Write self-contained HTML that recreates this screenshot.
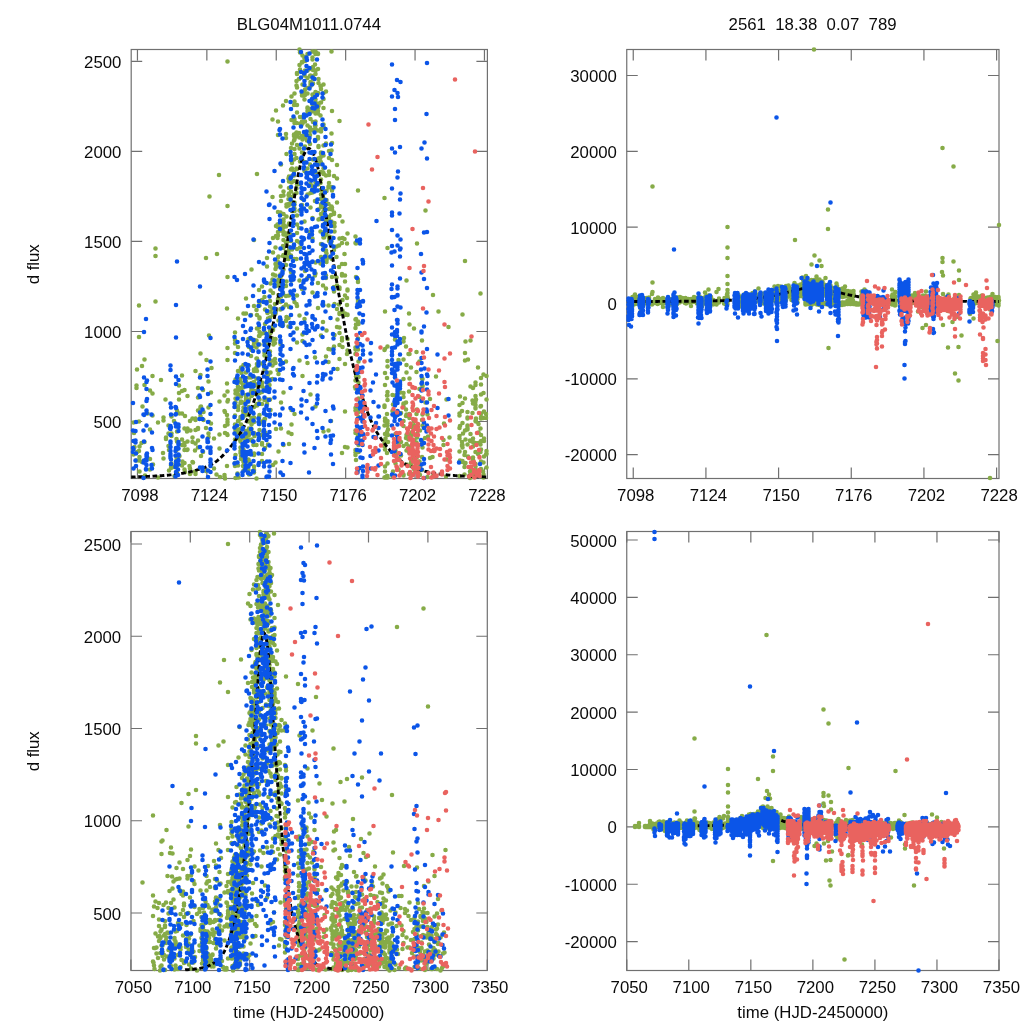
<!DOCTYPE html><html><head><meta charset="utf-8"><title>BLG04M1011.0744</title><style>html,body{margin:0;padding:0;background:#fff;overflow:hidden}svg{display:block;will-change:transform}</style></head><body><svg width="1024" height="1024" viewBox="0 0 1024 1024">
<rect width="1024" height="1024" fill="#fff"/>
<defs><clipPath id="cTL"><rect x="128.6" y="46.9" width="361.4" height="434.2"/></clipPath><clipPath id="kTL"><rect x="131.2" y="49.5" width="356.2" height="430.2"/></clipPath><clipPath id="cTR"><rect x="624.15" y="46.9" width="377.45" height="434.2"/></clipPath><clipPath id="kTR"><rect x="626.75" y="49.5" width="372.25" height="430.2"/></clipPath><clipPath id="cBL"><rect x="128.4" y="528.9" width="361.5" height="444.2"/></clipPath><clipPath id="kBL"><rect x="131.0" y="531.5" width="356.3" height="440.2"/></clipPath><clipPath id="cBR"><rect x="624.15" y="528.9" width="377.45" height="444.2"/></clipPath><clipPath id="kBR"><rect x="626.75" y="531.5" width="372.25" height="440.2"/></clipPath></defs>
<g stroke="#707070" stroke-width="1.2" fill="none"><rect x="131.2" y="49.5" width="356.2" height="429.0"/><path d="M137.45 49.50v11.0M137.45 478.50v-11.0M206.85 49.50v11.0M206.85 478.50v-11.0M276.25 49.50v11.0M276.25 478.50v-11.0M345.65 49.50v11.0M345.65 478.50v-11.0M415.05 49.50v11.0M415.05 478.50v-11.0M484.45 49.50v11.0M484.45 478.50v-11.0M131.20 421.50h11.0M487.40 421.50h-11.0M131.20 331.48h11.0M487.40 331.48h-11.0M131.20 241.45h11.0M487.40 241.45h-11.0M131.20 151.43h11.0M487.40 151.43h-11.0M131.20 61.40h11.0M487.40 61.40h-11.0"/></g>
<g fill="none" stroke-width="4.6" stroke-linecap="round">
<path d="M134.5 447h0M133.5 454.5h0M133.5 422.5h0M134 433h0M136.5 388h0M136.5 460.5h0M137 452h0M137 369.5h0M136.5 385.5h0M139 451h0M139 460.5h0M139.5 446.5h0M139.5 471.5h0M139.5 457h0M139 305.5h0M139 421.5h0M139.5 460.5h0M142 366h0M142 462h0M141.5 443h0M142.5 406.5h0M145 475.5h0M144.5 385h0M144.5 359.5h0M144.5 442h0M147.5 413.5h0M150 459h0M150 429.5h0M150 390.5h0M150 469.5h0M152.5 415.5h0M153 464.5h0M152.5 393.5h0M152.5 376h0M155.5 301.5h0M158 422.5h0M158 477.5h0M161 380h0M163 453h0M163.5 458.5h0M163.5 420.5h0M163.5 417.5h0M166 437.5h0M166 439h0M165.5 399.5h0M169 470.5h0M168.5 425.5h0M169 450h0M168.5 433.5h0M168.5 446h0M171.5 463.5h0M171.5 416.5h0M171.5 436h0M171 465.5h0M171 468h0M171.5 433.5h0M174 421h0M174 467h0M174.5 476h0M177 431.5h0M177 466h0M176.5 450h0M176.5 467.5h0M176.5 439h0M177 410.5h0M177 441.5h0M176.5 457.5h0M177 473h0M176.5 460.5h0M177 474h0M179.5 456h0M179 393h0M179 455.5h0M179 385.5h0M179 399.5h0M179.5 413.5h0M182 465.5h0M182 391h0M182 375.5h0M182 445h0M182 439.5h0M182.5 461.5h0M182 413.5h0M184.5 443h0M185 472h0M184.5 445.5h0M185 416h0M184.5 390h0M184.5 428.5h0M184.5 450h0M184.5 469.5h0M184.5 463h0M187 450h0M187.5 428.5h0M187.5 449.5h0M187.5 396h0M187.5 441.5h0M187 431.5h0M190.5 430.5h0M190 474h0M190.5 473h0M190 473.5h0M189.5 466h0M190 421h0M190 468.5h0M193 462.5h0M192.5 437.5h0M192.5 462h0M192.5 418.5h0M192.5 442h0M195.5 474h0M195 450.5h0M195 471.5h0M195.5 371h0M195.5 472h0M195.5 420h0M195.5 418.5h0M195.5 443.5h0M195.5 430h0M198 440.5h0M198 410.5h0M198 429h0M198 428h0M198 447.5h0M198 388h0M198 397.5h0M200.5 416h0M200.5 407h0M201 456h0M200.5 407.5h0M201 406.5h0M200.5 353.5h0M200.5 375h0M203.5 412h0M203.5 420h0M203 390h0M203 452h0M206 471h0M206 428h0M206.5 360h0M206 258h0M209 335.5h0M208.5 433.5h0M208.5 407.5h0M208.5 381.5h0M208.5 437h0M209 422h0M211.5 368h0M211 392.5h0M211 423.5h0M214 468.5h0M214 438.5h0M216.5 474.5h0M217 254h0M219.5 434.5h0M219.5 448.5h0M219.5 401.5h0M220 477h0M225 426h0M225 433h0M225 412h0M224.5 475h0M224.5 411h0M224.5 476.5h0M225 478.5h0M224.5 395.5h0M227 415h0M227.5 206h0M227.5 277h0M227.5 435h0M227.5 401.5h0M227 308.5h0M227.5 424.5h0M227 383.5h0M227.5 360h0M228 400h0M227 466h0M227.5 422h0M227.5 391.5h0M227 434h0M227.5 348h0M227.5 419.5h0M235.5 430.5h0M235 463.5h0M235.5 455h0M235 340h0M235 463h0M235 415.5h0M235.5 478h0M235.5 398.5h0M235 428h0M235.5 379.5h0M235.5 390.5h0M235 424.5h0M235 466h0M235 353h0M235 343.5h0M235.5 402.5h0M235.5 393.5h0M235.5 405.5h0M235 439.5h0M235 332.5h0M238.5 477.5h0M238 394.5h0M238 432.5h0M237.5 407.5h0M238 421h0M237.5 473.5h0M238 347h0M238.5 438.5h0M238 387h0M238 410h0M238 390.5h0M238 465.5h0M238 386.5h0M238 371h0M237.5 393.5h0M237.5 429.5h0M238 406.5h0M238 408.5h0M238.5 421h0M238 318.5h0M240.5 403h0M241 436h0M241 429.5h0M240.5 419h0M241 459h0M240.5 429h0M240.5 417h0M241.5 373h0M241 388h0M241 396.5h0M240.5 379h0M240.5 453h0M240.5 370h0M241 424.5h0M241 389.5h0M240.5 447.5h0M241 382.5h0M240.5 434.5h0M240.5 441.5h0M241 401.5h0M241 456h0M241 367.5h0M240.5 451h0M240.5 441h0M243.5 412.5h0M243 402.5h0M243.5 462h0M243.5 416.5h0M243.5 434.5h0M243.5 415h0M243.5 385.5h0M243 387.5h0M243.5 414h0M243.5 407.5h0M243 385h0M243.5 450h0M243 411h0M243 466h0M243.5 365h0M243.5 413h0M243.5 470.5h0M243 438h0M243.5 313.5h0M246 298.5h0M246 395.5h0M246 455h0M246 412h0M246 410.5h0M246 401h0M246 313.5h0M246 396.5h0M246 399h0M246 413.5h0M246 440h0M246 436.5h0M246.5 453.5h0M246 372.5h0M246.5 415h0M246 381.5h0M246 395h0M246 413h0M246 431h0M246 433.5h0M249 461.5h0M249 431.5h0M248.5 408h0M249 439.5h0M248.5 401.5h0M248.5 415h0M249 377.5h0M249 399.5h0M249 407h0M249 435h0M248.5 452h0M249 474.5h0M249 384h0M248.5 421.5h0M248.5 339h0M249 365.5h0M248.5 459.5h0M248.5 470h0M249 347h0M249 428.5h0M251.5 390h0M251.5 390.5h0M251.5 439.5h0M251.5 418h0M251 356h0M251.5 424.5h0M251.5 388.5h0M251.5 396h0M251 315h0M251.5 339h0M251.5 429h0M251 420.5h0M251 392h0M252 395.5h0M251.5 350h0M251 377.5h0M251.5 394.5h0M251.5 269.5h0M251.5 383h0M251.5 440.5h0M252 384.5h0M254 306h0M254 422h0M254.5 371h0M253.5 445h0M254 391h0M253.5 346h0M254.5 436h0M254 433h0M254 343h0M254 382h0M254 407h0M254 369.5h0M254 453.5h0M254 466.5h0M254 340h0M254 371h0M254 455h0M254 470h0M254 417.5h0M254 240h0M254 382.5h0M254 472.5h0M256.5 445h0M256.5 367.5h0M257 404h0M257 364h0M257 405.5h0M256.5 478.5h0M257 315h0M256.5 378.5h0M257 174h0M256.5 310h0M256.5 347.5h0M257 328.5h0M257 385.5h0M257 371h0M256.5 358.5h0M256.5 405h0M256.5 342.5h0M257 358.5h0M257 390.5h0M257 395h0M256.5 340.5h0M257 384.5h0M259 290h0M259 336h0M259.5 302h0M259.5 399.5h0M259.5 430h0M259.5 317.5h0M259.5 336h0M259.5 393h0M259.5 332h0M259.5 305.5h0M259 378.5h0M259 302h0M259 417h0M259 418h0M259.5 415h0M259.5 424h0M259 380h0M259.5 318.5h0M259 327.5h0M259.5 344.5h0M259 403.5h0M262 286.5h0M262 392h0M262 363.5h0M262 300h0M262 434.5h0M262 333.5h0M262 386.5h0M262 385.5h0M262 382.5h0M262 454h0M262 435h0M261.5 383.5h0M262.5 301h0M262 461.5h0M262 461h0M262 421.5h0M262 444.5h0M262 404h0M262 383h0M262 443h0M265 432.5h0M264.5 355.5h0M265 368.5h0M265 370h0M265 309.5h0M265 333h0M265 448h0M264.5 369h0M264.5 297h0M264.5 388.5h0M265 419h0M265 344h0M264.5 400h0M264.5 419h0M265 324h0M264.5 420h0M265 332.5h0M264.5 353h0M264.5 343h0M267 372.5h0M267 343h0M267.5 399.5h0M267.5 340h0M267.5 312.5h0M268 444.5h0M267.5 351.5h0M268 351.5h0M268 335.5h0M267 266.5h0M267 404h0M267 258h0M267.5 313h0M267.5 357.5h0M267.5 348h0M268 318.5h0M267.5 382h0M268 375h0M267.5 349.5h0M267 400.5h0M270 306.5h0M270.5 333h0M269.5 385h0M270 331.5h0M270.5 372.5h0M270.5 361.5h0M270 317.5h0M270.5 290.5h0M270.5 410h0M270.5 328h0M270 301h0M270.5 380h0M270.5 338.5h0M270.5 311.5h0M270.5 283.5h0M270 379.5h0M270 399.5h0M270 355.5h0M270 351.5h0M270 331h0M273.5 344.5h0M273 341h0M273 328.5h0M273 329h0M272.5 280h0M273 315h0M272.5 379h0M272.5 338.5h0M273 330h0M272.5 279.5h0M273 293h0M273.5 326.5h0M273 360.5h0M273 274.5h0M272.5 197h0M273 238h0M272.5 365.5h0M273 465h0M272.5 119.5h0M272.5 308.5h0M273 314h0M273 252.5h0M275.5 363h0M275.5 269h0M275.5 310h0M275.5 247.5h0M276 236h0M275.5 462.5h0M275.5 275.5h0M276 286h0M275 304h0M276 429h0M276 311h0M275 359h0M276 226h0M275.5 264h0M275.5 339h0M276 110.5h0M275 343h0M276 267.5h0M275.5 313.5h0M278 262h0M278 257.5h0M277.5 238h0M278.5 320.5h0M278 299h0M278.5 285h0M278.5 279.5h0M278.5 295h0M278 212h0M277.5 370h0M278 235.5h0M278 263.5h0M278 135h0M277.5 224.5h0M278 232h0M278.5 256.5h0M278.5 451.5h0M278 227h0M278 300h0M278.5 374h0M278 121.5h0M278.5 298.5h0M278 282h0M278 265h0M281 402.5h0M280.5 266h0M281 428.5h0M280.5 230.5h0M281 287h0M281 296.5h0M281 324.5h0M281 361.5h0M280.5 301h0M281 201h0M281 196h0M280.5 309h0M280.5 274.5h0M280.5 212.5h0M281 325.5h0M280.5 302h0M280.5 344h0M280.5 277.5h0M280.5 309.5h0M281 296h0M280.5 284h0M280.5 214.5h0M281 164.5h0M281 227.5h0M280.5 186.5h0M283.5 445h0M283 256h0M283.5 221.5h0M283 293h0M283 105.5h0M283.5 255h0M283.5 191.5h0M283.5 269.5h0M283.5 214h0M283.5 307h0M283.5 224.5h0M283.5 195.5h0M283 246h0M283.5 240h0M283.5 392.5h0M283.5 232.5h0M283 286h0M283.5 234.5h0M283 228h0M283.5 219.5h0M283.5 232h0M283 325h0M283 294.5h0M283.5 248h0M286.5 204.5h0M286.5 317h0M286 286h0M286.5 206.5h0M286.5 154h0M286 242.5h0M286.5 281.5h0M286 320.5h0M286.5 216.5h0M286.5 236h0M286 259h0M286 226.5h0M286 296h0M286 361.5h0M286 252h0M286 256h0M286 321h0M286 304.5h0M286 256.5h0M286 134h0M286 138h0M286 101h0M286 265h0M286.5 233.5h0M286.5 242.5h0M288.5 318h0M288.5 178.5h0M288.5 241h0M288.5 234.5h0M288.5 199h0M288.5 253h0M289 307h0M289 247h0M288.5 195h0M288.5 432.5h0M289 223.5h0M289 306.5h0M289 193.5h0M288.5 259h0M289 181.5h0M289 295.5h0M288.5 205.5h0M289 257.5h0M289 250h0M288.5 326.5h0M289 233h0M288.5 204h0M289 188h0M289 176.5h0M289 444h0M291 241h0M292 211h0M291.5 217.5h0M291.5 201.5h0M292 249.5h0M292 163h0M291 148h0M291 204h0M291 223.5h0M291 255.5h0M291.5 278.5h0M291.5 235h0M291.5 160h0M291 191.5h0M291.5 280.5h0M291 272h0M291 197h0M291.5 120h0M292 176h0M291.5 410h0M291.5 434h0M291.5 96.5h0M291 169.5h0M292 143.5h0M291.5 182.5h0M291.5 424.5h0M292 168.5h0M294.5 119h0M294.5 202.5h0M294.5 149h0M294.5 123h0M294.5 259h0M294 194.5h0M294.5 93.5h0M294.5 211h0M294.5 204.5h0M294.5 101.5h0M294 134.5h0M294 206h0M294.5 139h0M294.5 154h0M294 181h0M294.5 414h0M294.5 121h0M294 171.5h0M294 136h0M294 175.5h0M294 105h0M294.5 302h0M294.5 139.5h0M294.5 208.5h0M294 159.5h0M294 140.5h0M296.5 188.5h0M296.5 158h0M296.5 193h0M296.5 123h0M297 105h0M297 224.5h0M297 215.5h0M296.5 304h0M296.5 168.5h0M297 74h0M297 184.5h0M297 145h0M296.5 85.5h0M296.5 259h0M297 295.5h0M297 87.5h0M297 233h0M297 342.5h0M297 73h0M297 328.5h0M297 169h0M296.5 81h0M297 112.5h0M297 136h0M296.5 132.5h0M297 241h0M297 134h0M297 249h0M296.5 136.5h0M297 306h0M299.5 210.5h0M299 79h0M300 247.5h0M299 228h0M299.5 49.5h0M299.5 184h0M300 117h0M299.5 148.5h0M299.5 280.5h0M300 161.5h0M300 52.5h0M299.5 65h0M299.5 315.5h0M299.5 360.5h0M299 133h0M300 123.5h0M299.5 137.5h0M299.5 242.5h0M300 69.5h0M302 93.5h0M302.5 55.5h0M302.5 341h0M302 208.5h0M302 158h0M302 160h0M302 95.5h0M302.5 376h0M302 152.5h0M302 136h0M302.5 123.5h0M302 124h0M302 62h0M302 138h0M302 289h0M302.5 136h0M302 205h0M302.5 95.5h0M302.5 334.5h0M302 121.5h0M302.5 84.5h0M302.5 139.5h0M302.5 199h0M302.5 117h0M302 62.5h0M305 95h0M304.5 319h0M305 147h0M305 89.5h0M305 137.5h0M304.5 162h0M304.5 72.5h0M304.5 57h0M304.5 221.5h0M304.5 93h0M304.5 99.5h0M305 271h0M305 121.5h0M305 70.5h0M304.5 135.5h0M305 146.5h0M304.5 171h0M304.5 75.5h0M305 61h0M304.5 58.5h0M307 140.5h0M307.5 125.5h0M307.5 107.5h0M307.5 70.5h0M307.5 278h0M307.5 88h0M307.5 113.5h0M307.5 93.5h0M307.5 78h0M307.5 194.5h0M307.5 168.5h0M307.5 108.5h0M307.5 363h0M307.5 111h0M307.5 54h0M310.5 82h0M310.5 84h0M310.5 75.5h0M310.5 193h0M310.5 394.5h0M310 76h0M310.5 119h0M310.5 112.5h0M310 164.5h0M310 131h0M310 144h0M310.5 184h0M310 232h0M310 127.5h0M310.5 207.5h0M310.5 86h0M310 109h0M310 135h0M310 69h0M312.5 94.5h0M313 186.5h0M313 159.5h0M313 172h0M312.5 51.5h0M313 76h0M312.5 192.5h0M312.5 104.5h0M312.5 218h0M312.5 59.5h0M313 130h0M312.5 57.5h0M312.5 111h0M313 67h0M313 122h0M313 78.5h0M313 83.5h0M313 96h0M313 68.5h0M312.5 238.5h0M312.5 292.5h0M313 70h0M315.5 54h0M315.5 105.5h0M315 357.5h0M315.5 129h0M315.5 177h0M315.5 121.5h0M315.5 70.5h0M315.5 172h0M315.5 182.5h0M315 123.5h0M315 98h0M315.5 140.5h0M315.5 262.5h0M315.5 273.5h0M315.5 177.5h0M315 64.5h0M315.5 74h0M315.5 92h0M315 275.5h0M315 103h0M315.5 51.5h0M315 111h0M315.5 99.5h0M315 201h0M315.5 106h0M315.5 406.5h0M315 126h0M315.5 125.5h0M315.5 113.5h0M318.5 158.5h0M318 130.5h0M318 54h0M318 107.5h0M318 93h0M318 163.5h0M318.5 219.5h0M318.5 147h0M318 137h0M318.5 106h0M318 113.5h0M318.5 209.5h0M318 138.5h0M318.5 146h0M318 308h0M318 111h0M318.5 79h0M318.5 83h0M318 184.5h0M318 53.5h0M318 103.5h0M318 175h0M318 69h0M318 283h0M321 179.5h0M321 162.5h0M321 153.5h0M321 89h0M320.5 162.5h0M320.5 183h0M321 214h0M320.5 172h0M321 102.5h0M320.5 199h0M321 219h0M320.5 86h0M320.5 218.5h0M321 257h0M321 86h0M321 129h0M320.5 161.5h0M321 207h0M321 204.5h0M320.5 164h0M321 194.5h0M321 244h0M320.5 231.5h0M321 335.5h0M320.5 115.5h0M320.5 190h0M321 152.5h0M321 131.5h0M320.5 263.5h0M320.5 157.5h0M324 237.5h0M323.5 155.5h0M324 250h0M323.5 145.5h0M323.5 168.5h0M323.5 305h0M323 285.5h0M323.5 198.5h0M323.5 246h0M323.5 224.5h0M323 322h0M323 207.5h0M323.5 174h0M323.5 211.5h0M323.5 431.5h0M323.5 99h0M323.5 245.5h0M323.5 84.5h0M323.5 124.5h0M323 226h0M323.5 93h0M323.5 191.5h0M323 195h0M323.5 108h0M323.5 173h0M324 236.5h0M323.5 126.5h0M324 232.5h0M323.5 213.5h0M323.5 237.5h0M326 356.5h0M326 234.5h0M326.5 203.5h0M326 217h0M326 261.5h0M326 288.5h0M326.5 260.5h0M326 250.5h0M326 221h0M326.5 200h0M326 259h0M326.5 330.5h0M326 175.5h0M326 252h0M326.5 253.5h0M326.5 262h0M326.5 258h0M326 143.5h0M326 278h0M326.5 191h0M326 251h0M326 91.5h0M326 275.5h0M329 171.5h0M329 241h0M328.5 186.5h0M328.5 349h0M329 218h0M329 238h0M328.5 221.5h0M329 151h0M328.5 305.5h0M328.5 430.5h0M329 236.5h0M329 158h0M329 183h0M329 209h0M328.5 204h0M329 222h0M329 175h0M328.5 362h0M328.5 257.5h0M328.5 187.5h0M328.5 217h0M331.5 225.5h0M332 207.5h0M331.5 245.5h0M332 259h0M332 190.5h0M331 215h0M332 225.5h0M332 143h0M331 421h0M332 209.5h0M332 111h0M331 349.5h0M331.5 206.5h0M331.5 207.5h0M331.5 133.5h0M331.5 241.5h0M331.5 187h0M332 160h0M331 240.5h0M331.5 221.5h0M331.5 150.5h0M332 277h0M331.5 237.5h0M331.5 208.5h0M331.5 51.5h0M334.5 335h0M334 212.5h0M334 214h0M334 287h0M334 346.5h0M334 291.5h0M334 250h0M334 176h0M334.5 304h0M334.5 231.5h0M334.5 223h0M334.5 226.5h0M337.5 319.5h0M337 202.5h0M337 285.5h0M336.5 277.5h0M336.5 246.5h0M337 327h0M337 178.5h0M337 165h0M337 309h0M337.5 369h0M336.5 257h0M339.5 121h0M339.5 289h0M339 267h0M339.5 345h0M339 304.5h0M339.5 313h0M339.5 287.5h0M339.5 333h0M339.5 314h0M339.5 359h0M339.5 216h0M339 245.5h0M339.5 238.5h0M339.5 327.5h0M342.5 347h0M342 275.5h0M342 338h0M342 340.5h0M342 274h0M342 243h0M342 264h0M342.5 238h0M342 453h0M342.5 221.5h0M342.5 310.5h0M342.5 313h0M342.5 300h0M344.5 254h0M345 313.5h0M345 295.5h0M345 411.5h0M345 275.5h0M344.5 239h0M345 364h0M345 447h0M345 264h0M344.5 315h0M345 281.5h0M347 298h0M347.5 350.5h0M347 354h0M347 243.5h0M347.5 233.5h0M347.5 339h0M347.5 315h0M347 305h0M347.5 289.5h0M347.5 447.5h0M347.5 290.5h0M347.5 314.5h0M355.5 410.5h0M356 243.5h0M355.5 433h0M355.5 354h0M356 354h0M355.5 388.5h0M355 387h0M355.5 243h0M355.5 236.5h0M356 324.5h0M355.5 430.5h0M356 410h0M355.5 328h0M356 376.5h0M355.5 452.5h0M356 460h0M355.5 319.5h0M355.5 455h0M355.5 450h0M355.5 370h0M355.5 349.5h0M355.5 408h0M355.5 380.5h0M355.5 347.5h0M356 277h0M356 319h0M358 338.5h0M358 302h0M358.5 444.5h0M358.5 417h0M358 300h0M358 279.5h0M358.5 324h0M358.5 382.5h0M358 390.5h0M358 441h0M358.5 385.5h0M358 437.5h0M358.5 398.5h0M358 282h0M358 470h0M358 349.5h0M358 190.5h0M358.5 377h0M358 433h0M358.5 452h0M358 410h0M358.5 445h0M358 412.5h0M358 436.5h0M358 432h0M358 321.5h0M358.5 361.5h0M358 344h0M358 399.5h0M358.5 438h0M358 431.5h0M358 306.5h0M385 466.5h0M384.5 350h0M385.5 419h0M385 421h0M384.5 477.5h0M385 471.5h0M385 434h0M384.5 407h0M385.5 477h0M384.5 405.5h0M384.5 443h0M385 449.5h0M385 373h0M384.5 406h0M385 349h0M385 418.5h0M384.5 425.5h0M384.5 441h0M385 385h0M384.5 446.5h0M385 311.5h0M384.5 198h0M385.5 438.5h0M387 432h0M387.5 248h0M388 442h0M387.5 395.5h0M388 435h0M387.5 346.5h0M387.5 392h0M387 378h0M387.5 366.5h0M387 395.5h0M387 414h0M387 476h0M387.5 425.5h0M387.5 400h0M387 453h0M387.5 361h0M387.5 463.5h0M387.5 477.5h0M387.5 421h0M387.5 423.5h0M387.5 434.5h0M388 429.5h0M387.5 476h0M393 471.5h0M393 414.5h0M392.5 395h0M392.5 411h0M392.5 476.5h0M393 404.5h0M396 454h0M395.5 463.5h0M395.5 416h0M395.5 450.5h0M395 377h0M395.5 395.5h0M395.5 434h0M395 339.5h0M398.5 469.5h0M398.5 360h0M398.5 444h0M398 458.5h0M398 413.5h0M401 442h0M401 413h0M400.5 413.5h0M400.5 392.5h0M401 473h0M401 455.5h0M403.5 446h0M403.5 475.5h0M403.5 379h0M403.5 404.5h0M403.5 426h0M403.5 403.5h0M403.5 406.5h0M403.5 359.5h0M403.5 474.5h0M403.5 421h0M403.5 341.5h0M404 338h0M403.5 393h0M403.5 404h0M403.5 397h0M406.5 438h0M406.5 444h0M406.5 450.5h0M406.5 437.5h0M406.5 435h0M406.5 414.5h0M406.5 372.5h0M406.5 365h0M406 409.5h0M406 402.5h0M406 438h0M406.5 280.5h0M406.5 464.5h0M406 416h0M406 346.5h0M409.5 354h0M409 452h0M409 391.5h0M409.5 418h0M409 313.5h0M408.5 354h0M409 474h0M409 446.5h0M409.5 378.5h0M409 435h0M409.5 324.5h0M409.5 465.5h0M409.5 414h0M408.5 439.5h0M411 436.5h0M411 367.5h0M411.5 425.5h0M412 450.5h0M411.5 434.5h0M411.5 460.5h0M411 462.5h0M411 465h0M411.5 427h0M411 473.5h0M411.5 432.5h0M414 469h0M414 457.5h0M414 461h0M414 421.5h0M414.5 441h0M414 425.5h0M414 455.5h0M414 328.5h0M414 451.5h0M416.5 442.5h0M417 409.5h0M416.5 372h0M417 444.5h0M417 472h0M417 457h0M416.5 434.5h0M417 243.5h0M417 434h0M417 437.5h0M417 469.5h0M416.5 443h0M417 463.5h0M417 470h0M416.5 352h0M416.5 414h0M419.5 397h0M420 430.5h0M420 467h0M419.5 361.5h0M419.5 389h0M419 362.5h0M419.5 461.5h0M419.5 470.5h0M419.5 475h0M419.5 464.5h0M419 461.5h0M420 475h0M422 470h0M422 457h0M422.5 386.5h0M422 389.5h0M422 420h0M422.5 414.5h0M422 340.5h0M422 443.5h0M422.5 447.5h0M422.5 379h0M422.5 425.5h0M422 378.5h0M422 441h0M422.5 385.5h0M425.5 210.5h0M425 438h0M425.5 402.5h0M427.5 477h0M427.5 414.5h0M428 436.5h0M430 399h0M430 458h0M433 476h0M432.5 457h0M433 295h0M436 376.5h0M438.5 311.5h0M443.5 440h0M443.5 445h0M444 423.5h0M446.5 459.5h0M446.5 399.5h0M446 476.5h0M449.5 437.5h0M448.5 327h0M459.5 413.5h0M459.5 436h0M460 460.5h0M459.5 451.5h0M459.5 428h0M459.5 415.5h0M460 426h0M459.5 438.5h0M459.5 476h0M460 462h0M459.5 405h0M460 396.5h0M462.5 423h0M462 445h0M462.5 447.5h0M462 446h0M462.5 462h0M462.5 445h0M462 411h0M462.5 461h0M462.5 403h0M462 442h0M462.5 314.5h0M463 433.5h0M465 463.5h0M465 452h0M465 430.5h0M465 360.5h0M465.5 341.5h0M465 353h0M464.5 455h0M464.5 467h0M465.5 463h0M465.5 439.5h0M465 261h0M465 398.5h0M464.5 474.5h0M467.5 428h0M467.5 418.5h0M467.5 426.5h0M467.5 444.5h0M467.5 425.5h0M467.5 417.5h0M467.5 429.5h0M468 359.5h0M467.5 428.5h0M468 456.5h0M468 457h0M467.5 412h0M470 475h0M470 471.5h0M470.5 340.5h0M470 440.5h0M470.5 476.5h0M470.5 434h0M470.5 441h0M470.5 471h0M470 478h0M470.5 386.5h0M473 438.5h0M473 442h0M473 403.5h0M473 461h0M472.5 413h0M473 388h0M473 446.5h0M473 459.5h0M473 457.5h0M473 476h0M472.5 477h0M472.5 400.5h0M475.5 466.5h0M476 399.5h0M475.5 408.5h0M475.5 452h0M475.5 421h0M475.5 382.5h0M476 418.5h0M475.5 470h0M475.5 407.5h0M475.5 385h0M475.5 396h0M476 419h0M475.5 401.5h0M475.5 464h0M475.5 405h0M475.5 443h0M475.5 475.5h0M476 421.5h0M478.5 432.5h0M478 367.5h0M478.5 424h0M478 454h0M478.5 443h0M481 441h0M481 418.5h0M481 413.5h0M481 378h0M480.5 428.5h0M481 384.5h0M481 417h0M480.5 444.5h0M481 449.5h0M481 435h0M481 461.5h0M481 406h0M480.5 452h0M480.5 406.5h0M481 469h0M481 394.5h0M480.5 442.5h0M480.5 293.5h0M483.5 477.5h0M483 471.5h0M483.5 393h0M484 456.5h0M483.5 462.5h0M483.5 374.5h0M483.5 477h0M483.5 418h0M484 438.5h0M484 441h0M483.5 474.5h0M484 411.5h0M486.5 451h0M486 418h0M486.5 467.5h0M486.5 453.5h0M486.5 454h0M486.5 376h0M486 454.5h0M486 414h0M486.5 399.5h0M227.5 61.5h0M155.5 248.5h0M155.5 256h0M209.5 196.5h0M139 337h0M219 175h0" stroke="#86ab47"/>
</g>
<polyline clip-path="url(#kTL)" points="131.0,477.0 131.9,477.0 132.8,476.9 133.7,476.9 134.6,476.9 135.5,476.9 136.4,476.8 137.3,476.8 138.2,476.8 139.1,476.7 140.0,476.7 140.9,476.7 141.8,476.6 142.6,476.6 143.5,476.6 144.4,476.5 145.3,476.5 146.2,476.5 147.1,476.4 148.0,476.4 148.9,476.4 149.8,476.3 150.7,476.3 151.6,476.2 152.5,476.2 153.4,476.1 154.2,476.1 155.1,476.0 156.0,476.0 156.9,475.9 157.8,475.9 158.7,475.8 159.6,475.8 160.5,475.7 161.4,475.7 162.3,475.6 163.2,475.5 164.1,475.5 165.0,475.4 165.8,475.3 166.7,475.3 167.6,475.2 168.5,475.1 169.4,475.0 170.3,474.9 171.2,474.9 172.1,474.8 173.0,474.7 173.9,474.6 174.8,474.5 175.7,474.4 176.6,474.2 177.4,474.1 178.3,474.0 179.2,473.9 180.1,473.7 181.0,473.6 181.9,473.4 182.8,473.3 183.7,473.1 184.6,472.9 185.5,472.8 186.4,472.6 187.3,472.4 188.2,472.2 189.1,472.0 189.9,471.8 190.8,471.6 191.7,471.4 192.6,471.1 193.5,470.9 194.4,470.7 195.3,470.4 196.2,470.2 197.1,469.9 198.0,469.7 198.9,469.4 199.8,469.1 200.7,468.8 201.5,468.6 202.4,468.3 203.3,468.0 204.2,467.7 205.1,467.3 206.0,467.0 206.9,466.7 207.8,466.4 208.7,466.0 209.6,465.6 210.5,465.1 211.4,464.7 212.3,464.1 213.1,463.6 214.0,463.0 214.9,462.4 215.8,461.7 216.7,461.1 217.6,460.4 218.5,459.6 219.4,458.8 220.3,458.0 221.2,457.2 222.1,456.3 223.0,455.4 223.9,454.5 224.7,453.6 225.6,452.6 226.5,451.6 227.4,450.6 228.3,449.5 229.2,448.4 230.1,447.3 231.0,446.2 231.9,445.1 232.8,443.9 233.7,442.7 234.6,441.5 235.5,440.3 236.3,439.0 237.2,437.7 238.1,436.4 239.0,435.1 239.9,433.8 240.8,432.4 241.7,430.9 242.6,429.3 243.5,427.6 244.4,425.8 245.3,423.9 246.2,421.9 247.1,419.8 248.0,417.7 248.8,415.4 249.7,413.1 250.6,410.7 251.5,408.3 252.4,405.7 253.3,403.1 254.2,400.5 255.1,397.8 256.0,395.0 256.9,392.2 257.8,389.3 258.7,386.3 259.6,383.4 260.4,380.4 261.3,377.3 262.2,374.2 263.1,370.9 264.0,367.5 264.9,363.9 265.8,360.1 266.7,356.2 267.6,352.1 268.5,347.9 269.4,343.6 270.3,339.2 271.2,334.8 272.0,330.2 272.9,325.6 273.8,320.9 274.7,316.2 275.6,311.4 276.5,306.6 277.4,301.8 278.3,297.0 279.2,292.1 280.1,286.9 281.0,281.7 281.9,276.3 282.8,270.9 283.6,265.4 284.5,259.8 285.4,254.2 286.3,248.5 287.2,242.9 288.1,237.3 289.0,231.7 289.9,226.1 290.8,220.6 291.7,215.1 292.6,209.5 293.5,203.7 294.4,197.8 295.2,192.2 296.1,187.0 297.0,181.8 297.9,176.8 298.8,172.1 299.7,167.9 300.6,164.2 301.5,161.2 302.4,158.5 303.3,156.1 304.2,154.0 305.1,152.3 306.0,150.9 306.9,149.8 307.7,148.9 308.6,148.3 309.5,148.6 310.4,149.4 311.3,150.5 312.2,151.7 313.1,153.3 314.0,155.2 314.9,157.5 315.8,160.1 316.7,163.0 317.6,166.3 318.5,170.4 319.3,174.9 320.2,179.8 321.1,184.9 322.0,190.1 322.9,195.4 323.8,201.3 324.7,207.2 325.6,212.8 326.5,218.4 327.4,223.9 328.3,229.4 329.2,235.0 330.1,240.6 330.9,246.3 331.8,251.9 332.7,257.5 333.6,263.1 334.5,268.7 335.4,274.2 336.3,279.5 337.2,284.8 338.1,290.0 339.0,295.0 339.9,299.9 340.8,304.7 341.7,309.5 342.5,314.3 343.4,319.0 344.3,323.7 345.2,328.4 346.1,332.9 347.0,337.5 347.9,341.9 348.8,346.2 349.7,350.5 350.6,354.6 351.5,358.5 352.4,362.4 353.3,366.1 354.1,369.6 355.0,372.9 355.9,376.1 356.8,379.1 357.7,382.2 358.6,385.2 359.5,388.1 360.4,391.0 361.3,393.9 362.2,396.7 363.1,399.4 364.0,402.1 364.9,404.7 365.8,407.3 366.6,409.8 367.5,412.2 368.4,414.5 369.3,416.8 370.2,419.0 371.1,421.1 372.0,423.1 372.9,425.0 373.8,426.9 374.7,428.6 375.6,430.3 376.5,431.8 377.4,433.2 378.2,434.6 379.1,435.9 380.0,437.2 380.9,438.5 381.8,439.8 382.7,441.0 383.6,442.2 384.5,443.4 385.4,444.6 386.3,445.8 387.2,446.9 388.1,448.0 389.0,449.1 389.8,450.2 390.7,451.2 391.6,452.2 392.5,453.2 393.4,454.1 394.3,455.1 395.2,456.0 396.1,456.9 397.0,457.7 397.9,458.5 398.8,459.3 399.7,460.1 400.6,460.8 401.4,461.5 402.3,462.1 403.2,462.8 404.1,463.4 405.0,463.9 405.9,464.5 406.8,464.9 407.7,465.4 408.6,465.8 409.5,466.2 410.4,466.6 411.3,466.9 412.2,467.2 413.0,467.5 413.9,467.8 414.8,468.1 415.7,468.4 416.6,468.7 417.5,469.0 418.4,469.3 419.3,469.6 420.2,469.8 421.1,470.1 422.0,470.3 422.9,470.6 423.8,470.8 424.6,471.1 425.5,471.3 426.4,471.5 427.3,471.7 428.2,471.9 429.1,472.1 430.0,472.3 430.9,472.5 431.8,472.7 432.7,472.9 433.6,473.0 434.5,473.2 435.4,473.4 436.3,473.5 437.1,473.7 438.0,473.8 438.9,473.9 439.8,474.1 440.7,474.2 441.6,474.3 442.5,474.4 443.4,474.5 444.3,474.6 445.2,474.7 446.1,474.8 447.0,474.9 447.9,475.0 448.7,475.1 449.6,475.1 450.5,475.2 451.4,475.3 452.3,475.4 453.2,475.4 454.1,475.5 455.0,475.6 455.9,475.6 456.8,475.7 457.7,475.7 458.6,475.8 459.5,475.9 460.3,475.9 461.2,476.0 462.1,476.0 463.0,476.1 463.9,476.1 464.8,476.2 465.7,476.2 466.6,476.3 467.5,476.3 468.4,476.3 469.3,476.4 470.2,476.4 471.1,476.5 471.9,476.5 472.8,476.5 473.7,476.6 474.6,476.6 475.5,476.6 476.4,476.7 477.3,476.7 478.2,476.7 479.1,476.8 480.0,476.8 480.9,476.8 481.8,476.8 482.7,476.9 483.5,476.9 484.4,476.9 485.3,477.0 486.2,477.0 487.1,477.0" fill="none" stroke="#000" stroke-width="2.9" stroke-dasharray="4.6 2.6"/>
<g fill="none" stroke-width="4.6" stroke-linecap="round">
<path d="M133.5 468.5h0M133.5 441h0M133 448h0M133.5 449.5h0M133 430.5h0M133 452h0M133 403h0M136 422h0M135.5 442.5h0M135.5 431h0M135.5 440.5h0M135.5 460.5h0M136 453.5h0M136 466h0M144 377.5h0M144 415h0M143.5 462.5h0M143.5 430.5h0M144 332h0M144 460.5h0M144 441.5h0M143.5 478h0M143.5 414.5h0M146.5 389h0M146.5 382h0M146.5 458.5h0M146.5 465h0M146.5 401h0M146.5 425.5h0M147 456.5h0M146.5 413h0M147 453.5h0M146.5 460.5h0M147 380.5h0M146 469.5h0M146.5 410.5h0M146.5 454.5h0M146.5 456h0M146 469h0M147 399h0M151.5 414.5h0M152 432.5h0M152 448h0M152 468.5h0M152.5 450h0M151.5 465h0M170.5 455.5h0M170.5 426h0M170.5 456.5h0M170.5 451h0M171 414.5h0M171 427.5h0M170.5 429h0M171 459.5h0M170.5 435h0M170.5 447h0M170 428.5h0M171 464h0M170.5 454h0M170.5 458h0M170.5 370h0M170.5 403.5h0M170.5 443h0M171 407.5h0M170.5 365.5h0M170.5 441.5h0M175.5 407h0M175.5 423.5h0M176 384h0M176 408h0M176 472h0M176 376.5h0M176 449.5h0M175.5 451h0M176 305h0M176 337.5h0M175.5 455.5h0M175.5 414.5h0M175.5 476.5h0M176 464.5h0M176 461.5h0M176 426.5h0M176 448h0M175.5 467h0M176 407.5h0M176 414h0M178.5 454.5h0M178.5 380h0M178.5 455.5h0M178 475h0M178.5 448.5h0M178.5 464.5h0M178.5 460.5h0M178.5 431h0M178.5 442h0M178.5 444.5h0M178.5 424.5h0M178.5 460h0M178.5 443.5h0M178.5 427h0M178 469.5h0M199.5 419h0M200 412.5h0M200 286.5h0M200 447h0M200 467.5h0M200 397h0M199.5 395.5h0M200 377.5h0M202.5 467.5h0M202 388.5h0M202.5 419h0M202.5 468.5h0M202.5 436.5h0M202.5 409.5h0M202.5 451h0M202.5 471h0M207.5 447.5h0M208 422h0M207.5 439h0M207.5 369.5h0M207.5 442h0M208 477h0M208 470.5h0M207.5 440h0M207.5 376h0M208 394h0M208 442h0M210.5 451h0M210.5 361.5h0M210.5 466h0M210.5 338h0M210.5 414h0M210.5 472h0M210.5 429h0M210.5 459.5h0M210.5 460h0M210.5 405h0M210.5 447.5h0M210.5 453h0M210.5 462.5h0M227 450.5h0M234.5 403.5h0M234.5 417h0M234.5 277h0M234.5 446h0M234.5 463.5h0M234.5 427.5h0M235 360.5h0M235 458h0M234.5 443h0M234.5 382h0M234.5 433.5h0M234.5 337h0M234.5 448.5h0M234.5 407h0M237 280h0M237.5 398.5h0M237.5 474.5h0M237.5 462.5h0M237 377.5h0M237.5 342h0M237.5 375.5h0M237 436.5h0M237 425.5h0M237 383h0M237.5 381.5h0M237.5 354h0M242.5 392.5h0M242.5 453h0M242.5 472.5h0M242.5 418h0M242.5 429.5h0M242.5 444h0M242.5 368.5h0M242.5 392h0M242.5 416h0M243 339h0M242.5 455.5h0M242.5 369.5h0M243 376.5h0M242.5 451h0M242 436.5h0M242.5 353.5h0M243 326h0M242.5 475h0M243 436h0M242.5 447h0M242.5 393.5h0M243 428h0M245.5 364h0M245.5 458h0M245.5 433.5h0M245.5 461.5h0M245 452h0M245.5 455.5h0M245.5 465.5h0M245.5 404h0M245 320h0M245 461h0M245 381h0M245 458.5h0M245.5 445h0M245.5 468.5h0M245 443h0M245 380h0M245 442h0M245.5 386.5h0M245 455.5h0M245.5 378h0M245.5 332h0M245.5 411h0M245.5 408.5h0M245 274h0M245 470h0M248 369.5h0M247.5 342h0M248 306h0M248 472.5h0M248 365h0M248 465.5h0M248 354.5h0M247.5 384.5h0M247.5 452h0M248 466.5h0M248 370.5h0M248.5 466.5h0M248 394.5h0M248 454h0M248 345.5h0M248 385h0M248 386h0M248 401.5h0M248 473h0M247.5 446.5h0M247.5 441h0M247.5 367h0M250.5 410h0M251 409.5h0M250.5 408h0M251 429h0M251 386.5h0M251 328.5h0M251 454.5h0M250.5 451h0M250.5 474h0M250.5 338h0M250.5 330h0M250.5 374.5h0M250.5 464h0M251 347.5h0M250.5 385.5h0M250.5 315.5h0M250.5 384h0M250.5 452h0M251 412h0M253.5 413.5h0M253 441.5h0M253 376h0M253.5 385h0M253 471h0M253 412.5h0M253.5 441.5h0M253.5 386.5h0M253 433h0M253 393h0M253.5 420.5h0M253 296h0M253 351h0M253.5 471.5h0M253.5 376.5h0M253.5 239.5h0M253.5 285.5h0M253.5 340h0M253.5 461h0M253 433.5h0M258.5 323.5h0M258.5 364h0M258 434h0M258.5 453.5h0M259 404h0M258.5 352h0M259 437.5h0M258.5 306h0M258.5 434h0M258.5 344.5h0M258.5 351.5h0M258.5 440h0M258.5 464.5h0M259 325h0M258.5 465h0M258.5 361.5h0M259 262h0M258.5 391h0M259 463h0M258.5 397.5h0M259 383h0M258.5 422h0M259 301h0M258.5 418.5h0M258.5 365.5h0M259 439h0M259 424h0M258.5 378.5h0M264 362h0M264 425.5h0M264 449.5h0M264 430h0M264 413.5h0M263.5 263.5h0M264 435.5h0M264 390.5h0M263.5 431.5h0M264 376.5h0M264.5 282h0M264.5 350.5h0M264 328h0M263.5 302h0M264 423.5h0M264 341h0M264 281h0M264 466.5h0M264 422h0M263.5 390.5h0M264 329.5h0M264 438h0M264.5 409.5h0M264 412.5h0M264 431.5h0M264 463h0M264 292h0M264 366h0M264.5 345h0M264 279.5h0M264.5 397.5h0M266.5 302h0M267 461.5h0M267 435h0M266.5 415h0M266.5 191.5h0M266.5 391h0M266.5 406.5h0M267 378h0M266.5 367.5h0M267 336h0M267 381.5h0M266.5 477h0M266.5 334h0M266.5 303.5h0M266.5 340.5h0M266.5 372.5h0M266.5 440h0M266.5 322h0M266.5 382.5h0M266.5 406h0M267 321.5h0M267 476.5h0M267 387h0M266.5 283h0M266.5 338h0M267 347.5h0M267 311h0M266.5 303h0M269 410h0M269.5 296.5h0M269.5 380h0M269 205h0M269.5 471.5h0M270 414.5h0M269.5 432h0M269.5 445.5h0M269 425h0M269.5 320.5h0M269 251.5h0M269.5 364.5h0M269.5 340.5h0M269.5 380.5h0M269.5 437h0M269 476.5h0M269.5 243h0M269.5 219h0M269.5 461.5h0M269 353h0M269 400h0M269.5 466.5h0M269 359h0M269 327.5h0M269.5 355h0M269.5 204.5h0M269 392h0M269.5 416.5h0M269.5 389h0M274.5 171h0M274.5 286.5h0M275 259.5h0M274.5 207.5h0M275 312.5h0M274.5 422.5h0M275 325.5h0M275 414.5h0M274.5 397.5h0M274.5 308.5h0M274.5 284.5h0M275 379.5h0M274.5 280.5h0M274.5 391.5h0M280.5 364.5h0M280 336.5h0M280 414.5h0M280 415.5h0M280.5 354h0M280.5 322h0M280.5 472.5h0M279.5 130h0M280.5 350h0M280.5 319.5h0M280.5 248.5h0M280.5 289.5h0M280 424.5h0M280.5 267.5h0M280 129h0M280 370h0M280 229h0M280.5 340.5h0M280.5 295h0M280.5 163.5h0M280.5 342h0M280 324.5h0M280 379.5h0M280 220.5h0M280 276h0M280.5 321h0M280 360h0M280 134.5h0M280 263.5h0M280.5 348.5h0M280 317.5h0M280 222.5h0M280 215.5h0M282.5 273.5h0M282.5 285.5h0M282.5 292h0M283 368.5h0M282.5 271.5h0M282.5 326h0M282.5 288h0M282.5 346h0M282.5 323h0M283 475h0M282.5 284.5h0M282.5 265h0M282.5 293.5h0M283 444h0M282.5 272.5h0M283 281h0M283 363h0M283 284.5h0M282.5 408.5h0M282.5 355.5h0M282.5 138.5h0M282.5 301h0M282.5 380h0M282.5 461h0M282.5 308.5h0M283 181h0M290.5 102h0M291 156h0M291 187h0M290.5 276.5h0M291 109h0M290.5 335h0M290.5 327h0M291 277h0M290.5 323h0M290.5 269.5h0M290.5 349h0M291 160h0M290.5 199.5h0M290.5 463h0M290.5 178.5h0M291 159h0M290.5 247.5h0M291 284.5h0M290.5 291.5h0M291 293h0M290.5 237h0M290.5 210h0M291 315h0M291 280h0M291 257h0M291 265h0M290.5 152h0M290.5 408h0M291 230.5h0M290.5 388h0M291 240h0M291 177.5h0M291 307.5h0M293 216h0M293.5 220.5h0M294 174h0M294 245.5h0M293 295h0M294 375.5h0M294 244.5h0M293.5 223.5h0M293.5 298.5h0M293.5 247.5h0M293.5 209h0M293.5 332.5h0M293 374h0M293.5 204.5h0M294 290.5h0M293.5 279.5h0M294 266h0M293 275.5h0M293.5 174.5h0M293.5 323h0M293.5 368h0M293.5 272h0M294 277h0M293 261h0M293.5 127.5h0M293 226h0M293.5 339.5h0M293 410h0M293.5 235h0M293 369h0M293.5 116.5h0M294 204.5h0M301 286h0M301.5 323h0M301.5 222.5h0M301.5 91.5h0M301.5 188h0M301 72h0M301 209.5h0M301 175h0M301.5 237.5h0M301.5 405.5h0M301 287h0M301 158.5h0M301.5 157.5h0M301.5 214.5h0M301 183.5h0M301.5 242h0M301.5 286h0M301.5 192h0M301.5 193.5h0M301.5 212h0M301 252h0M301.5 244h0M301.5 228.5h0M301 258.5h0M301 205.5h0M301 126.5h0M301 144.5h0M301.5 198h0M301 182.5h0M301 323.5h0M301.5 399.5h0M301 412.5h0M301 52h0M301.5 268.5h0M301 77.5h0M301.5 275.5h0M304.5 342.5h0M303.5 391h0M304 167h0M303.5 238h0M304 280.5h0M304 163h0M304 200h0M304 444.5h0M304.5 81h0M304 332.5h0M303.5 293h0M303.5 239.5h0M304 148.5h0M304.5 189h0M304.5 322.5h0M304.5 254h0M304 208.5h0M304 117.5h0M304.5 452.5h0M303.5 168.5h0M304 116.5h0M304 73.5h0M304.5 288.5h0M304 248h0M304.5 263h0M304.5 73h0M304 114.5h0M304.5 85h0M304 239h0M304 267h0M304 132h0M303.5 282.5h0M306.5 254.5h0M306.5 261.5h0M306.5 270h0M306.5 333h0M306.5 326h0M306.5 328.5h0M306.5 258h0M306.5 57.5h0M307 176h0M306.5 173h0M307 418.5h0M306.5 66h0M306.5 177.5h0M307 60h0M306.5 357h0M306.5 313.5h0M307 261.5h0M306.5 115.5h0M306.5 401h0M306.5 230h0M306.5 264h0M306.5 231h0M306.5 183.5h0M306.5 211h0M306.5 162.5h0M307 174.5h0M306.5 263.5h0M306.5 305.5h0M307 204.5h0M306.5 345h0M306.5 131.5h0M306.5 196.5h0M306.5 259h0M306.5 135h0M306.5 173.5h0M306.5 71h0M306.5 279.5h0M309.5 114h0M309.5 344.5h0M309.5 301h0M309.5 152.5h0M309.5 173h0M309.5 263h0M309.5 235h0M309 237.5h0M309.5 68h0M309 276h0M309.5 253h0M309.5 138h0M309 186h0M309.5 266h0M309.5 88.5h0M309.5 383h0M309 247h0M309.5 304.5h0M309 141.5h0M309 472.5h0M309 331h0M309.5 159h0M309.5 101h0M309.5 53.5h0M309 179.5h0M311.5 228.5h0M311.5 180.5h0M312 167h0M312 283.5h0M312 170.5h0M312.5 316h0M312.5 340h0M312.5 424h0M312.5 219h0M312 262h0M312.5 279.5h0M312.5 261.5h0M312 166.5h0M312.5 241h0M312.5 174h0M312.5 77.5h0M311.5 269.5h0M312 190h0M312.5 408.5h0M312 103h0M312.5 278.5h0M312.5 250.5h0M312.5 108h0M312 231h0M312.5 317.5h0M312 99h0M312 152h0M312 84.5h0M312 234.5h0M312 324h0M311.5 153h0M312.5 327.5h0M314.5 271h0M314.5 132.5h0M314.5 79h0M315 329.5h0M314.5 448h0M315 319.5h0M314.5 152h0M315 179.5h0M315 171h0M315 186.5h0M314.5 273h0M314.5 171h0M315 190h0M314.5 191.5h0M315 123.5h0M315 164.5h0M315 141h0M314.5 176.5h0M314.5 159h0M314.5 108.5h0M315 97h0M315 178h0M315 227h0M315 140h0M314.5 103.5h0M315 296.5h0M314.5 352h0M317 294.5h0M317.5 210h0M317 326.5h0M317 106.5h0M317 431h0M317.5 293h0M317 176h0M317.5 438h0M317.5 183h0M317 382.5h0M317.5 399h0M317.5 165h0M317 95h0M317 184h0M317 202h0M317.5 327h0M317.5 376h0M317.5 199.5h0M317.5 395.5h0M317 226.5h0M317 59.5h0M317 362.5h0M317.5 190.5h0M318 261h0M317 403.5h0M317.5 296h0M317.5 326h0M322.5 244.5h0M323 273.5h0M323 249.5h0M322.5 428h0M323 226.5h0M323 305.5h0M322.5 119.5h0M322.5 202.5h0M323 225h0M323 188h0M322.5 218h0M323 234h0M323 262h0M322.5 260.5h0M322.5 125h0M322.5 259h0M322.5 337h0M322.5 219h0M322.5 97.5h0M322.5 304.5h0M323 153h0M323 265.5h0M322.5 93.5h0M323 377h0M322.5 328.5h0M323 302h0M323 374h0M322.5 379.5h0M322.5 164.5h0M323 278h0M323 234.5h0M323 363h0M325.5 215.5h0M325.5 229.5h0M325.5 374.5h0M325.5 137h0M325 223.5h0M325 273h0M325.5 411h0M325 214h0M325.5 361.5h0M325.5 277.5h0M325 192.5h0M325.5 129h0M325.5 229h0M325 293.5h0M325.5 200h0M325.5 145h0M325 167.5h0M325 230.5h0M325.5 228.5h0M325 256.5h0M325.5 209.5h0M325.5 246h0M325.5 230.5h0M325 246h0M325.5 311.5h0M325.5 205h0M325.5 436.5h0M330.5 378.5h0M331 226h0M330.5 443h0M331 372.5h0M330.5 222h0M331 270.5h0M331 440h0M330.5 243.5h0M331 144.5h0M330.5 318h0M330.5 421h0M330.5 256.5h0M331 454.5h0M331 231.5h0M330.5 154h0M331 241.5h0M330.5 436h0M333 435.5h0M333.5 349.5h0M333.5 267h0M333.5 369h0M333 406.5h0M333.5 338.5h0M333.5 238h0M333.5 408.5h0M333 334h0M333 272h0M333 196.5h0M333 253.5h0M333.5 246.5h0M333.5 289h0M333.5 306h0M333 464h0M333.5 353h0M333 195h0M333.5 187.5h0M333 288h0M357 450h0M357.5 431h0M357.5 297.5h0M357 392.5h0M357.5 290h0M357.5 469.5h0M357 405h0M357.5 339.5h0M357 405.5h0M357.5 419h0M357.5 373h0M357.5 304.5h0M357.5 268h0M357 439h0M357.5 346.5h0M357.5 438.5h0M357 443h0M357.5 438h0M357 426h0M357.5 293.5h0M357 240.5h0M357 307h0M357.5 389h0M357.5 472.5h0M357 278h0M359.5 313.5h0M360 302h0M360 408.5h0M360.5 392.5h0M360.5 388h0M360 333h0M360 306h0M360 406h0M359.5 468h0M360 402.5h0M360 450.5h0M360 428.5h0M360 443.5h0M360 344h0M360 240h0M360 239.5h0M360 441h0M360 387h0M360 372h0M360 368h0M360 391h0M360.5 457.5h0M360 243.5h0M360 435h0M360 358.5h0M360 418h0M360 290h0M360 427.5h0M360 433h0M363 408.5h0M362.5 404h0M362.5 427h0M363 301.5h0M362.5 421.5h0M363 466.5h0M363 410.5h0M362.5 421h0M362.5 402h0M363 416.5h0M362.5 475.5h0M363 315h0M363 471h0M362.5 367.5h0M362.5 412h0M362.5 477h0M363.5 435h0M363 416h0M363 354.5h0M362.5 395.5h0M363 261.5h0M362.5 409h0M363 434h0M362.5 440.5h0M362.5 458h0M362.5 260h0M362.5 322.5h0M362.5 445h0M363 321h0M362.5 345.5h0M363 350.5h0M363 263.5h0M363 408h0M363 301h0M363 420.5h0M370.5 360.5h0M370.5 353.5h0M370.5 417.5h0M370.5 456h0M370.5 468.5h0M371 343h0M370.5 390.5h0M373.5 402h0M373.5 437h0M373 382.5h0M376 437.5h0M376.5 221h0M376 450.5h0M376 374.5h0M376 423h0M378.5 465.5h0M378.5 406.5h0M379 416.5h0M378.5 450.5h0M378.5 428h0M378.5 416.5h0M392 188.5h0M392 334.5h0M392 265.5h0M392 297.5h0M391.5 252.5h0M392 355.5h0M392.5 414.5h0M392 215.5h0M392 348h0M392 354.5h0M392 230h0M392 425.5h0M392 360h0M392 284.5h0M392 148.5h0M392 474.5h0M392 351.5h0M392 297h0M392 96.5h0M392 212.5h0M392 364h0M392 64.5h0M392 246h0M392 452h0M391.5 289h0M392 373h0M392 369.5h0M392 435.5h0M392 327.5h0M392.5 382.5h0M395 120h0M394.5 385.5h0M394.5 371.5h0M394.5 297h0M395 402.5h0M394.5 347.5h0M395 401h0M395 152.5h0M395 399.5h0M394.5 310h0M395 442.5h0M395 475.5h0M395 336h0M394.5 401.5h0M395 109h0M395 413.5h0M395 375h0M395 364h0M394.5 451h0M394.5 251.5h0M395 366.5h0M395 377.5h0M394.5 448.5h0M395 347.5h0M395 405.5h0M395 332h0M395 417.5h0M394.5 90h0M394.5 421h0M397.5 393.5h0M397 332h0M397.5 398h0M397.5 389h0M397 435.5h0M397 441.5h0M397.5 440.5h0M397.5 363.5h0M397.5 320.5h0M397.5 411h0M397.5 395h0M397 386.5h0M397 330h0M397.5 286.5h0M397.5 235.5h0M397.5 424.5h0M397.5 399.5h0M397.5 320h0M397.5 367h0M397.5 295h0M397.5 439h0M397.5 93h0M397.5 384h0M397 320h0M397.5 344.5h0M397.5 306.5h0M397.5 341.5h0M397.5 415h0M397.5 323.5h0M397.5 177.5h0M397 397.5h0M398 171.5h0M397.5 295.5h0M397 80h0M397.5 369.5h0M397.5 288.5h0M397.5 245.5h0M397.5 391h0M397 336h0M398 97h0M397.5 403h0M400.5 193.5h0M400 339h0M399.5 213.5h0M400 343h0M400 386h0M400 354.5h0M400 413.5h0M400 363.5h0M400 383h0M400 249.5h0M400 147h0M400 256.5h0M400 420h0M400 381.5h0M400 199.5h0M400.5 239.5h0M400.5 82h0M400.5 454h0M400 398.5h0M400.5 248.5h0M400 388.5h0M400 278.5h0M400.5 307.5h0M400 399h0M400 384.5h0M421.5 389.5h0M421.5 383.5h0M421.5 358h0M421 440h0M421.5 331.5h0M421.5 376h0M421.5 401h0M421 369.5h0M422 382.5h0M421.5 332.5h0M421.5 464.5h0M421.5 469.5h0M421.5 363h0M421 254h0M421.5 272.5h0M421.5 390.5h0M421.5 444.5h0M421.5 148.5h0M424 478h0M424 422.5h0M424 326.5h0M424 232.5h0M424 428h0M424 279h0M424 463.5h0M424 443h0M424.5 142.5h0M424 459h0M424.5 368.5h0M427 288h0M426.5 114h0M427 425.5h0M427 383.5h0M427 402.5h0M427 411.5h0M427 158.5h0M426.5 409.5h0M426.5 431.5h0M427 374.5h0M427.5 376h0M427 389.5h0M427 232h0M427 63h0M426.5 312.5h0M427 349h0M437.5 354.5h0M437.5 408h0M448.5 415.5h0M448.5 399h0M459 462.5h0M480 464h0M177 261.5h0M146 319h0" stroke="#0b55e8"/>
<path d="M356.5 370h0M357 343.5h0M357 420h0M357 366h0M357 354.5h0M356.5 335h0M356.5 414h0M356.5 342.5h0M357 367.5h0M356.5 413.5h0M356.5 368.5h0M356.5 430.5h0M356.5 405h0M356.5 442.5h0M356.5 473h0M356.5 399.5h0M357 468.5h0M356.5 386h0M356.5 422.5h0M357 431h0M362 392h0M362 411.5h0M362 444h0M361.5 432h0M362 372h0M362 397h0M362 335h0M365 426h0M364.5 415h0M364.5 361.5h0M364.5 438h0M364.5 380h0M364.5 408.5h0M364.5 403h0M364.5 333h0M365 390.5h0M365 384h0M364.5 422h0M364.5 416.5h0M364.5 385.5h0M367.5 471.5h0M367 476h0M367.5 429h0M367 409h0M367 468h0M367.5 465h0M367.5 434h0M367.5 339.5h0M367.5 472h0M370 447h0M373 454.5h0M373 451h0M373 429.5h0M372.5 430.5h0M372.5 468.5h0M375.5 426.5h0M375.5 448h0M375 469.5h0M375.5 468h0M375.5 438h0M375.5 452h0M377.5 157h0M377.5 475h0M381 458h0M380.5 347.5h0M381 464h0M381 445.5h0M394 443h0M394 461h0M394 445.5h0M394 439h0M394 448.5h0M394 447h0M394 477.5h0M394 442.5h0M393.5 428.5h0M393.5 409h0M394 455.5h0M396.5 456.5h0M397 470h0M397 467.5h0M396.5 466.5h0M397 412.5h0M397 380.5h0M396.5 447h0M396.5 433h0M396.5 460h0M397 459.5h0M399.5 438h0M399.5 460h0M399.5 433h0M399.5 475.5h0M399 446h0M399 453h0M399.5 439.5h0M401.5 465.5h0M402 464.5h0M402 424.5h0M402 422.5h0M402.5 472h0M401.5 473h0M402.5 407.5h0M402 463h0M408 430h0M408 448.5h0M407 428.5h0M407.5 466h0M407.5 433h0M410 450h0M409.5 437.5h0M410 426.5h0M410 472h0M410 415h0M410 451.5h0M410 458.5h0M410.5 423.5h0M410.5 450.5h0M409.5 415h0M410 473.5h0M410 384h0M410.5 350h0M409.5 453.5h0M409.5 268h0M410 439.5h0M410.5 478h0M409.5 384h0M413 461.5h0M413 432h0M413 445h0M413 404h0M413 456h0M413 442h0M412.5 387.5h0M412.5 229h0M413 475h0M412.5 402.5h0M413 410.5h0M413 440.5h0M412.5 448.5h0M412.5 395h0M413 451.5h0M412.5 387h0M413 450h0M413 419h0M412.5 446.5h0M412 444.5h0M412.5 408h0M412.5 455h0M413 431h0M413 439.5h0M412.5 442.5h0M413 405.5h0M413 467.5h0M415 468.5h0M415 466.5h0M415 454.5h0M415.5 421h0M415 472.5h0M415.5 398.5h0M415.5 451.5h0M415 444h0M415.5 467.5h0M415 459h0M415 388h0M415 435h0M415.5 427h0M415.5 419.5h0M415.5 460h0M415 429h0M415.5 464h0M418.5 468h0M418 446h0M418 424h0M417.5 461.5h0M418 396h0M418 444.5h0M418 468h0M418 452h0M418 435h0M418 463h0M418 472.5h0M418 411h0M417.5 446h0M417.5 410h0M418 430.5h0M418 363.5h0M418 427h0M418 456h0M418 476.5h0M417.5 428.5h0M417.5 448.5h0M418 476h0M418 475.5h0M424 266h0M423 413h0M423 398.5h0M423.5 409.5h0M423 352.5h0M424 357.5h0M423 390h0M423.5 271h0M423 308.5h0M423 188h0M423 419.5h0M423.5 478h0M428.5 428h0M428.5 439.5h0M428.5 473h0M429 418h0M428.5 391.5h0M428.5 201.5h0M428.5 430.5h0M428.5 394.5h0M428.5 369.5h0M428.5 449.5h0M428.5 444.5h0M431.5 410h0M431.5 477.5h0M431.5 428.5h0M431.5 441h0M431 433.5h0M431 467h0M431 451h0M434 436.5h0M434 476.5h0M434 406h0M433.5 472.5h0M433.5 451h0M434 449.5h0M433.5 445h0M434.5 451h0M436.5 429h0M436.5 476h0M436.5 448.5h0M436.5 416h0M436.5 475.5h0M439 370.5h0M439 393.5h0M439.5 427.5h0M440 449h0M440 455h0M442 438h0M442 471.5h0M442 473h0M442 474.5h0M441.5 474h0M445 417h0M445 425.5h0M444.5 459.5h0M444.5 382h0M445 387h0M444.5 358.5h0M444.5 324.5h0M447.5 466h0M447.5 444h0M447.5 470h0M447.5 455.5h0M447.5 452h0M447 452h0M450 468.5h0M450 420.5h0M450 450.5h0M450 462h0M450 353.5h0M449.5 455h0M450 457.5h0M449.5 461h0M469 458h0M468.5 467h0M469 476.5h0M471 467h0M471 475h0M471 447.5h0M471 462.5h0M471.5 425h0M471.5 336.5h0M471 417.5h0M474 462h0M474.5 464.5h0M474 472.5h0M474 470h0M474.5 477.5h0M476.5 445h0M477 475.5h0M476.5 472.5h0M477 433h0M479 470h0M479 413h0M479 473.5h0M479 450h0M479.5 471h0M479.5 476h0M479.5 457h0M479.5 457.5h0M475 151.5h0M368.5 124.5h0M372 169.5h0M455 79.5h0" stroke="#e9635f"/>
</g>
<g font-family="'Liberation Sans', sans-serif" font-size="16.8" fill="#0a0a0a" opacity="0.995"><text x="139.95" y="501.00" text-anchor="middle">7098</text><text x="209.35" y="501.00" text-anchor="middle">7124</text><text x="278.75" y="501.00" text-anchor="middle">7150</text><text x="348.15" y="501.00" text-anchor="middle">7176</text><text x="417.55" y="501.00" text-anchor="middle">7202</text><text x="486.95" y="501.00" text-anchor="middle">7228</text><text x="121.40" y="428.10" text-anchor="end">500</text><text x="121.40" y="338.08" text-anchor="end">1000</text><text x="121.40" y="248.05" text-anchor="end">1500</text><text x="121.40" y="158.03" text-anchor="end">2000</text><text x="121.40" y="68.00" text-anchor="end">2500</text></g>
<g stroke="#707070" stroke-width="1.2" fill="none"><rect x="626.75" y="49.5" width="372.25" height="429.0"/><path d="M633.25 49.50v11.0M633.25 478.50v-11.0M705.92 49.50v11.0M705.92 478.50v-11.0M778.59 49.50v11.0M778.59 478.50v-11.0M851.26 49.50v11.0M851.26 478.50v-11.0M923.93 49.50v11.0M923.93 478.50v-11.0M996.60 49.50v11.0M996.60 478.50v-11.0M626.75 454.60h11.0M999.00 454.60h-11.0M626.75 378.78h11.0M999.00 378.78h-11.0M626.75 302.96h11.0M999.00 302.96h-11.0M626.75 227.14h11.0M999.00 227.14h-11.0M626.75 151.32h11.0M999.00 151.32h-11.0M626.75 75.50h11.0M999.00 75.50h-11.0"/></g>
<g fill="none" stroke-width="4.6" stroke-linecap="round">
<path d="M629 303h0M630 300h0M629.5 305h0M629 300.5h0M629.5 306h0M629.5 303.5h0M630 304.5h0M629.5 299h0M629.5 299.5h0M632 302h0M632 301.5h0M632 298h0M632.5 301h0M632.5 300.5h0M632.5 297h0M632.5 306h0M632.5 297.5h0M632.5 305h0M635 300.5h0M635 301h0M635.5 304h0M635.5 300h0M635.5 301.5h0M635.5 300.5h0M635 294.5h0M635 299h0M638 297h0M638.5 302.5h0M638 301h0M638 303.5h0M637.5 302h0M637.5 300h0M638.5 298.5h0M641 301.5h0M641 297.5h0M640.5 296.5h0M641 309.5h0M640.5 300h0M644 299h0M643.5 302h0M643.5 302.5h0M643.5 305h0M646.5 301h0M646 303h0M646.5 299.5h0M646.5 298h0M646 302.5h0M649 299h0M649.5 301h0M649 298h0M649 297.5h0M652 303.5h0M652 304.5h0M652 302h0M652 294h0M655 299h0M654.5 302.5h0M654.5 303h0M655 301.5h0M657.5 304h0M658 303h0M657.5 302h0M658 297.5h0M660 300.5h0M660.5 300.5h0M660 303h0M660.5 299h0M663.5 303.5h0M663 307h0M663 300h0M663 304.5h0M663 298h0M666.5 301h0M665.5 299.5h0M666.5 300.5h0M666 302.5h0M665.5 302.5h0M666.5 302.5h0M665.5 300h0M668.5 301h0M668.5 299h0M669 300h0M668.5 302.5h0M669 299.5h0M668.5 303h0M671.5 303.5h0M671.5 302.5h0M672 302h0M672 304.5h0M671.5 299h0M671.5 304h0M671.5 301h0M672 301.5h0M674.5 299.5h0M674.5 301h0M674 300.5h0M674 301h0M674 300h0M674.5 298.5h0M674.5 300h0M674.5 301.5h0M677.5 300.5h0M677 304h0M677 303h0M677 298h0M677 300.5h0M677 297.5h0M676.5 298h0M677 299h0M679.5 301h0M679.5 298h0M679.5 302.5h0M680 302h0M680 297h0M680 300h0M679.5 300h0M680.5 301h0M679.5 299h0M682.5 300h0M683 301.5h0M683 299h0M682.5 298h0M682.5 299.5h0M683 300.5h0M682.5 301h0M685.5 300.5h0M686 299.5h0M686 303.5h0M685 303h0M685.5 298h0M686 302h0M685.5 300h0M685.5 302h0M685.5 299.5h0M688.5 302h0M688.5 299.5h0M688 301.5h0M688.5 301.5h0M688 302.5h0M688 301h0M688.5 299h0M691.5 301h0M691 300h0M691 301h0M691.5 302h0M691 299h0M691 302h0M691 306h0M694 302h0M694 301.5h0M693.5 300.5h0M694 297h0M694 299h0M694 300h0M694 299.5h0M697 303.5h0M696.5 300h0M696.5 298.5h0M697 299.5h0M696.5 299.5h0M697 302h0M696.5 300.5h0M697 303h0M696.5 298h0M699.5 299h0M699 298.5h0M699.5 300.5h0M699.5 298.5h0M699.5 302h0M699.5 296.5h0M699 297h0M702.5 299h0M702 303.5h0M702 298h0M702 300.5h0M702 306.5h0M702.5 301.5h0M705 301.5h0M705 299.5h0M705 303h0M705.5 296.5h0M705 303.5h0M705 292.5h0M708.5 295.5h0M708 299.5h0M707.5 298.5h0M707.5 297.5h0M707.5 300h0M708 299h0M711 297h0M710.5 298h0M710.5 303h0M710.5 299.5h0M710.5 301.5h0M713 304.5h0M713.5 303.5h0M713.5 302.5h0M713.5 302h0M713.5 301h0M713.5 300h0M716 301.5h0M716.5 292h0M716.5 304.5h0M716.5 303.5h0M716.5 303h0M716 303h0M719 299.5h0M718.5 302h0M719 302.5h0M719 300.5h0M719 298.5h0M719.5 301.5h0M725 304h0M725 299.5h0M725 299h0M724.5 301.5h0M724.5 298.5h0M724 303.5h0M725 301.5h0M724.5 298h0M727 299h0M727.5 290h0M727.5 293h0M727.5 304h0M727.5 299.5h0M727.5 298.5h0M727 294.5h0M727 297.5h0M727.5 296.5h0M728 298.5h0M727 301h0M727.5 299h0M727.5 298h0M727 299.5h0M727.5 302h0M727.5 296h0M728 299h0M735.5 299.5h0M735.5 301h0M736 300.5h0M735.5 295.5h0M735.5 299h0M736 301.5h0M735.5 303h0M735.5 298h0M736 297.5h0M736 298h0M735.5 296.5h0M735.5 296h0M736 298.5h0M735.5 304h0M735.5 300h0M738.5 302h0M739 301.5h0M738.5 298h0M738.5 303.5h0M738.5 299.5h0M738 298.5h0M738.5 299h0M738 301.5h0M738.5 296h0M739 300h0M738.5 297.5h0M739 298.5h0M738.5 301h0M739 297.5h0M738 306.5h0M738.5 297h0M738 298h0M738 299.5h0M738.5 298.5h0M739 299h0M738.5 295h0M741.5 298.5h0M741.5 300h0M741.5 299.5h0M741 299h0M742 300.5h0M741.5 299h0M742 297h0M742 298h0M741.5 298h0M741.5 297.5h0M741 300.5h0M741 297h0M741.5 306.5h0M742 299.5h0M741.5 303h0M741 299.5h0M742 298.5h0M741.5 300.5h0M741.5 297h0M741 300h0M744 299h0M744 298.5h0M744 301h0M744.5 299h0M744 299.5h0M744.5 297.5h0M744 297.5h0M744.5 298.5h0M744 300.5h0M744 297h0M744.5 301h0M744 300h0M744 294.5h0M744.5 302h0M747 294h0M747 308.5h0M747 302.5h0M746.5 298h0M746.5 300.5h0M747 299h0M747 298.5h0M746.5 298.5h0M747 294.5h0M747 298h0M747 300h0M746.5 300h0M747.5 300.5h0M747 297h0M746.5 297.5h0M747 303.5h0M746.5 299.5h0M747 299.5h0M750 301h0M750 302.5h0M750 299.5h0M749.5 298.5h0M750 300h0M749.5 299h0M750 297.5h0M750 298h0M750 298.5h0M749.5 300.5h0M750 301.5h0M749.5 295.5h0M750 297h0M749.5 301h0M750 296h0M752.5 298h0M753 298h0M752.5 300h0M752 302.5h0M752.5 299h0M752.5 296.5h0M752.5 299.5h0M752.5 294.5h0M752.5 295.5h0M752.5 302.5h0M752 298h0M753 296h0M752.5 297.5h0M752.5 293h0M753 297.5h0M755 294.5h0M755.5 299h0M755.5 297h0M755 300h0M755.5 298h0M755 296h0M755.5 300h0M755.5 299.5h0M755 297.5h0M755 298.5h0M755.5 300.5h0M755.5 301h0M755 295.5h0M755 300.5h0M755 301h0M755 291.5h0M755 301.5h0M758 300h0M758 297h0M758.5 298.5h0M758.5 296.5h0M758 301.5h0M758 294.5h0M758 297.5h0M758.5 288.5h0M758 296h0M758.5 295.5h0M758.5 297.5h0M758.5 297h0M758 296.5h0M758 298.5h0M758.5 298h0M758 298h0M760.5 293.5h0M760.5 295.5h0M761 294h0M761 298.5h0M761 299.5h0M761 295h0M761 295.5h0M761 298h0M761 294.5h0M760.5 297.5h0M760.5 294h0M760.5 299h0M760.5 302h0M761 299h0M761 296h0M760.5 298.5h0M763.5 293.5h0M764 298h0M763.5 296.5h0M763.5 294h0M763.5 299.5h0M763.5 295.5h0M763.5 297.5h0M764 300.5h0M764 294h0M763.5 301h0M764 301h0M763.5 299h0M763.5 300h0M764 298.5h0M763.5 303.5h0M764 300h0M766.5 299.5h0M766.5 296.5h0M767 297h0M766.5 297h0M766.5 294.5h0M766.5 295.5h0M767 300.5h0M766.5 294h0M766.5 298h0M767 303.5h0M767 299h0M766.5 296h0M766.5 298.5h0M766.5 299h0M767 295h0M769 297h0M769 296h0M769.5 298h0M769.5 295.5h0M769.5 294.5h0M769.5 300h0M769.5 296h0M770 296h0M770 295.5h0M769 292.5h0M769 298.5h0M769 294.5h0M769.5 305h0M769.5 296.5h0M769.5 304.5h0M769.5 295h0M769 297.5h0M770 297h0M772 294.5h0M772.5 295.5h0M772 297.5h0M772 295.5h0M772.5 297h0M772.5 296.5h0M772 295h0M772.5 293.5h0M772.5 298.5h0M772.5 295h0M772 294h0M772.5 297.5h0M772.5 294.5h0M772 298h0M772 296.5h0M772 296h0M775.5 296h0M775 296h0M775.5 295.5h0M775 295.5h0M774.5 293h0M775.5 294.5h0M775 297.5h0M774.5 295.5h0M775 293h0M775 294h0M775.5 295h0M775 296.5h0M775 289.5h0M775.5 291.5h0M775 297h0M775 301h0M774.5 286.5h0M774.5 294.5h0M775 294.5h0M775 292h0M778 296.5h0M777.5 293h0M777.5 294.5h0M778 292h0M778 291.5h0M778 301h0M778 293h0M778 293.5h0M777.5 294h0M778 299.5h0M778 294.5h0M777.5 296.5h0M778 291h0M778 292.5h0M777.5 295.5h0M778 286h0M777.5 296h0M778.5 292.5h0M778.5 293.5h0M780.5 292.5h0M780 291.5h0M780.5 295h0M780.5 294h0M781 293.5h0M781 293h0M781 294h0M780.5 290.5h0M780 297h0M780.5 291.5h0M780.5 287h0M780 291h0M781 292h0M781 300.5h0M780.5 291h0M780 294h0M781 297h0M780.5 286.5h0M781 302h0M780.5 293.5h0M783.5 298.5h0M783 292.5h0M783.5 299.5h0M783 291h0M783.5 293.5h0M783.5 294h0M783.5 295h0M783.5 296.5h0M783 294h0M783.5 290h0M783.5 289.5h0M783 294.5h0M783 293h0M783 290.5h0M783 296h0M783.5 293h0M783 293.5h0M783.5 288.5h0M783.5 291h0M783 289.5h0M786 300h0M786 292h0M786 290.5h0M786 294h0M786 286h0M786 289.5h0M786 293h0M786 294.5h0M786 291h0M786 291.5h0M786.5 298h0M786 293.5h0M786.5 291h0M785.5 295h0M785.5 294h0M789 290h0M789.5 295h0M788.5 293.5h0M789 288h0M788.5 291.5h0M789.5 293.5h0M788.5 295h0M789 290.5h0M789 291.5h0M788.5 292.5h0M789 291h0M788.5 294h0M788.5 296.5h0M789 292h0M789 295h0M789 294h0M789 287h0M788.5 285.5h0M789.5 291.5h0M791.5 295h0M791.5 289h0M791.5 291.5h0M791.5 290h0M791.5 292h0M792 294.5h0M791.5 289.5h0M791.5 299.5h0M792 291h0M791.5 294.5h0M792 289.5h0M791.5 292.5h0M792 289h0M792 294h0M792 292.5h0M792 292h0M791.5 300h0M794 291.5h0M795 290.5h0M794.5 290.5h0M794.5 290h0M795 292h0M795 288.5h0M794.5 287.5h0M794 290h0M794 291h0M794 292h0M795 293h0M794.5 283h0M794.5 291.5h0M794.5 288h0M794 289.5h0M794.5 293h0M794.5 286.5h0M795 289h0M795 298.5h0M794.5 299.5h0M794.5 285.5h0M794 288.5h0M795 287.5h0M794.5 289h0M797.5 286.5h0M797.5 290h0M797.5 287.5h0M797.5 292.5h0M797 289.5h0M797.5 285.5h0M797.5 290.5h0M797 287h0M797 290h0M798 287.5h0M798 288h0M797.5 289h0M797.5 302.5h0M797.5 299h0M797 288.5h0M797 289h0M797 286h0M797.5 294h0M797 288h0M797 287.5h0M799.5 289.5h0M800 288h0M800 286.5h0M800 286h0M800 291h0M800.5 290.5h0M800 294h0M800 288.5h0M800.5 284.5h0M800 289h0M800.5 287.5h0M800 285h0M799.5 292.5h0M800.5 294h0M800.5 296h0M800.5 295.5h0M800.5 287h0M800 287h0M800.5 291.5h0M800 292h0M800 294.5h0M803 290.5h0M802.5 285h0M803 283.5h0M803.5 292h0M802.5 291h0M802.5 289h0M803 286.5h0M802.5 287.5h0M803 293h0M803.5 288h0M803.5 283.5h0M803 284h0M803 294.5h0M803 278.5h0M803 283h0M803 296.5h0M802.5 287h0M803 279.5h0M802.5 277.5h0M803.5 286.5h0M803 287h0M803 291.5h0M803 284.5h0M805.5 285.5h0M806 283.5h0M806 296h0M805.5 290h0M805.5 288h0M806 297.5h0M805.5 287h0M806 276h0M806 286.5h0M805.5 286.5h0M806 284h0M805.5 293.5h0M806 287h0M805.5 283.5h0M806 285.5h0M806 295.5h0M806 285h0M806 287.5h0M806 290h0M805.5 280.5h0M805.5 284h0M808.5 285.5h0M808.5 295h0M809 283.5h0M808.5 287.5h0M808.5 285h0M808.5 287h0M808.5 288h0M808 284.5h0M809 283h0M808 284h0M808.5 290.5h0M808 285.5h0M809 293h0M808.5 286.5h0M808.5 282h0M808.5 284.5h0M808 287h0M808.5 288.5h0M808.5 283.5h0M808.5 283h0M808.5 284h0M808.5 282.5h0M811 287.5h0M811.5 283h0M811 286.5h0M811 281.5h0M811 286h0M811.5 284.5h0M811 293h0M811.5 285h0M811 281h0M811.5 280.5h0M811.5 286h0M811 285.5h0M811.5 282.5h0M811 282.5h0M811.5 281.5h0M811 289.5h0M811.5 288.5h0M811 296.5h0M811.5 283.5h0M811 280.5h0M811 283.5h0M811.5 280h0M814.5 285h0M814 280.5h0M814 283h0M814.5 284.5h0M814.5 289.5h0M814.5 281h0M814.5 298h0M813.5 281.5h0M814 284.5h0M814 281h0M814.5 286.5h0M814 281.5h0M814.5 286h0M813.5 288.5h0M814 280h0M814 287h0M814 287.5h0M814.5 289h0M814 291h0M814.5 290h0M814 285h0M814 283.5h0M814.5 282.5h0M814 286h0M813.5 287h0M813.5 284.5h0M816.5 276.5h0M816.5 285.5h0M817 289.5h0M817 288h0M817 288.5h0M816.5 283.5h0M817 284.5h0M817 280.5h0M816.5 289.5h0M817 286h0M817 283.5h0M816.5 290.5h0M816.5 284h0M817 287h0M817 284h0M816.5 286h0M816.5 281h0M817 286.5h0M817 285h0M817 281.5h0M817 285.5h0M817 282h0M816.5 291.5h0M816.5 293.5h0M817 282.5h0M816.5 283h0M820 283.5h0M819.5 283h0M819.5 286h0M819.5 296.5h0M819.5 287h0M819.5 289h0M820 286.5h0M819.5 282h0M820 284.5h0M819.5 288.5h0M819.5 280h0M819.5 286.5h0M819.5 285.5h0M819.5 287.5h0M819.5 281.5h0M819.5 292.5h0M819.5 293h0M820 289h0M819.5 284h0M820 285.5h0M819.5 290h0M820 286h0M819.5 298.5h0M819.5 279.5h0M822.5 288h0M822.5 287h0M822 283.5h0M822.5 281.5h0M822.5 286h0M822.5 285.5h0M822 288.5h0M822.5 290.5h0M822.5 287.5h0M822 287h0M823 290h0M822.5 294.5h0M822 286h0M822 282.5h0M822.5 282.5h0M822.5 284.5h0M822.5 285h0M822 289h0M822.5 283.5h0M822.5 289h0M822.5 293.5h0M825.5 289h0M825.5 288.5h0M825.5 288h0M825.5 285h0M825 288.5h0M825 289h0M825.5 290.5h0M825.5 285.5h0M825 290h0M825 290.5h0M825 285h0M825.5 278h0M825.5 292h0M825 287h0M825 288h0M825.5 290h0M825.5 289.5h0M825.5 291.5h0M825 291h0M825.5 295.5h0M825 286.5h0M825 289.5h0M825.5 287h0M825 292.5h0M828.5 291.5h0M828 288h0M828.5 292h0M828 287.5h0M828 288.5h0M828 294.5h0M827.5 293.5h0M828.5 290h0M828 292h0M828 291h0M827.5 295h0M827.5 290h0M828 290.5h0M828 299.5h0M828.5 285.5h0M828 285h0M828 286.5h0M827.5 291h0M828 285.5h0M828 289.5h0M828 286h0M828.5 291h0M828 291.5h0M830.5 296.5h0M830.5 291.5h0M831 290h0M830.5 290.5h0M830.5 292.5h0M830.5 293.5h0M831 292.5h0M831 292h0M831 295.5h0M830.5 289h0M830.5 292h0M831 287.5h0M830.5 293h0M831 289.5h0M830.5 285.5h0M833.5 288.5h0M833.5 291.5h0M833.5 289.5h0M833.5 296h0M834 290.5h0M833.5 290.5h0M834 288h0M833.5 294.5h0M833.5 299.5h0M834 291.5h0M833.5 289h0M833.5 290h0M834 291h0M833.5 296.5h0M833.5 292.5h0M836.5 291h0M836.5 290h0M836.5 292h0M836.5 292.5h0M837 289.5h0M836 290.5h0M837 291h0M837 287.5h0M836 299h0M837 286h0M836 296h0M836.5 287h0M836.5 291.5h0M836.5 289.5h0M837 288h0M836 291.5h0M836.5 290.5h0M836.5 287.5h0M837 293h0M836.5 283.5h0M839.5 295.5h0M839 290.5h0M839.5 290.5h0M839 293.5h0M839.5 296h0M839 292h0M839 289h0M839.5 294h0M839.5 291h0M842.5 295h0M842.5 290h0M842 293.5h0M841.5 293h0M842 292h0M842 295h0M842 289h0M842.5 288.5h0M842.5 294.5h0M842.5 297h0M845 286.5h0M844.5 293.5h0M844.5 292.5h0M844.5 296h0M844.5 294h0M845 294.5h0M845 293.5h0M845 295.5h0M844.5 294.5h0M844.5 296.5h0M845 290.5h0M844.5 292h0M845 291.5h0M844.5 295h0M848 296h0M847.5 293h0M847.5 295.5h0M847.5 296h0M847.5 291.5h0M847.5 292.5h0M848 291.5h0M847.5 300.5h0M848 291h0M847.5 294.5h0M848 294.5h0M848 294h0M850 292h0M850.5 294.5h0M850.5 294h0M850.5 298.5h0M850.5 293h0M850.5 291.5h0M850.5 297h0M850.5 300h0M850.5 292.5h0M850 294.5h0M850.5 293.5h0M853 294h0M853 296h0M853 296.5h0M853 291.5h0M853.5 291h0M853 295.5h0M853.5 294.5h0M853 294.5h0M853 293.5h0M853 300.5h0M853.5 293.5h0M862 298.5h0M862 291.5h0M861.5 299.5h0M862 296.5h0M861.5 298h0M861.5 297.5h0M861.5 291.5h0M862 295h0M862 299.5h0M861.5 295h0M862 297.5h0M862 300.5h0M862 301h0M861.5 300.5h0M861.5 297h0M861.5 296h0M861.5 298.5h0M862 296h0M862 293h0M864.5 295.5h0M864.5 294h0M864.5 300h0M864.5 299h0M864 294h0M864 293h0M864.5 295h0M864.5 297.5h0M864 304h0M864.5 298h0M864 300h0M864 293.5h0M864 301h0M864.5 304h0M864 296h0M864.5 289.5h0M864 299.5h0M864.5 300.5h0M864 298.5h0M864.5 302h0M864.5 299.5h0M864 295h0M864.5 296.5h0M864.5 296h0M864.5 294.5h0M864.5 303.5h0M892.5 301h0M892 304.5h0M892 302.5h0M892 296h0M892.5 299h0M892 301.5h0M892.5 301.5h0M892.5 302.5h0M892.5 299.5h0M892 298.5h0M892 300h0M892.5 300.5h0M892.5 304.5h0M892.5 297h0M892.5 296h0M893 302h0M892 304h0M892 299.5h0M892.5 297.5h0M892.5 294.5h0M892 289.5h0M893 300h0M894.5 299.5h0M895.5 305h0M895 302h0M895.5 292h0M894.5 302h0M895.5 300h0M895 298h0M895.5 299.5h0M895 296h0M895 305.5h0M895.5 302.5h0M895 297.5h0M895 297h0M894.5 298h0M895 299h0M895 303.5h0M894.5 301.5h0M895 301.5h0M895 299.5h0M895 298.5h0M894.5 300.5h0M895 296.5h0M895 301h0M895 302.5h0M894.5 305h0M895.5 302h0M895 304h0M900.5 301.5h0M901 299h0M901 302h0M900.5 307.5h0M900.5 298h0M900.5 298.5h0M901 306h0M901 298.5h0M904 300.5h0M903.5 302.5h0M903.5 301h0M903.5 299h0M903.5 300.5h0M904 302.5h0M903 297.5h0M903.5 302h0M903.5 298h0M903.5 299.5h0M903 295.5h0M906.5 304.5h0M906.5 303.5h0M906.5 301h0M907 296.5h0M906.5 302.5h0M906.5 302h0M906.5 300h0M906 300.5h0M906 299h0M909 300h0M909 299h0M908.5 299h0M909.5 302.5h0M909 298h0M909 301.5h0M909.5 300.5h0M912 303h0M911.5 300h0M912 302h0M911.5 302.5h0M912 301.5h0M912 297.5h0M912 298.5h0M911.5 302h0M911.5 303h0M911.5 299.5h0M911.5 298.5h0M912 296.5h0M912 299.5h0M912 299h0M911.5 296h0M912 295.5h0M912 298h0M915 300h0M915 300.5h0M915 299.5h0M914.5 299h0M915 297h0M915 302h0M914.5 298.5h0M914.5 302.5h0M914.5 300h0M915 293h0M915 301h0M915 303h0M914.5 296h0M918 296.5h0M918 303h0M918 300.5h0M918 305h0M917.5 303.5h0M918 311.5h0M917.5 302.5h0M917.5 303h0M917.5 298h0M917 302h0M918 299h0M917.5 294.5h0M917 296.5h0M917.5 301.5h0M917.5 300h0M917.5 302h0M918 297.5h0M917.5 299.5h0M918 295h0M918 301h0M918 302.5h0M920 302h0M920 300h0M920 297h0M920.5 301.5h0M920 299.5h0M920.5 303h0M920.5 300.5h0M920.5 302.5h0M920.5 307h0M920.5 302h0M920 301h0M920.5 303.5h0M920 301.5h0M920.5 304.5h0M920.5 299.5h0M922.5 301h0M923 303h0M923 305.5h0M923 302h0M922.5 303.5h0M923 300.5h0M923 301h0M923 299h0M923.5 300h0M923 305h0M923.5 304.5h0M922.5 299.5h0M923 295.5h0M922.5 300.5h0M922.5 303h0M923 307h0M925.5 306h0M925.5 300h0M926 298.5h0M925.5 297h0M926 325h0M926 300h0M926 301.5h0M925.5 300.5h0M925.5 299.5h0M926 303.5h0M926 291.5h0M926 302h0M926 299.5h0M926 305.5h0M925.5 304.5h0M926 301h0M926 303h0M925.5 296h0M925.5 302.5h0M926 307.5h0M925.5 299h0M928.5 298h0M929 299.5h0M929 301h0M928.5 302.5h0M928.5 296.5h0M929 302.5h0M928.5 303.5h0M928.5 305h0M928.5 301.5h0M928.5 307h0M928.5 302h0M928.5 301h0M929 301.5h0M931 301h0M931.5 303.5h0M931.5 300.5h0M931.5 301.5h0M931.5 304h0M931.5 302.5h0M931.5 297.5h0M931 298h0M931.5 299h0M931 296h0M931.5 300h0M931.5 299.5h0M931 302.5h0M931 297.5h0M931 300h0M934.5 290.5h0M934.5 306h0M934 303.5h0M934.5 300h0M934.5 298.5h0M937 301.5h0M937 302h0M937 299h0M937.5 300h0M937.5 303h0M936.5 306h0M940 303.5h0M939.5 298h0M939.5 302h0M940 302.5h0M939.5 300.5h0M942.5 302h0M942.5 303.5h0M943 301.5h0M942.5 300.5h0M943 294h0M945 302.5h0M945.5 303h0M945 303h0M946 297.5h0M945.5 303.5h0M948.5 294.5h0M948 347.5h0M948 311h0M948 302.5h0M948.5 302h0M948 303.5h0M951.5 303.5h0M951.5 303h0M951 304h0M951 303h0M954 304h0M954 300h0M953.5 300h0M953.5 303h0M954 302h0M954 299h0M957 301h0M957 298h0M956.5 317h0M956.5 301.5h0M960 300h0M959.5 301.5h0M959.5 302.5h0M959 295h0M970.5 299h0M971 301.5h0M970.5 300h0M970 303h0M971 301h0M970.5 302h0M971 304h0M970.5 300.5h0M970.5 304h0M970.5 301.5h0M970.5 299.5h0M971 299.5h0M970 314h0M970.5 303.5h0M970.5 298.5h0M970.5 304.5h0M971 298h0M973.5 302.5h0M973.5 304.5h0M973.5 299h0M973 306h0M973.5 318.5h0M973.5 300h0M973.5 300.5h0M973 300h0M973.5 301h0M974 300h0M973.5 302h0M973 298.5h0M973 305h0M973.5 304h0M973.5 303h0M973.5 298.5h0M973 303h0M973.5 294.5h0M974 299.5h0M974 302.5h0M976.5 301h0M976 300.5h0M976 302.5h0M976.5 299.5h0M976.5 296.5h0M976.5 296h0M976 296.5h0M976.5 302h0M976 301h0M976 302h0M976.5 300h0M976 292.5h0M976.5 298h0M976 301.5h0M976.5 303h0M979 299.5h0M978.5 299h0M979.5 302.5h0M979 302.5h0M979.5 302h0M979 300h0M979 299h0M979 302h0M979.5 303h0M979 296.5h0M978.5 299.5h0M979 300.5h0M978.5 302.5h0M978.5 302h0M981.5 301.5h0M982 296h0M982 305h0M981.5 302.5h0M981.5 300h0M982 295.5h0M982 301.5h0M982 299.5h0M982 302h0M982 300h0M982 304h0M982 301h0M981.5 302h0M982 302.5h0M982 297.5h0M984.5 303.5h0M984.5 300h0M985 300h0M984.5 298.5h0M984.5 303h0M984.5 301h0M985 304.5h0M984.5 301.5h0M984 299h0M984.5 298h0M984 305h0M985 300.5h0M985 301.5h0M984 301.5h0M984 298.5h0M987 301h0M987.5 298h0M987 298.5h0M987 300.5h0M987 299h0M987.5 297.5h0M987 303h0M987.5 303.5h0M987.5 303h0M987.5 299h0M987.5 301h0M987.5 298.5h0M987.5 302.5h0M987.5 300h0M987 301.5h0M990 309.5h0M990.5 302h0M990 302h0M990 304h0M990 301.5h0M990.5 301.5h0M990.5 303h0M990 302.5h0M990 303.5h0M990 299.5h0M990 297h0M990.5 303.5h0M990.5 302.5h0M990.5 299.5h0M990 300.5h0M990.5 300h0M992.5 303.5h0M993 300h0M992.5 299h0M993 299h0M993 297.5h0M992.5 299.5h0M992.5 300h0M993 300.5h0M993 299.5h0M993 301h0M993 298.5h0M992.5 300.5h0M992.5 298.5h0M993 298h0M992.5 294h0M993 301.5h0M995.5 302.5h0M996 302h0M996 301.5h0M995.5 301.5h0M995.5 298h0M996 303.5h0M996 300.5h0M995.5 301h0M995.5 297h0M995.5 304.5h0M995.5 299h0M996 300h0M995.5 304h0M995.5 303h0M996 299h0M996 303h0M998.5 300.5h0M998.5 301.5h0M998.5 303h0M998.5 299h0M998.5 303.5h0M998.5 302.5h0M998 302h0M998.5 301h0M999 300.5h0M998.5 297h0M998 300.5h0M998.5 298h0M998.5 304h0M998.5 305.5h0M805.5 304h0M806 303h0M805.5 303h0M806 304.5h0M805.5 302h0M806 302.5h0M805.5 304.5h0M808.5 303.5h0M808.5 303h0M808.5 304h0M808.5 302.5h0M808 303h0M811.5 303.5h0M811 303.5h0M811 302h0M811.5 305h0M811.5 302.5h0M811 303h0M811.5 303h0M814 303h0M814 302h0M813.5 303h0M814 303.5h0M817 304.5h0M817 303.5h0M817 303h0M816.5 304h0M816.5 303.5h0M817 302.5h0M819.5 303h0M819.5 305h0M820 303.5h0M819.5 303.5h0M819.5 302.5h0M820 303h0M822.5 304h0M822 303h0M822 302.5h0M823 302.5h0M822 303.5h0M823 303.5h0M822 304h0M822.5 303.5h0M822.5 302h0M825.5 303.5h0M825 303h0M825 304h0M827.5 303.5h0M828 303h0M828 304.5h0M828 303.5h0M827.5 302.5h0M827.5 304.5h0M831 304.5h0M830.5 304h0M830.5 303h0M831 303h0M830.5 302.5h0M831.5 303h0M833.5 302.5h0M833.5 303.5h0M833.5 303h0M834 303.5h0M833.5 304.5h0M834 303h0M834 302.5h0M837 303.5h0M836 304h0M836.5 303.5h0M837 304h0M836 304.5h0M836.5 303h0M836.5 302h0M839.5 304h0M839.5 304.5h0M839 304h0M839.5 303h0M839 302.5h0M842.5 303.5h0M842 303h0M842 302.5h0M842.5 304.5h0M842 305h0M842 304h0M842.5 302.5h0M845 303.5h0M844.5 304.5h0M844.5 304h0M845 303h0M844.5 303h0M845 304h0M844.5 302.5h0M847.5 302h0M847.5 302.5h0M847.5 303.5h0M848 304h0M847.5 304h0M847.5 303h0M851 303h0M851 303.5h0M851 304h0M850.5 303.5h0M850 304h0M853.5 303h0M853.5 304h0M853 302h0M853 302.5h0M853 304h0M853 303h0M856 303.5h0M856 303h0M856 304h0M856.5 304h0M855.5 303.5h0M856 304.5h0M858.5 304.5h0M859 303.5h0M859 304.5h0M858.5 304h0M859 304h0M814 49.5h0M942.5 148h0M953.5 166.5h0M652.5 186.5h0M828 209.5h0M999 225h0M727.5 227h0M828 229h0M795 240h0M727.5 247.5h0M727.5 258h0M814.5 255.5h0M819.5 260.5h0M821.5 266h0M811.5 264.5h0M942.5 258h0M942.5 262h0M953.5 261.5h0M959 270.5h0M942 272h0M943 275.5h0M959 280h0M727.5 276h0M727.5 284h0M652.5 282.5h0M652.5 292h0M708.5 289.5h0M634.5 295.5h0M718.5 289h0M990 478h0M958.5 380.5h0M955 373.5h0M828.5 348h0M958.5 347h0M997.5 341h0M922.5 328h0M943 325h0M952.5 322h0M961.5 335.5h0" stroke="#86ab47"/>
</g>
<polyline clip-path="url(#kTR)" points="626.5,301.5 627.5,301.5 628.4,301.5 629.3,301.5 630.3,301.5 631.2,301.5 632.1,301.5 633.1,301.5 634.0,301.5 635.0,301.5 635.9,301.5 636.8,301.5 637.8,301.5 638.7,301.5 639.6,301.5 640.6,301.5 641.5,301.5 642.4,301.5 643.4,301.5 644.3,301.5 645.2,301.5 646.2,301.5 647.1,301.5 648.0,301.5 649.0,301.5 649.9,301.5 650.8,301.5 651.8,301.5 652.7,301.5 653.6,301.5 654.6,301.5 655.5,301.5 656.4,301.5 657.4,301.5 658.3,301.4 659.2,301.4 660.2,301.4 661.1,301.4 662.1,301.4 663.0,301.4 663.9,301.4 664.9,301.4 665.8,301.4 666.7,301.4 667.7,301.4 668.6,301.4 669.5,301.4 670.5,301.4 671.4,301.4 672.3,301.4 673.3,301.4 674.2,301.4 675.1,301.4 676.1,301.4 677.0,301.4 677.9,301.4 678.9,301.4 679.8,301.4 680.7,301.3 681.7,301.3 682.6,301.3 683.5,301.3 684.5,301.3 685.4,301.3 686.3,301.3 687.3,301.3 688.2,301.3 689.2,301.3 690.1,301.3 691.0,301.3 692.0,301.2 692.9,301.2 693.8,301.2 694.8,301.2 695.7,301.2 696.6,301.2 697.6,301.2 698.5,301.2 699.4,301.2 700.4,301.2 701.3,301.1 702.2,301.1 703.2,301.1 704.1,301.1 705.0,301.1 706.0,301.1 706.9,301.1 707.8,301.0 708.8,301.0 709.7,301.0 710.6,301.0 711.6,301.0 712.5,300.9 713.4,300.9 714.4,300.9 715.3,300.9 716.3,300.8 717.2,300.8 718.1,300.8 719.1,300.7 720.0,300.7 720.9,300.7 721.9,300.6 722.8,300.6 723.7,300.6 724.7,300.5 725.6,300.5 726.5,300.4 727.5,300.4 728.4,300.3 729.3,300.3 730.3,300.3 731.2,300.2 732.1,300.2 733.1,300.1 734.0,300.1 734.9,300.0 735.9,300.0 736.8,299.9 737.7,299.9 738.7,299.8 739.6,299.7 740.5,299.7 741.5,299.6 742.4,299.6 743.4,299.5 744.3,299.4 745.2,299.3 746.2,299.3 747.1,299.2 748.0,299.1 749.0,299.0 749.9,298.9 750.8,298.8 751.8,298.7 752.7,298.6 753.6,298.5 754.6,298.4 755.5,298.3 756.4,298.2 757.4,298.1 758.3,297.9 759.2,297.8 760.2,297.7 761.1,297.6 762.0,297.4 763.0,297.3 763.9,297.2 764.8,297.0 765.8,296.9 766.7,296.7 767.6,296.6 768.6,296.4 769.5,296.2 770.5,296.1 771.4,295.9 772.3,295.7 773.3,295.5 774.2,295.3 775.1,295.1 776.1,294.9 777.0,294.7 777.9,294.5 778.9,294.3 779.8,294.1 780.7,293.9 781.7,293.7 782.6,293.5 783.5,293.3 784.5,293.1 785.4,292.8 786.3,292.6 787.3,292.4 788.2,292.1 789.1,291.9 790.1,291.6 791.0,291.4 791.9,291.2 792.9,290.9 793.8,290.7 794.7,290.5 795.7,290.2 796.6,290.0 797.5,289.7 798.5,289.5 799.4,289.3 800.4,289.1 801.3,288.9 802.2,288.7 803.2,288.5 804.1,288.3 805.0,288.2 806.0,288.1 806.9,288.0 807.8,287.9 808.8,287.8 809.7,287.8 810.6,287.7 811.6,287.7 812.5,287.7 813.4,287.7 814.4,287.7 815.3,287.8 816.2,287.8 817.2,287.9 818.1,288.0 819.0,288.1 820.0,288.2 820.9,288.3 821.8,288.4 822.8,288.6 823.7,288.8 824.6,289.0 825.6,289.2 826.5,289.4 827.5,289.6 828.4,289.9 829.3,290.1 830.3,290.4 831.2,290.6 832.1,290.8 833.1,291.1 834.0,291.3 834.9,291.6 835.9,291.8 836.8,292.0 837.7,292.3 838.7,292.5 839.6,292.7 840.5,293.0 841.5,293.2 842.4,293.4 843.3,293.6 844.3,293.8 845.2,294.0 846.1,294.3 847.1,294.5 848.0,294.7 848.9,294.9 849.9,295.1 850.8,295.2 851.7,295.4 852.7,295.6 853.6,295.8 854.6,296.0 855.5,296.2 856.4,296.4 857.4,296.5 858.3,296.7 859.2,296.8 860.2,297.0 861.1,297.1 862.0,297.3 863.0,297.4 863.9,297.5 864.8,297.6 865.8,297.8 866.7,297.9 867.6,298.0 868.6,298.1 869.5,298.2 870.4,298.4 871.4,298.5 872.3,298.6 873.2,298.7 874.2,298.8 875.1,298.9 876.0,299.0 877.0,299.1 877.9,299.2 878.8,299.2 879.8,299.3 880.7,299.4 881.7,299.5 882.6,299.5 883.5,299.6 884.5,299.7 885.4,299.7 886.3,299.8 887.3,299.8 888.2,299.9 889.1,299.9 890.1,300.0 891.0,300.0 891.9,300.1 892.9,300.1 893.8,300.2 894.7,300.2 895.7,300.3 896.6,300.3 897.5,300.4 898.5,300.4 899.4,300.5 900.3,300.5 901.3,300.5 902.2,300.6 903.1,300.6 904.1,300.7 905.0,300.7 905.9,300.7 906.9,300.8 907.8,300.8 908.8,300.8 909.7,300.9 910.6,300.9 911.6,300.9 912.5,300.9 913.4,301.0 914.4,301.0 915.3,301.0 916.2,301.0 917.2,301.0 918.1,301.1 919.0,301.1 920.0,301.1 920.9,301.1 921.8,301.1 922.8,301.1 923.7,301.1 924.6,301.1 925.6,301.2 926.5,301.2 927.4,301.2 928.4,301.2 929.3,301.2 930.2,301.2 931.2,301.2 932.1,301.2 933.0,301.2 934.0,301.3 934.9,301.3 935.9,301.3 936.8,301.3 937.7,301.3 938.7,301.3 939.6,301.3 940.5,301.3 941.5,301.3 942.4,301.3 943.3,301.3 944.3,301.3 945.2,301.4 946.1,301.4 947.1,301.4 948.0,301.4 948.9,301.4 949.9,301.4 950.8,301.4 951.7,301.4 952.7,301.4 953.6,301.4 954.5,301.4 955.5,301.4 956.4,301.4 957.3,301.4 958.3,301.4 959.2,301.4 960.1,301.4 961.1,301.4 962.0,301.4 963.0,301.4 963.9,301.4 964.8,301.4 965.8,301.4 966.7,301.4 967.6,301.5 968.6,301.5 969.5,301.5 970.4,301.5 971.4,301.5 972.3,301.5 973.2,301.5 974.2,301.5 975.1,301.5 976.0,301.5 977.0,301.5 977.9,301.5 978.8,301.5 979.8,301.5 980.7,301.5 981.6,301.5 982.6,301.5 983.5,301.5 984.4,301.5 985.4,301.5 986.3,301.5 987.2,301.5 988.2,301.5 989.1,301.5 990.1,301.5 991.0,301.5 991.9,301.5 992.9,301.5 993.8,301.5 994.7,301.5 995.7,301.5 996.6,301.5 997.5,301.5 998.5,301.5 999.4,301.5" fill="none" stroke="#000" stroke-width="2.9" stroke-dasharray="4.6 2.6"/>
<g fill="none" stroke-width="4.6" stroke-linecap="round">
<path d="M629 306h0M629 312.5h0M629 301h0M628.5 304.5h0M629 304.5h0M629 325h0M628.5 309h0M629 303.5h0M629.5 311.5h0M628.5 318h0M629 300h0M628.5 300.5h0M629 300.5h0M629 299.5h0M628.5 316h0M629.5 316.5h0M629 302h0M628.5 298.5h0M629 302.5h0M628.5 320h0M629.5 304h0M629 311.5h0M629 304h0M631.5 304h0M631.5 317.5h0M631.5 302.5h0M631.5 299h0M632 305h0M632 313.5h0M631.5 300h0M632 301.5h0M631 305h0M631.5 303.5h0M631.5 312h0M631 299.5h0M632 316.5h0M632 305.5h0M631.5 315h0M632 311h0M631 300h0M631.5 301h0M631.5 309.5h0M631 326.5h0M631.5 316h0M632 300.5h0M631.5 303h0M632 315h0M632 302.5h0M640 297.5h0M640 304h0M640 304.5h0M640 315h0M640 302.5h0M640 299h0M639.5 303h0M640 307h0M640 312.5h0M639.5 305h0M639.5 301h0M640 305.5h0M639.5 305.5h0M640 306h0M639.5 315h0M639.5 299.5h0M640 302h0M639.5 304h0M639.5 302h0M640 306.5h0M640 307.5h0M640 295.5h0M640 301h0M640 300h0M640 301.5h0M639.5 299h0M640 303.5h0M639.5 314h0M643 305.5h0M643 303h0M643 298h0M642.5 297.5h0M642.5 300.5h0M643 302.5h0M642.5 304h0M643 301h0M642.5 310h0M643 298.5h0M642.5 299.5h0M643 306h0M643 300.5h0M643 299h0M642.5 303h0M643 315h0M643 297.5h0M643 306.5h0M642.5 301h0M642.5 313h0M643 304.5h0M642.5 306h0M642.5 307h0M643 301.5h0M642.5 309.5h0M643 310.5h0M648.5 304h0M648.5 302.5h0M648 312.5h0M649 303h0M648 304.5h0M648 302h0M648 299h0M648.5 299.5h0M648.5 300.5h0M648.5 302h0M648 303.5h0M648.5 301h0M648.5 307.5h0M648.5 303h0M649 300.5h0M648 311h0M648 308.5h0M648 307.5h0M648 301h0M667.5 300.5h0M668 299.5h0M668 300.5h0M668 303h0M668.5 304h0M667.5 304h0M668 299h0M668.5 299.5h0M668 309h0M668 310h0M668.5 302h0M667.5 306.5h0M668 305.5h0M668 303.5h0M668.5 301h0M668 304.5h0M667.5 307.5h0M667.5 303h0M667.5 300h0M667.5 299.5h0M667.5 302.5h0M668.5 302.5h0M667.5 304.5h0M668 308.5h0M668.5 306.5h0M668 304h0M667.5 302h0M668 297h0M668 306.5h0M667.5 298.5h0M668.5 298.5h0M667.5 313.5h0M668 300h0M673.5 304.5h0M673.5 298.5h0M673 299h0M673.5 303.5h0M674 297.5h0M673.5 312.5h0M673.5 306h0M673 304h0M673.5 301.5h0M673.5 297.5h0M673.5 300.5h0M673.5 309.5h0M673 300.5h0M673.5 317h0M673.5 294.5h0M673.5 303h0M673.5 307h0M673.5 305h0M673.5 295.5h0M673.5 302.5h0M674 301h0M673.5 313.5h0M673.5 301h0M673.5 314h0M673.5 299.5h0M673 301h0M673.5 302h0M673.5 299h0M673.5 308h0M676 300.5h0M676 310h0M676.5 309h0M676.5 303.5h0M676 297.5h0M676 301.5h0M676 304.5h0M676.5 300.5h0M676 302h0M676.5 301h0M676 299.5h0M676 305.5h0M676.5 308.5h0M676.5 302.5h0M676 303h0M676 315.5h0M676.5 303h0M676 304h0M676 307.5h0M676.5 300h0M676.5 299.5h0M676 301h0M698.5 302h0M698.5 299h0M698.5 301.5h0M698.5 303.5h0M698.5 310.5h0M699 310h0M698.5 317.5h0M699 305h0M698.5 293.5h0M698.5 304.5h0M698.5 312.5h0M699 300h0M698.5 301h0M698.5 307h0M699 303h0M699 306h0M699 298h0M698.5 298h0M698.5 323.5h0M698.5 311h0M698.5 297.5h0M701.5 301h0M701 298h0M701.5 299h0M701 301h0M701.5 307h0M701.5 318h0M701.5 306.5h0M701.5 300h0M701.5 304h0M701 311.5h0M701 304h0M701.5 303h0M701.5 298.5h0M701 302.5h0M701 303h0M701.5 302.5h0M701 303.5h0M701 315h0M701.5 306h0M701.5 309.5h0M701.5 300.5h0M701.5 301.5h0M706.5 300.5h0M707 304h0M707 299h0M707 300h0M707 297h0M706.5 300h0M707 306.5h0M707 301.5h0M706.5 310h0M707.5 310.5h0M707 301h0M706.5 303.5h0M706.5 297.5h0M707 302h0M707 298h0M707 313h0M706.5 304.5h0M707 302.5h0M706.5 302h0M707 307.5h0M707.5 300h0M710 300.5h0M710 305.5h0M709.5 296.5h0M710 302h0M709.5 301h0M710 301.5h0M710 295.5h0M710 311.5h0M710 299h0M710 306h0M709.5 301.5h0M710 310.5h0M709.5 302h0M709.5 299.5h0M710 301h0M710 305h0M709.5 298.5h0M709.5 300.5h0M709.5 303.5h0M710 307.5h0M709.5 304.5h0M710 304.5h0M709.5 305h0M727 306h0M727 300.5h0M726.5 308.5h0M726.5 302h0M735 302.5h0M734.5 307h0M734.5 303h0M735 298.5h0M734.5 299h0M735 293h0M735 300h0M735 303.5h0M734.5 301.5h0M735 301h0M735.5 308.5h0M735 299.5h0M734.5 305.5h0M735 296.5h0M735 300.5h0M735 302h0M735 305h0M734.5 300h0M735 297.5h0M734.5 295.5h0M735 306h0M735 313.5h0M738 307.5h0M737.5 293h0M737.5 304h0M737.5 303.5h0M738 298h0M738 301.5h0M738 301h0M737.5 297.5h0M738 296h0M738 297h0M737.5 300h0M738 308.5h0M737.5 299.5h0M738 297.5h0M738 302.5h0M738 303.5h0M738 296.5h0M738 306h0M743 298h0M743 301.5h0M743 300.5h0M743 302.5h0M743.5 303h0M743.5 302.5h0M743.5 299h0M743.5 299.5h0M743 300h0M743 297h0M743 310h0M743.5 295.5h0M743 303h0M743.5 297.5h0M743.5 296.5h0M743.5 295h0M743.5 301.5h0M743 306h0M743 302h0M743.5 304h0M743 311h0M743.5 313.5h0M743.5 300h0M743 308.5h0M743.5 298h0M743 304.5h0M746.5 296.5h0M746.5 302h0M746.5 300.5h0M746 299.5h0M746 306h0M746.5 301h0M746 300.5h0M746.5 304h0M746.5 298.5h0M746 295h0M746 301h0M746 297.5h0M746 305h0M746.5 300h0M746 300h0M746 303.5h0M746.5 305h0M746.5 297.5h0M746.5 295.5h0M746 293h0M746 310.5h0M746 301.5h0M746.5 306.5h0M749 297h0M748.5 296h0M748.5 304h0M749 302h0M749 306h0M749 294.5h0M749 304.5h0M749 301.5h0M748.5 304.5h0M749 302.5h0M749 301h0M749 313.5h0M749 296.5h0M748.5 297.5h0M749 309.5h0M748.5 300.5h0M749 303h0M749.5 301h0M749.5 298h0M749 300.5h0M749 296h0M749 297.5h0M749 310.5h0M748.5 312h0M748.5 308h0M749 298.5h0M749 298h0M748.5 300h0M749.5 303h0M748.5 297h0M751.5 298.5h0M751.5 305h0M752 303h0M752 298.5h0M752 299.5h0M751.5 308.5h0M752 297.5h0M752 295.5h0M751.5 307h0M752 300.5h0M751.5 304h0M752 302.5h0M751.5 301.5h0M751.5 295.5h0M751.5 297h0M751.5 301h0M752 296h0M752 306h0M751.5 294.5h0M751.5 297.5h0M751.5 300.5h0M752 307h0M752 304h0M752 299h0M754.5 299h0M754.5 309.5h0M754 300h0M754 297.5h0M754.5 308h0M754.5 314h0M754.5 309h0M754.5 297.5h0M755 302.5h0M754.5 302h0M754 314h0M754.5 307h0M754 301h0M754.5 304.5h0M754.5 300h0M755 297.5h0M754.5 299.5h0M754.5 298h0M754.5 294h0M754.5 296h0M754.5 306.5h0M755 306.5h0M754.5 313.5h0M754.5 301.5h0M755 291.5h0M755 293.5h0M755 308h0M754.5 295.5h0M754.5 301h0M760 302h0M760.5 302h0M760 295h0M760 296.5h0M759.5 299.5h0M760 300.5h0M760 304.5h0M760.5 313h0M760.5 298.5h0M760 296h0M760.5 300h0M760 294.5h0M760 299.5h0M759.5 296h0M760 300h0M760 301h0M760.5 295h0M759.5 301h0M760.5 292.5h0M760 305h0M760 298h0M760.5 301h0M760.5 297.5h0M760 299h0M760.5 294h0M760 297h0M760 303h0M760.5 299.5h0M760 297.5h0M765.5 296.5h0M766 299.5h0M765.5 300.5h0M766 307h0M766 299h0M765.5 304h0M765.5 292.5h0M766 300h0M765.5 298h0M765.5 299.5h0M765.5 297.5h0M766 308.5h0M766 293.5h0M766 296h0M765.5 303h0M766 295h0M765.5 294h0M765.5 296h0M766 301h0M766 311h0M765.5 303.5h0M766 295.5h0M766 302.5h0M766 298.5h0M766 309h0M766 302h0M766 297h0M765.5 293h0M766 304h0M766 298h0M768.5 305.5h0M768.5 313.5h0M768.5 294h0M769 301h0M769 309h0M769 299.5h0M768.5 299h0M768.5 289.5h0M768 302h0M768.5 298h0M769 302h0M768.5 298.5h0M769 297.5h0M768.5 297h0M769 295.5h0M768.5 297.5h0M768.5 301.5h0M768 295.5h0M768.5 295.5h0M768 300h0M768.5 308h0M768.5 305h0M768 295h0M768 303.5h0M768.5 302h0M768.5 295h0M769 301.5h0M768.5 293.5h0M769 296h0M769 294.5h0M768 294h0M772 309h0M771 298.5h0M772 294h0M771 304.5h0M771.5 297.5h0M771.5 290h0M771.5 301.5h0M772 299h0M771.5 312h0M771.5 299.5h0M771.5 300h0M771 299.5h0M771.5 295h0M771 292h0M771.5 297h0M771.5 296h0M771 306h0M771 301.5h0M771.5 291.5h0M771.5 290.5h0M771.5 301h0M771 296.5h0M771 311.5h0M771.5 305h0M771 295h0M771.5 305.5h0M772 296.5h0M772 290h0M771 298h0M771.5 299h0M771.5 298h0M771.5 304h0M776.5 288.5h0M777 293.5h0M776.5 302h0M776.5 293.5h0M777 292.5h0M776.5 290h0M777 309h0M777 294.5h0M776.5 327h0M777 299h0M777.5 295h0M777 298h0M776.5 294.5h0M776.5 303.5h0M777.5 303.5h0M776.5 304h0M777.5 306h0M777.5 309.5h0M777 316.5h0M777 297.5h0M777 293h0M776.5 312h0M777 311h0M777 302h0M777 341h0M783 297h0M782 302.5h0M782.5 295.5h0M782.5 299h0M783 304h0M783 296.5h0M783 295h0M783 301.5h0M782 287h0M783 296h0M783 292h0M782.5 305h0M783 293.5h0M782.5 299.5h0M783 292.5h0M782.5 287h0M782.5 297h0M783 307h0M782.5 291h0M783 294h0M783 288.5h0M782.5 295h0M782.5 297.5h0M782.5 290.5h0M782.5 293h0M782.5 296.5h0M782.5 302.5h0M783 306h0M782.5 292.5h0M782.5 301.5h0M783 290.5h0M785.5 293h0M785 293.5h0M785 303.5h0M785.5 293.5h0M785.5 306.5h0M785.5 297h0M785 293h0M785 295h0M785.5 302h0M785.5 296h0M785.5 301.5h0M785.5 304.5h0M785 305.5h0M785 292.5h0M785.5 294h0M785.5 300h0M785.5 296.5h0M785 298.5h0M785 296.5h0M785 302.5h0M785 287.5h0M785.5 297.5h0M785.5 301h0M785 294.5h0M785.5 289h0M793.5 285.5h0M794 288h0M794 289.5h0M793.5 293h0M794 286h0M793.5 295.5h0M793.5 295h0M794 293h0M793.5 296h0M793.5 290h0M793.5 301h0M793.5 289h0M793.5 292h0M794 293.5h0M794 302h0M793.5 293.5h0M794 305.5h0M794 294h0M793.5 291.5h0M793.5 290.5h0M794 294.5h0M794 292h0M794 292.5h0M793.5 288h0M793.5 298.5h0M794 291h0M793.5 298h0M794 291.5h0M794 289h0M793.5 310.5h0M796.5 290.5h0M797 290.5h0M797 288.5h0M797 292h0M796.5 294h0M797 297h0M797 291.5h0M796.5 291h0M797 290h0M796.5 303.5h0M796.5 302h0M796.5 295.5h0M796 297h0M796.5 290h0M797 293.5h0M796.5 293h0M797 292.5h0M797 289h0M796.5 295h0M796.5 297h0M797 293h0M796 292.5h0M797 287h0M796 291h0M796.5 298.5h0M796.5 291.5h0M796 309.5h0M797 303h0M796.5 286.5h0M804.5 293.5h0M805 295h0M805 291h0M805 283.5h0M805 285.5h0M805 289.5h0M805 284.5h0M804.5 290.5h0M804.5 289h0M804.5 281.5h0M805 291.5h0M805 298.5h0M805 293.5h0M804.5 288h0M805 288h0M805 290.5h0M804.5 292h0M804.5 292.5h0M805 281.5h0M804.5 290h0M804.5 287h0M804.5 287.5h0M805 282.5h0M805 290h0M804.5 295h0M805 298h0M804.5 299h0M805 292.5h0M804.5 284.5h0M805 293h0M808 296h0M807.5 298h0M807.5 288.5h0M807.5 291.5h0M808 293h0M807.5 290h0M807.5 300h0M808 285h0M807.5 295.5h0M807 294h0M807.5 287.5h0M808 289.5h0M808 295h0M808 292h0M807.5 283h0M807.5 286.5h0M808 300.5h0M808 284.5h0M808 293.5h0M807.5 292h0M808 292.5h0M808 286h0M807.5 287h0M807.5 293.5h0M807.5 282.5h0M810.5 292h0M810 292.5h0M810.5 293h0M810.5 308h0M810.5 295.5h0M810.5 295h0M810.5 292.5h0M810 284h0M810.5 289h0M810.5 288.5h0M810.5 299h0M810.5 284h0M810 289h0M810.5 302.5h0M810 296.5h0M810.5 294.5h0M810 286.5h0M810 298.5h0M810.5 291h0M810 291h0M810.5 290.5h0M810 288.5h0M810.5 290h0M810 296h0M810.5 287h0M810.5 289.5h0M810 284.5h0M810 293h0M813.5 286h0M813.5 296h0M813.5 294h0M813 288h0M813.5 288.5h0M813.5 292.5h0M813.5 291.5h0M813 291.5h0M813 282.5h0M813 284.5h0M813 293h0M813.5 292h0M813.5 287h0M813 289.5h0M813.5 285h0M813 297.5h0M813 292h0M813.5 294.5h0M813.5 281.5h0M813 287.5h0M813 301.5h0M813 295.5h0M813 283.5h0M813.5 288h0M813.5 285.5h0M813.5 283.5h0M813 289h0M815.5 291h0M815.5 289h0M816 288.5h0M816 293.5h0M816.5 294.5h0M816.5 295.5h0M816.5 299.5h0M816.5 290.5h0M816.5 292.5h0M816.5 293h0M816.5 291.5h0M816.5 288.5h0M816.5 284.5h0M815.5 293h0M816 289.5h0M816.5 298.5h0M816 286h0M816.5 292h0M816.5 286h0M816 291h0M816.5 295h0M816 285.5h0M816 288h0M816 285h0M816 291.5h0M816 295h0M815.5 288h0M819 293h0M819 287h0M819 284.5h0M819 295.5h0M819 300.5h0M819 295h0M818.5 303h0M818.5 288h0M819 289h0M819 311.5h0M819 288.5h0M819 289.5h0M818.5 304h0M819 286.5h0M819 287.5h0M818.5 289h0M818.5 286h0M819 285.5h0M819.5 291h0M819 286h0M819 294h0M818.5 296h0M821 294h0M822 290.5h0M821 295h0M821.5 286h0M821.5 299.5h0M821.5 294h0M821 289h0M822 300h0M821.5 289h0M821.5 297.5h0M821.5 298h0M822 307h0M822 288.5h0M821.5 285.5h0M821.5 290h0M822 295h0M822 297h0M822 298h0M821.5 291h0M821.5 284h0M821.5 282.5h0M821.5 296.5h0M822 289.5h0M822 292.5h0M821.5 298.5h0M822 294h0M827 291.5h0M827.5 293h0M827.5 292h0M827 299.5h0M827.5 291h0M827.5 294.5h0M827 286.5h0M827 290h0M827.5 289.5h0M827 290.5h0M827.5 291.5h0M827.5 292.5h0M827 292.5h0M827.5 286.5h0M827 295.5h0M827 285.5h0M827 294h0M827.5 288h0M827.5 297.5h0M827.5 294h0M827.5 297h0M827 297.5h0M827.5 304h0M827 288.5h0M827.5 296.5h0M830 290.5h0M830 291h0M830 297h0M830 287h0M829.5 291h0M830 293h0M830 298.5h0M830 296.5h0M830.5 293h0M830.5 313h0M829.5 289.5h0M829.5 294h0M830 290h0M830 287.5h0M829.5 288.5h0M830.5 291h0M829.5 292h0M830 292h0M830.5 306.5h0M830 282h0M830.5 294.5h0M830 301.5h0M829.5 283.5h0M830 300h0M830 303h0M835.5 301.5h0M835.5 297.5h0M835.5 291h0M835.5 300h0M835.5 297h0M836 293h0M835.5 291.5h0M835 311.5h0M835.5 287.5h0M835.5 295h0M835.5 314.5h0M835 299h0M835.5 292h0M835.5 314h0M836 300.5h0M835.5 288h0M836 291.5h0M835.5 306h0M838 300h0M838.5 296h0M838.5 292.5h0M838.5 297h0M838 306h0M838 298.5h0M838.5 295.5h0M838.5 291.5h0M838.5 298.5h0M838.5 304.5h0M838 295.5h0M838.5 293h0M838 289.5h0M838.5 306.5h0M838 292h0M838.5 292h0M838.5 305h0M838.5 293.5h0M838.5 302h0M838.5 294.5h0M838.5 319.5h0M838 301h0M838.5 314.5h0M838.5 296.5h0M838.5 289.5h0M838 293.5h0M838.5 302.5h0M863.5 300.5h0M863.5 302h0M863.5 299.5h0M864 294h0M863.5 298h0M863.5 293.5h0M863.5 301h0M863.5 318h0M863.5 298.5h0M863.5 295.5h0M864 299h0M864 302.5h0M863.5 297h0M863.5 294h0M863.5 292.5h0M863.5 300h0M863.5 296h0M864 300h0M863.5 306.5h0M863.5 301.5h0M863.5 310h0M864 309.5h0M863.5 315h0M863 291.5h0M863.5 294.5h0M864 306h0M863.5 293h0M866.5 302.5h0M866.5 314h0M866 294.5h0M866.5 294h0M866.5 298.5h0M866 306.5h0M866.5 303h0M866.5 298h0M866.5 306.5h0M866.5 313h0M866 295.5h0M866 301h0M866 300.5h0M866.5 307.5h0M866.5 308.5h0M866.5 309h0M866 299.5h0M866.5 300h0M866.5 296h0M866 291.5h0M866.5 291.5h0M866 300h0M866.5 297.5h0M866.5 297h0M866 317.5h0M866 297h0M866.5 311.5h0M866 298h0M866.5 300.5h0M866 304.5h0M866.5 299.5h0M866 296.5h0M866 299h0M866 293.5h0M869.5 298.5h0M869 314.5h0M869 303.5h0M869 298.5h0M869 299.5h0M869.5 308.5h0M869.5 294h0M869 299h0M869.5 301h0M869 310h0M869 307.5h0M869.5 299h0M869.5 302h0M868.5 301.5h0M869.5 294.5h0M869.5 317.5h0M869.5 304.5h0M869 297h0M869 301.5h0M869.5 299.5h0M869.5 296.5h0M869 298h0M869.5 292.5h0M869 300h0M868.5 300.5h0M869 292.5h0M869 295h0M868.5 300h0M869.5 295h0M869 306h0M869 296h0M869.5 296h0M869 312.5h0M869.5 306.5h0M877 296.5h0M877.5 296.5h0M877.5 299h0M877.5 300.5h0M877.5 301h0M878 304.5h0M877.5 296h0M877.5 298h0M877.5 302h0M880.5 298.5h0M880 317h0M880 313h0M880.5 300h0M880 297.5h0M880.5 304.5h0M880 303.5h0M883.5 300h0M883.5 305.5h0M883.5 290.5h0M883 309.5h0M883 300.5h0M883 297h0M883.5 303h0M883 299h0M886 301h0M885.5 298.5h0M886 299h0M885.5 303h0M886 300.5h0M885.5 299.5h0M886 308h0M885.5 304.5h0M885.5 299h0M899.5 310.5h0M899.5 289.5h0M900 295.5h0M900 303h0M899.5 279.5h0M900 292.5h0M900 294h0M899.5 292h0M899.5 296.5h0M900 299h0M900 290.5h0M899.5 296h0M900 310.5h0M900 296.5h0M899.5 311h0M900 291h0M900 299.5h0M900 282h0M900 306.5h0M899.5 293.5h0M899.5 287.5h0M900 301.5h0M899.5 294h0M899.5 285.5h0M900 314.5h0M900 297h0M899.5 284h0M900 300.5h0M899.5 280h0M899.5 297h0M900 300h0M899.5 295h0M900 297.5h0M902.5 305h0M903 311h0M902.5 302.5h0M903 319h0M903 286.5h0M902.5 307h0M902.5 297.5h0M902.5 297h0M902.5 294h0M903 298.5h0M902.5 296h0M903 305h0M902.5 311h0M903 304h0M903 288h0M902.5 294.5h0M902.5 318.5h0M902.5 300h0M903 301.5h0M903 295.5h0M902.5 298.5h0M903 286h0M902.5 299h0M903 297h0M902.5 296.5h0M902.5 300.5h0M902.5 292h0M903 283.5h0M903 296h0M902.5 302h0M903 304.5h0M903 299h0M902.5 304h0M903 308h0M902.5 320h0M902.5 285h0M906 298h0M905 295.5h0M905.5 298h0M905 300h0M905.5 303h0M906 310.5h0M906 300h0M905.5 296.5h0M905.5 295h0M905.5 298.5h0M905 297.5h0M905.5 293.5h0M905.5 291.5h0M906 299.5h0M905.5 282h0M905.5 302h0M905.5 297h0M905.5 294h0M905.5 300h0M905.5 322.5h0M905.5 285.5h0M905.5 308.5h0M905.5 297.5h0M905 295h0M905.5 296h0M905.5 294.5h0M905 310h0M905.5 299h0M905.5 306.5h0M905.5 305h0M905.5 289h0M905 298h0M906 288.5h0M905.5 311h0M905 285h0M905.5 317.5h0M905.5 292h0M906 303h0M906 285.5h0M905.5 304.5h0M908.5 289.5h0M908.5 295.5h0M908 290.5h0M908 296h0M908.5 307h0M908.5 282.5h0M908.5 297.5h0M908.5 321h0M908 306h0M908.5 307.5h0M908.5 296.5h0M908.5 303.5h0M908 299h0M908 296.5h0M908 292h0M908.5 302.5h0M908 304h0M908 323.5h0M908.5 301.5h0M908.5 287.5h0M908.5 282h0M908.5 313.5h0M908.5 292h0M908.5 309h0M908 297.5h0M908.5 314.5h0M908.5 290h0M908.5 279.5h0M908.5 291.5h0M908.5 285h0M908.5 300.5h0M908.5 298h0M908 304.5h0M908 293h0M908.5 294.5h0M908 298h0M908.5 317.5h0M931 298h0M931 303h0M930.5 297.5h0M931 296.5h0M930.5 300h0M930.5 295.5h0M930.5 308h0M930.5 309h0M930.5 298.5h0M930.5 305.5h0M930.5 297h0M931 297.5h0M930.5 303h0M930.5 313h0M930.5 307h0M930.5 301h0M930.5 309.5h0M930.5 296.5h0M931 302h0M930.5 292h0M931 293h0M930.5 298h0M931 287.5h0M933.5 301.5h0M933 299h0M933.5 295h0M933.5 305.5h0M934 312h0M933.5 316h0M933.5 304h0M933.5 283.5h0M934 301.5h0M933.5 291h0M933.5 299.5h0M933.5 293h0M933 301h0M933.5 300h0M933.5 303.5h0M934 303.5h0M934 305.5h0M934 316.5h0M934 287.5h0M933.5 301h0M933.5 302.5h0M933.5 309h0M934 303h0M933 313.5h0M934 302.5h0M934 297h0M933.5 309.5h0M936 293.5h0M936 286h0M936.5 306h0M937 283h0M936 311.5h0M936 312h0M936.5 299.5h0M936.5 297.5h0M936.5 298.5h0M936.5 309.5h0M936.5 288h0M936.5 305h0M936 298.5h0M936 299.5h0M936 303.5h0M936.5 297h0M936.5 305.5h0M936.5 302.5h0M936.5 298h0M936.5 291h0M936.5 284h0M936 302.5h0M936 294.5h0M936.5 296h0M947 302.5h0M947.5 307.5h0M947.5 296.5h0M947 309.5h0M947.5 298.5h0M956 305h0M956.5 304h0M956 302h0M955.5 304.5h0M959 313.5h0M958.5 299h0M958.5 298h0M958.5 302h0M958.5 304h0M969.5 311h0M969.5 303h0M970 304h0M970 302.5h0M969.5 321.5h0M970 301h0M969.5 311.5h0M969.5 309.5h0M969.5 312.5h0M970 301.5h0M970 305.5h0M969.5 310h0M969.5 304h0M969.5 312h0M969.5 301.5h0M973 308h0M972.5 304.5h0M972 303.5h0M973 306h0M973 306.5h0M973 312h0M972.5 303.5h0M972 311h0M972 302.5h0M972.5 306.5h0M973 307.5h0M973 305h0M972.5 309h0M992 311.5h0M992 304h0M991.5 302h0M992 307.5h0M992 301h0M992 303h0M992.5 303.5h0M992 310.5h0M992 302.5h0M992.5 305h0M991.5 305h0M992 305h0M992.5 307h0M992 303.5h0M777 314h0M776.5 319.5h0M776.5 321h0M777 320h0M776.5 312.5h0M776.5 320.5h0M777 323h0M838 315h0M838.5 315.5h0M838.5 312h0M838.5 309.5h0M838.5 322.5h0M838.5 321.5h0M838 321.5h0M839 319h0M838 319.5h0M631.5 319h0M631.5 310h0M632 309.5h0M631 315.5h0M632 309h0M631 311.5h0M698.5 313.5h0M699 318h0M698 317.5h0M698.5 309.5h0M905 342h0M905 331.5h0M905.5 327.5h0M905.5 341h0M905 344h0M905 324.5h0M933.5 333h0M934 332.5h0M933 316.5h0M933.5 312h0M933.5 319h0M933 329h0M776.5 117.5h0M830.5 202.5h0M674 249.5h0M817 266h0M801.5 278h0M807.5 278h0M933 275h0M674.5 292.5h0M642 295h0M904.5 378.5h0M904.5 365h0M838 336h0M777 329h0M738 317.5h0M761.5 316.5h0M797 314.5h0" stroke="#0b55e8"/>
<path d="M863 319h0M862.5 297h0M863 303.5h0M862.5 324.5h0M863 296h0M863 299h0M862.5 306.5h0M863 297h0M863 296.5h0M863 322h0M862.5 295.5h0M862.5 299h0M862.5 296h0M862.5 308h0M863 310h0M863 312h0M862.5 302h0M862.5 312.5h0M862.5 299.5h0M862.5 298.5h0M862.5 300h0M863 301.5h0M862.5 298h0M863 301h0M862.5 297.5h0M862.5 305.5h0M863 322.5h0M863 299.5h0M868.5 298h0M868.5 298.5h0M868 311.5h0M868 310h0M868.5 300h0M868 305.5h0M868 313h0M868.5 306.5h0M868 299.5h0M868.5 297h0M868.5 304.5h0M868 295.5h0M868 306.5h0M868.5 305h0M871.5 299.5h0M871 299h0M871 296.5h0M871 300h0M871 302h0M871 297.5h0M871 321h0M871 298.5h0M871 316.5h0M870.5 310.5h0M871.5 303h0M871 295.5h0M871.5 298h0M871.5 297.5h0M871 315.5h0M871 310h0M874 302.5h0M874 301.5h0M873.5 301.5h0M874.5 309h0M874 303h0M874 299.5h0M873.5 298.5h0M873.5 316.5h0M874 304.5h0M873.5 301h0M874 301h0M873.5 310.5h0M874.5 299.5h0M874 295.5h0M874 311h0M873.5 302.5h0M873.5 303.5h0M876.5 304h0M876.5 302.5h0M876.5 316h0M877 320.5h0M877 303h0M877 306.5h0M877 304h0M876.5 310.5h0M877 300h0M876.5 303.5h0M877 303.5h0M876.5 303h0M879.5 318h0M880 313.5h0M879.5 304h0M879.5 315.5h0M879 307h0M879.5 305h0M879.5 302.5h0M879.5 303h0M880 300.5h0M879 311h0M879.5 314.5h0M879.5 300.5h0M880 299.5h0M879 299.5h0M879 309h0M879 304h0M879.5 301h0M882.5 299.5h0M882.5 300.5h0M882.5 302h0M882.5 305h0M882 302h0M882 301h0M882 346.5h0M882 324h0M882.5 304.5h0M882.5 301h0M882 303h0M882.5 300h0M882 310.5h0M882 303.5h0M882 324.5h0M885 303.5h0M885 303h0M885 308h0M884.5 288h0M885.5 316h0M885.5 319h0M885 315.5h0M884.5 303.5h0M885 310h0M885 308.5h0M884.5 301.5h0M885 302.5h0M885 329.5h0M888 305h0M887.5 304.5h0M888 300.5h0M887.5 296h0M888 302h0M888 312.5h0M887.5 301.5h0M888.5 301h0M888.5 302.5h0M888 307.5h0M888 303.5h0M888.5 300h0M887.5 302.5h0M901.5 300h0M901.5 314h0M902 301h0M902 301.5h0M902 300h0M901.5 303.5h0M902 302h0M901.5 321h0M902 300.5h0M902 307.5h0M902 305h0M902 303.5h0M902 324.5h0M901.5 315h0M902 303h0M902 304h0M901.5 299.5h0M901.5 304h0M902 302.5h0M901.5 298.5h0M904.5 300.5h0M905 304.5h0M905 301h0M905 306h0M905 302h0M905 303h0M904.5 303h0M904.5 301h0M905 299h0M904.5 309h0M905 297.5h0M904.5 300h0M904.5 309.5h0M904.5 299.5h0M904.5 306h0M907.5 302.5h0M907.5 322h0M907 304h0M907.5 302h0M907.5 305h0M907.5 300h0M907.5 301h0M907.5 299.5h0M907.5 303h0M907 304.5h0M907.5 307.5h0M907 316h0M907.5 301.5h0M907.5 304.5h0M907.5 318h0M907 300h0M907.5 308.5h0M907 300.5h0M907 302h0M910.5 301.5h0M910 303.5h0M910 301h0M910 304h0M910.5 301h0M910.5 311.5h0M910.5 306h0M910 299.5h0M910.5 299h0M910 305h0M910.5 304.5h0M910 302.5h0M910 301.5h0M910 304.5h0M910.5 298.5h0M910.5 304h0M910.5 307.5h0M910 302h0M910 303h0M910 315.5h0M910.5 303.5h0M910 310h0M910 308h0M916.5 299.5h0M916.5 300.5h0M915.5 299.5h0M916 302.5h0M915.5 303.5h0M916 301h0M916 299.5h0M916 305.5h0M916.5 305.5h0M919 300.5h0M918.5 300h0M918.5 299.5h0M918.5 301.5h0M918.5 299h0M919 302.5h0M918.5 300.5h0M918.5 303h0M918.5 306h0M919 299.5h0M919 302h0M919 301.5h0M918.5 304h0M919 307.5h0M919 297.5h0M919 296h0M919 306h0M918 300.5h0M918.5 305.5h0M918.5 302h0M918.5 303.5h0M918.5 292.5h0M918.5 311h0M918.5 304.5h0M919 300h0M918.5 297.5h0M921.5 301h0M921.5 303.5h0M921.5 299.5h0M921 303h0M922 300h0M921 313.5h0M921.5 298.5h0M921.5 300.5h0M921.5 300h0M921 297.5h0M922 315.5h0M921.5 291h0M921.5 301.5h0M921.5 304.5h0M921 306h0M921 302h0M921.5 302h0M921 298.5h0M921.5 311.5h0M922 298.5h0M921 298h0M921.5 304h0M922 304h0M921 305h0M921.5 299h0M921 300h0M922 303.5h0M921.5 302.5h0M921 300.5h0M922 302h0M924 304.5h0M924 301h0M924.5 307h0M924 303h0M924.5 304h0M924.5 303h0M924 300.5h0M924.5 299h0M924.5 311h0M924.5 302h0M924 304h0M924 308.5h0M924 302.5h0M924 307h0M924 303.5h0M924 301.5h0M924.5 298h0M924.5 306h0M924.5 305h0M924.5 300.5h0M924 300h0M924 308h0M924 298h0M924 299.5h0M924.5 299.5h0M924 302h0M924.5 301h0M924.5 303.5h0M924.5 309h0M927.5 301h0M927 303h0M926.5 307.5h0M927 300h0M927 299.5h0M927 302.5h0M926.5 301h0M926.5 303.5h0M927 312h0M926.5 304.5h0M927 298h0M926.5 308h0M926.5 302.5h0M927.5 303h0M927 300.5h0M927 301h0M927 304h0M927 305h0M927 302h0M927 301.5h0M927 303.5h0M927.5 302h0M927.5 298.5h0M926.5 300h0M927 305.5h0M926.5 298.5h0M927.5 299.5h0M927 296.5h0M926.5 299.5h0M926.5 300.5h0M927 307h0M927.5 315.5h0M926.5 310.5h0M927.5 304h0M927 313.5h0M933 292.5h0M932.5 307.5h0M932.5 302h0M932.5 299h0M932.5 308.5h0M932.5 298h0M933 298.5h0M932.5 296.5h0M933 305.5h0M932.5 313.5h0M932.5 303.5h0M933 296.5h0M932.5 304.5h0M932.5 302.5h0M932 298h0M933 293h0M933 305h0M932.5 294.5h0M932.5 289.5h0M933 311h0M933 301.5h0M938 311h0M938 304.5h0M938 304h0M938 303h0M938 299.5h0M938.5 306h0M938 300h0M938 301.5h0M938 305h0M938 309.5h0M938 302h0M938.5 315h0M938 310.5h0M938 314h0M938.5 299h0M938 298h0M938 290h0M938 297h0M938 300.5h0M938.5 304.5h0M938 303.5h0M941 298.5h0M941 301.5h0M941 318.5h0M941 304.5h0M941 303.5h0M941 299.5h0M941 308h0M941 302.5h0M941 303h0M941 302h0M940.5 303h0M941 300h0M941 304h0M940.5 303.5h0M941 307h0M941 305.5h0M941 306.5h0M940.5 311h0M941.5 303.5h0M940.5 304.5h0M940.5 301h0M940.5 300.5h0M940.5 302.5h0M944 303.5h0M943.5 308h0M944 307.5h0M944 310h0M943.5 303h0M944 302h0M944 304h0M944 300h0M944 301.5h0M944 303h0M943.5 306.5h0M944 298.5h0M943.5 301.5h0M943.5 300.5h0M944 302.5h0M944 300.5h0M943.5 300h0M943.5 304.5h0M944 305.5h0M944.5 303h0M946.5 302.5h0M946.5 299.5h0M946.5 304.5h0M947 302h0M946.5 301.5h0M946.5 306.5h0M946 304h0M946.5 304h0M946.5 300.5h0M946.5 305h0M946.5 299h0M946.5 303h0M947 310.5h0M946 308.5h0M946.5 305.5h0M949.5 301.5h0M950 302.5h0M950 311.5h0M949.5 308h0M950 303h0M949 297h0M949.5 302h0M949.5 308.5h0M949 298h0M949.5 317.5h0M949 310.5h0M949.5 304h0M950 303.5h0M949 302.5h0M949.5 311h0M949 302h0M949.5 299.5h0M950 300.5h0M949 309.5h0M949 304h0M949.5 302.5h0M949.5 303h0M950 304h0M952 300h0M952.5 302h0M952 301.5h0M952 303.5h0M952.5 308h0M952.5 305.5h0M952 302.5h0M952 314.5h0M952 305h0M952 309h0M952 311h0M952.5 301.5h0M952.5 306h0M952 303h0M952.5 310h0M954.5 305.5h0M955 299h0M955 309.5h0M955 299.5h0M955 301h0M955 302.5h0M954.5 306.5h0M955 305h0M955 297.5h0M955 303h0M954.5 304.5h0M955.5 302.5h0M955 296.5h0M955 295h0M954.5 303.5h0M955 306.5h0M954.5 314h0M958 301h0M958 308h0M957.5 306h0M957.5 303.5h0M958 302h0M958 307h0M958 300h0M958 303.5h0M958 302.5h0M957.5 304h0M957.5 304.5h0M958 300.5h0M957.5 305.5h0M957.5 315.5h0M957.5 302h0M957.5 300.5h0M957.5 308.5h0M960.5 301h0M960.5 305.5h0M960.5 309.5h0M960.5 299h0M960.5 300.5h0M960.5 304.5h0M960.5 296.5h0M960.5 304h0M960.5 306h0M960.5 302h0M960 300.5h0M960.5 312.5h0M960 318.5h0M960.5 311.5h0M960 301h0M960.5 303.5h0M960.5 307h0M960 303.5h0M980.5 300.5h0M980 301h0M980 305h0M980 302.5h0M980 304h0M980 301.5h0M980 302h0M979.5 306.5h0M979.5 310.5h0M980 303h0M980 320h0M980 315h0M980.5 303.5h0M979.5 303.5h0M980 311h0M980 310.5h0M980 311.5h0M980 317.5h0M980 334.5h0M983 303.5h0M983 301h0M982.5 304h0M982.5 301.5h0M982.5 305h0M982.5 300.5h0M983 302h0M982.5 301h0M983 299.5h0M983 305.5h0M982.5 302.5h0M983 304h0M983 295.5h0M982.5 299h0M983 317.5h0M982.5 302h0M983 306h0M983 313.5h0M983 304.5h0M985.5 315.5h0M986 303h0M986 304h0M986 302.5h0M985.5 319.5h0M985.5 301h0M986 304.5h0M985.5 305.5h0M985.5 309h0M986 301h0M986 306.5h0M985.5 306.5h0M985.5 301.5h0M985.5 305h0M986 303.5h0M985.5 302.5h0M986 301.5h0M985.5 303.5h0M985.5 306h0M988.5 304.5h0M988 300h0M988.5 318.5h0M988.5 302.5h0M988.5 302h0M988.5 308.5h0M988.5 303.5h0M988.5 304h0M988.5 301.5h0M988.5 306h0M988.5 303h0M988.5 299.5h0M988.5 305h0M988 302h0M988 305.5h0M991 301h0M991 304.5h0M991 299h0M991.5 313.5h0M991.5 304.5h0M991 301.5h0M991 300.5h0M991 306.5h0M991.5 301.5h0M991.5 314.5h0M991 302.5h0M991.5 303.5h0M991 305h0M991.5 307h0M991.5 300.5h0M991 304h0M991.5 314h0M991 314h0M991 303.5h0M876.5 319h0M876.5 325h0M876.5 344.5h0M877 337h0M877 340h0M876.5 341.5h0M877 348.5h0M877 320h0M877 343.5h0M876.5 342.5h0M877 319h0M882 336h0M882.5 331h0M882.5 320h0M882.5 323.5h0M882 332.5h0M882 322h0M882.5 324h0M983 339h0M983.5 327.5h0M983 353h0M983 358.5h0M982.5 322h0M983 338h0M983 356h0M983 361h0M955 336.5h0M955 316h0M954.5 319h0M954.5 318h0M955 329h0M930 328.5h0M930 314.5h0M929.5 332.5h0M930 331h0M930 328h0M932 275h0M986.5 280.5h0M987 288h0M954 282.5h0M867 281h0M875 286.5h0M878.5 288.5h0M966 285h0M876 367h0M985.5 349h0M985.5 354.5h0M985.5 360h0M986 365h0" stroke="#e9635f"/>
</g>
<g font-family="'Liberation Sans', sans-serif" font-size="16.8" fill="#0a0a0a" opacity="0.995"><text x="635.75" y="501.00" text-anchor="middle">7098</text><text x="708.42" y="501.00" text-anchor="middle">7124</text><text x="781.09" y="501.00" text-anchor="middle">7150</text><text x="853.76" y="501.00" text-anchor="middle">7176</text><text x="926.43" y="501.00" text-anchor="middle">7202</text><text x="999.10" y="501.00" text-anchor="middle">7228</text><text x="616.95" y="461.20" text-anchor="end">-20000</text><text x="616.95" y="385.38" text-anchor="end">-10000</text><text x="616.95" y="309.56" text-anchor="end">0</text><text x="616.95" y="233.74" text-anchor="end">10000</text><text x="616.95" y="157.92" text-anchor="end">20000</text><text x="616.95" y="82.10" text-anchor="end">30000</text></g>
<g stroke="#707070" stroke-width="1.2" fill="none"><rect x="131.0" y="531.5" width="356.3" height="439.0"/><path d="M130.90 531.50v11.0M130.90 970.50v-11.0M190.30 531.50v11.0M190.30 970.50v-11.0M249.70 531.50v11.0M249.70 970.50v-11.0M309.10 531.50v11.0M309.10 970.50v-11.0M368.50 531.50v11.0M368.50 970.50v-11.0M427.90 531.50v11.0M427.90 970.50v-11.0M487.30 531.50v11.0M487.30 970.50v-11.0M131.00 913.00h11.0M487.30 913.00h-11.0M131.00 820.75h11.0M487.30 820.75h-11.0M131.00 728.50h11.0M487.30 728.50h-11.0M131.00 636.25h11.0M487.30 636.25h-11.0M131.00 544.00h11.0M487.30 544.00h-11.0"/></g>
<g fill="none" stroke-width="4.6" stroke-linecap="round">
<path d="M153 916h0M153 961.5h0M153 895.5h0M153 815.5h0M153.5 962.5h0M154 965.5h0M154.5 969h0M154 906.5h0M154 948h0M155.5 948h0M155.5 901.5h0M155.5 933.5h0M156.5 953.5h0M156.5 947.5h0M157.5 908h0M158 958h0M158 936.5h0M159 941h0M159 919.5h0M159 903h0M159.5 936h0M159 926h0M160 970.5h0M160.5 938h0M160.5 953h0M160.5 931.5h0M160.5 966.5h0M161.5 854h0M161.5 841.5h0M161.5 965.5h0M161.5 929.5h0M161.5 930h0M161.5 945.5h0M162.5 945.5h0M162.5 952h0M162.5 956h0M162.5 840.5h0M164 959.5h0M163.5 905h0M164 935.5h0M164 955h0M165 934h0M165 921h0M165 970h0M165 925.5h0M165 927h0M166.5 830h0M166.5 937.5h0M166 943h0M166 902.5h0M166 940h0M167.5 876h0M167.5 932.5h0M167 956.5h0M168.5 950h0M168.5 933h0M168.5 913.5h0M168.5 908h0M170 853h0M169.5 891h0M171 847.5h0M171 951.5h0M171 966h0M171 903h0M172 876.5h0M172 953.5h0M172.5 853.5h0M172 946.5h0M172.5 888.5h0M173.5 881.5h0M173.5 899.5h0M173 946.5h0M174.5 907.5h0M174.5 945.5h0M174.5 938h0M174.5 939.5h0M174.5 969.5h0M174.5 958.5h0M175.5 942.5h0M175.5 946.5h0M175.5 965.5h0M175.5 879.5h0M175.5 931.5h0M175.5 930h0M175.5 941.5h0M176.5 868h0M177 879h0M177 931h0M176.5 968.5h0M178 969h0M178 955h0M178 923h0M179.5 878.5h0M179 944.5h0M179.5 862.5h0M179.5 890h0M180.5 914h0M180.5 967h0M180.5 949.5h0M180.5 947h0M181.5 960h0M181.5 894h0M181.5 924h0M181.5 803h0M183 895.5h0M183 910h0M183 891.5h0M183 935.5h0M183 869h0M184 961h0M184 905.5h0M184 963h0M184 917h0M184 903.5h0M186.5 939h0M186 947h0M186 914h0M186.5 925h0M187.5 878.5h0M187.5 952.5h0M187.5 944h0M187.5 860h0M187.5 876h0M188.5 943.5h0M188.5 953h0M189 938.5h0M189 964.5h0M189 949.5h0M188.5 794h0M188.5 913h0M189 953h0M190 856h0M190 954.5h0M190 935h0M190 897.5h0M191 968.5h0M191 875.5h0M191 849.5h0M191 934h0M192.5 904.5h0M193.5 951.5h0M193.5 921h0M193.5 881h0M193.5 962.5h0M194.5 907h0M195 957h0M194.5 884h0M194.5 866.5h0M196 790h0M197 914h0M197 970.5h0M198.5 870.5h0M199.5 945.5h0M199.5 951h0M199.5 912h0M199.5 909h0M200.5 929h0M200.5 931h0M200.5 890.5h0M202 963.5h0M201.5 917h0M202 942h0M201.5 925h0M201.5 938h0M203 956h0M203 908h0M203 928h0M203 958h0M203 960.5h0M203 925.5h0M204 912.5h0M204 959.5h0M204.5 969h0M205.5 923h0M205.5 958.5h0M205.5 942h0M205 960.5h0M205 931h0M205.5 901.5h0M205.5 933.5h0M205.5 950h0M205.5 966h0M205.5 952.5h0M205.5 966.5h0M206.5 948.5h0M206.5 883.5h0M206.5 947.5h0M206.5 876h0M206.5 890.5h0M206.5 904.5h0M207.5 958h0M207.5 881.5h0M208 866h0M208 937h0M207.5 931.5h0M208 954h0M207.5 905h0M209 935h0M209 965h0M209 938h0M209 907.5h0M209 881h0M209 920h0M209 942h0M209 962h0M209 955.5h0M210 942h0M210 920h0M210 887h0M210 933.5h0M210 923h0M211.5 922h0M211.5 966.5h0M211.5 966h0M211 959h0M211.5 912.5h0M211 961h0M212.5 955h0M212.5 929.5h0M212.5 954.5h0M212.5 910h0M212.5 934h0M213.5 966.5h0M213.5 943h0M213.5 964h0M214 861h0M213.5 964.5h0M214 911h0M213.5 909.5h0M213.5 935.5h0M213.5 922h0M215 932.5h0M215 901.5h0M215 921h0M215 920h0M215 939.5h0M215 879h0M215 888h0M216 907.5h0M216 898h0M216 948.5h0M216 898.5h0M216 897.5h0M216 843.5h0M216 865.5h0M217.5 903.5h0M217.5 911.5h0M217 880.5h0M217 944.5h0M218.5 963.5h0M218.5 920h0M218.5 850h0M218.5 745.5h0M220 825h0M219.5 925.5h0M219.5 899h0M219.5 872h0M219.5 929h0M219.5 914h0M221 858h0M220.5 883.5h0M221 915.5h0M222 961h0M222 930.5h0M223 967h0M223.5 741.5h0M224.5 926.5h0M224.5 940.5h0M224.5 892.5h0M224.5 969.5h0M227 918h0M227 924.5h0M227 903h0M226.5 968h0M226.5 902.5h0M226.5 969.5h0M226.5 886h0M228 906.5h0M228 692h0M228 765h0M228 926.5h0M228 892.5h0M228 797h0M228 916h0M228 874h0M228 850h0M228 891h0M228 958.5h0M228 913.5h0M228 882h0M228 925.5h0M228 838h0M228 911h0M231.5 922h0M231.5 956.5h0M231.5 947.5h0M231.5 829.5h0M231.5 955.5h0M231.5 907h0M231.5 889.5h0M231.5 919.5h0M231.5 870h0M231.5 881h0M231.5 916h0M231.5 958.5h0M231.5 843h0M231.5 922.5h0M231.5 833h0M231.5 893.5h0M231.5 884h0M231.5 896.5h0M231.5 931.5h0M231.5 822h0M233 970.5h0M232.5 885h0M232.5 924.5h0M232.5 898.5h0M232.5 912.5h0M232.5 966h0M232.5 836.5h0M233 930.5h0M232.5 878h0M233 901h0M232.5 881.5h0M232.5 958.5h0M233 877h0M232.5 861.5h0M232.5 884h0M232.5 921.5h0M232.5 898h0M232.5 899.5h0M233 912.5h0M232.5 807.5h0M234 894h0M234 928h0M234 921.5h0M233.5 910h0M234 951.5h0M234 920.5h0M234 908.5h0M234 863h0M234 879h0M234 887.5h0M234 869.5h0M234 945h0M233.5 860.5h0M234 916h0M234 880h0M233.5 939.5h0M234 873h0M234 926.5h0M234 933.5h0M234 892.5h0M234 948.5h0M234 857.5h0M234 943.5h0M233.5 933h0M235 904h0M235 893.5h0M235 954.5h0M235 908h0M235 926.5h0M235 906.5h0M235 876h0M235 878h0M235 905.5h0M235 898.5h0M235 875.5h0M235 942.5h0M235 902.5h0M235 958.5h0M235 855h0M235 963.5h0M235 929.5h0M235 802.5h0M236.5 787h0M236 886h0M236 947.5h0M236.5 903.5h0M236.5 901.5h0M236 892h0M236 802h0M236.5 887.5h0M236 890h0M236.5 905h0M236.5 932h0M236 928.5h0M236.5 945.5h0M236.5 862.5h0M236.5 906.5h0M236 872h0M236 904h0M236 922.5h0M236.5 925.5h0M237.5 954h0M237.5 923.5h0M237.5 899h0M237.5 931.5h0M237.5 892.5h0M237.5 906.5h0M237.5 868h0M237.5 890.5h0M237.5 898h0M237.5 927h0M237.5 944.5h0M237.5 967.5h0M237.5 874.5h0M237.5 913h0M237.5 828h0M237.5 855.5h0M237.5 952h0M237.5 963h0M237.5 836.5h0M237.5 920h0M238.5 880.5h0M239 881.5h0M238.5 931.5h0M238.5 909.5h0M238.5 845.5h0M238.5 916h0M238.5 879.5h0M239 887h0M238.5 804h0M238.5 828.5h0M238.5 921h0M238.5 912h0M238.5 883h0M239 886h0M238.5 839.5h0M238.5 868h0M238.5 885h0M238.5 757.5h0M238.5 874h0M238.5 932.5h0M239 875.5h0M239.5 794.5h0M240 913.5h0M240 861.5h0M239.5 937h0M240 882h0M239.5 835.5h0M240 928h0M240 925h0M240 833h0M239.5 873h0M239.5 898h0M240 860h0M240 945.5h0M240 959.5h0M239.5 829.5h0M240 947h0M240 963h0M240 908.5h0M239.5 727h0M240 965h0M241 937h0M241 857.5h0M241 895h0M241 854h0M241 896.5h0M241 803.5h0M241 869h0M241 659.5h0M241 798.5h0M241 837h0M241 817.5h0M241 876.5h0M241 861.5h0M241 848.5h0M241 896h0M241 832h0M241 881.5h0M241 886h0M241 830h0M241 875.5h0M242 778h0M242 825.5h0M242 790.5h0M242 890.5h0M242 922h0M242 806.5h0M242 883.5h0M242.5 821.5h0M242 794.5h0M242 869h0M242 908.5h0M242 909h0M242 906.5h0M242.5 915.5h0M242 870.5h0M242 807.5h0M242 816.5h0M242 834h0M242 894.5h0M243.5 774.5h0M243.5 882.5h0M243.5 853.5h0M243.5 788.5h0M243.5 926h0M243.5 823h0M243.5 877.5h0M243.5 876h0M243.5 873h0M243.5 946.5h0M243.5 927h0M243 874h0M243.5 789.5h0M243.5 954h0M243.5 953.5h0M243.5 913h0M243 937h0M243.5 895h0M243.5 873.5h0M243.5 935.5h0M244.5 924.5h0M244.5 845.5h0M244.5 858.5h0M244.5 860h0M244.5 798h0M244.5 822.5h0M244.5 940h0M244.5 859h0M244.5 785.5h0M244.5 879h0M244.5 910.5h0M244.5 834h0M244.5 891h0M244.5 813.5h0M244.5 911.5h0M244.5 821.5h0M244.5 843h0M244.5 832.5h0M245.5 863h0M245.5 832.5h0M246 890.5h0M246 829.5h0M246 801h0M246 936.5h0M246 841h0M246 841.5h0M246 825h0M245.5 754.5h0M245.5 895h0M245.5 745.5h0M245.5 801.5h0M246 847.5h0M245.5 838h0M246 807.5h0M245.5 872.5h0M246 865h0M246 839h0M246 802h0M245.5 891.5h0M247 795h0M247 822h0M247 875.5h0M247 821h0M247 863h0M247 852h0M247 806.5h0M247 778.5h0M247 901.5h0M247 817h0M247 789.5h0M247 870.5h0M247 827.5h0M247 800h0M247 771.5h0M247 870h0M247 890h0M247 845.5h0M247 841.5h0M247 820h0M248.5 834h0M248.5 830.5h0M248.5 818h0M248 818h0M248 768h0M248.5 804h0M248 869.5h0M248 828h0M248 819h0M248 767.5h0M248 781h0M248.5 816h0M248 850.5h0M248 762h0M248 683h0M248.5 725h0M248 855.5h0M248 957.5h0M248 603.5h0M248 797.5h0M248 802.5h0M248 739.5h0M249.5 853h0M249.5 757h0M249.5 798.5h0M249.5 735h0M249.5 722.5h0M249.5 955h0M249.5 763.5h0M249.5 774.5h0M249 792.5h0M249.5 920.5h0M249.5 800h0M249 849h0M249.5 713h0M249.5 751.5h0M249.5 828.5h0M249.5 594h0M249 832.5h0M249.5 755.5h0M249.5 774h0M249.5 802.5h0M250.5 750h0M250.5 745h0M250.5 725h0M250.5 809.5h0M250.5 787.5h0M250.5 773h0M250.5 767.5h0M250.5 783.5h0M250.5 698h0M250.5 860h0M250.5 722.5h0M250.5 751h0M250.5 619.5h0M250.5 711.5h0M250.5 719h0M250.5 744h0M250.5 943.5h0M250.5 714h0M250.5 788.5h0M250.5 864.5h0M250.5 606h0M250.5 787h0M250.5 770.5h0M250.5 752.5h0M252 893.5h0M251.5 753.5h0M252 920h0M251.5 717.5h0M252 775h0M251.5 785h0M252 813.5h0M251.5 851.5h0M251.5 789.5h0M252 687h0M252 682h0M251.5 797.5h0M251.5 762.5h0M251.5 698.5h0M251.5 815h0M251.5 790.5h0M251.5 833.5h0M251.5 765.5h0M251.5 798.5h0M251.5 784.5h0M251.5 772h0M251.5 701h0M251.5 650h0M251.5 714h0M251.5 672.5h0M253 937h0M253 743.5h0M253 708h0M252.5 781h0M253 589.5h0M253 742.5h0M253 677.5h0M253 757h0M253 700.5h0M253 796h0M253 711h0M253 681.5h0M252.5 733h0M253 727h0M253 883h0M253 719.5h0M253 774h0M253 721.5h0M253 715h0M253 706h0M253 719h0M252.5 814.5h0M252.5 783h0M253 735.5h0M254 690.5h0M254 806h0M254 774h0M254 692.5h0M254 639h0M254 729.5h0M254.5 769.5h0M254 809.5h0M254 703h0M254 723h0M254 746.5h0M254 713h0M254 784.5h0M254 851.5h0M254 739h0M254 743.5h0M254 810h0M254 793h0M254 744h0M254 618.5h0M254 622.5h0M254 584.5h0M254 753h0M254 720h0M255 807h0M255 664h0M255 728h0M255 721h0M255 685h0M255 740.5h0M255.5 795.5h0M255.5 734h0M255 681h0M255 924h0M255.5 710h0M255.5 679.5h0M255 746.5h0M255.5 667.5h0M255.5 784h0M255 692h0M255.5 744.5h0M255.5 737h0M255.5 815.5h0M255.5 719.5h0M255 690h0M255.5 674h0M255.5 662h0M255.5 936h0M256.5 728h0M256.5 697.5h0M256.5 704h0M256.5 687.5h0M256.5 736.5h0M256.5 648h0M256.5 633h0M256.5 690.5h0M256.5 710h0M256.5 743h0M256.5 766.5h0M256.5 722h0M256.5 645h0M256.5 677.5h0M256.5 769h0M256.5 759.5h0M256.5 683h0M256.5 604h0M256.5 661.5h0M256.5 901h0M256.5 926h0M256.5 580h0M256.5 655h0M256.5 628h0M256.5 668.5h0M256.5 916h0M256.5 654h0M257.5 603.5h0M258 688.5h0M258 633.5h0M258 607.5h0M258 746.5h0M257.5 680.5h0M257.5 577h0M258 697h0M257.5 691h0M258 585h0M257.5 619h0M257.5 692h0M258 623.5h0M258 639h0M257.5 666.5h0M258 905h0M258 605h0M257.5 657h0M257.5 620.5h0M257.5 661h0M257.5 589h0M257.5 790.5h0M258 624.5h0M258 694.5h0M257.5 644.5h0M257.5 625h0M258.5 674h0M259 643h0M258.5 679h0M259 607.5h0M259 588.5h0M259 711h0M259 702h0M259 792.5h0M258.5 654h0M259 557h0M259 670h0M259 629.5h0M258.5 568.5h0M258.5 746.5h0M259 784h0M259 570.5h0M259 719.5h0M259 832h0M259 556h0M259 817.5h0M259 654.5h0M259 607h0M258.5 564h0M259 596h0M259 620.5h0M258.5 617h0M259 728h0M259 618.5h0M259 736h0M259 621h0M259 795h0M260 697h0M260 562h0M260 735h0M260 715h0M260 532h0M260 669.5h0M260 601h0M260 633h0M260 768.5h0M260 646.5h0M260 535h0M260 548h0M260 804.5h0M260 850.5h0M260 617.5h0M260 607.5h0M260 621.5h0M260 729.5h0M260 552h0M261 576.5h0M261.5 537.5h0M261.5 830.5h0M261 694.5h0M261 643h0M261 645h0M261 578.5h0M261.5 866.5h0M261 637.5h0M261 620.5h0M261.5 607.5h0M261 608h0M261 544.5h0M261 622.5h0M261 777h0M261.5 620.5h0M261 691.5h0M261.5 579h0M261.5 823.5h0M261 605.5h0M261.5 567.5h0M261.5 624h0M261.5 685h0M261.5 601h0M261 545h0M262.5 578h0M262.5 808h0M262.5 632h0M262.5 572.5h0M262.5 622h0M262.5 647h0M262.5 555.5h0M262.5 539.5h0M262.5 708h0M262.5 576h0M262.5 583h0M262.5 758.5h0M262.5 605.5h0M262.5 553.5h0M262.5 620h0M262.5 631h0M262.5 656h0M262.5 558h0M262.5 543.5h0M262.5 541h0M263.5 625h0M263.5 609.5h0M263.5 591h0M263.5 553.5h0M263.5 766h0M263.5 571h0M263.5 597.5h0M263.5 576.5h0M263.5 561h0M263.5 680h0M263.5 654h0M263.5 592.5h0M263.5 853h0M263.5 594.5h0M263.5 536.5h0M265 565h0M265 567.5h0M265 558h0M265 678.5h0M265 885.5h0M265 559h0M265 603.5h0M265 596.5h0M264.5 649.5h0M265 615.5h0M265 628.5h0M265 669.5h0M264.5 719h0M264.5 612h0M265 693.5h0M265 569.5h0M265 592.5h0M264.5 619.5h0M264.5 551.5h0M266 578h0M266 672h0M266 644.5h0M266 657.5h0M266 534h0M266 559h0M266 678h0M266 588h0M266 704.5h0M266 542.5h0M266 614.5h0M266 540h0M266 594.5h0M266 549.5h0M266 606.5h0M266 561.5h0M266 566.5h0M266 579.5h0M266 551h0M266 725.5h0M266 781h0M266 553h0M267 536.5h0M267 589h0M267 847.5h0M267 613.5h0M267 662.5h0M267.5 606h0M267 553.5h0M267 657h0M267 668h0M267 607.5h0M267 581.5h0M267 625.5h0M267 750h0M267 761.5h0M267.5 663h0M267 547h0M267 557h0M267 575h0M267 763.5h0M267 586.5h0M267 534h0M267 594.5h0M267 608h0M267 583h0M267 687.5h0M267.5 589.5h0M267 897.5h0M267 610.5h0M267 609.5h0M267 597.5h0M268.5 643.5h0M268.5 615h0M268 536.5h0M268.5 591.5h0M268.5 576h0M268 649h0M268.5 706h0M268.5 631.5h0M268 621h0M268.5 590h0M268.5 597.5h0M268.5 696h0M268.5 623h0M268.5 630.5h0M268.5 797h0M268 595h0M268.5 562h0M268.5 566h0M268 670h0M268.5 536h0M268 587.5h0M268.5 660.5h0M268.5 552h0M268.5 771h0M269.5 665h0M269.5 648h0M269.5 638.5h0M269.5 572.5h0M269.5 647.5h0M269.5 668.5h0M269.5 700h0M269.5 657.5h0M269.5 586h0M269.5 685h0M269.5 705.5h0M269.5 569.5h0M269.5 705h0M269.5 744.5h0M269.5 569h0M269.5 613h0M269.5 646.5h0M269.5 693h0M269.5 691h0M269.5 649h0M269.5 680.5h0M269.5 731h0M269.5 718.5h0M269.5 824.5h0M269.5 599.5h0M269.5 675.5h0M269.5 637.5h0M269.5 615.5h0M269.5 751.5h0M269.5 642.5h0M271 724.5h0M270.5 640.5h0M271 737.5h0M270.5 630.5h0M270.5 654h0M271 793.5h0M270.5 773.5h0M271 684.5h0M270.5 733h0M270.5 711h0M270.5 811h0M270.5 694h0M271 659h0M270.5 698h0M270.5 923.5h0M271 583h0M270.5 568h0M270.5 609h0M270.5 712.5h0M271 576.5h0M270.5 677h0M270.5 680.5h0M271 591.5h0M270.5 658.5h0M271 723.5h0M271 610.5h0M271 719.5h0M270.5 700h0M270.5 724.5h0M272 846.5h0M272 721.5h0M272 690h0M272 703.5h0M272 749h0M271.5 776.5h0M272 748h0M272 738h0M271.5 707.5h0M272 686h0M272 746.5h0M272 819.5h0M272 661h0M272 739.5h0M272 741h0M272 749.5h0M272 745.5h0M272 628h0M272 766h0M272 676.5h0M272 575h0M272 763.5h0M273 657h0M273 728h0M273 672.5h0M273 838.5h0M273 704h0M273 725h0M273 708h0M273 636h0M273 794h0M273 922h0M273 723.5h0M273 643h0M273 669h0M273 695.5h0M273 690h0M273 708.5h0M273 660h0M273 852h0M273 745h0M273 673h0M273 703.5h0M274.5 712.5h0M274.5 693.5h0M274.5 733h0M274.5 746.5h0M274.5 676.5h0M274 701.5h0M274.5 627.5h0M274 912.5h0M274.5 696h0M274.5 595h0M274 839h0M274.5 692.5h0M274.5 694h0M274.5 618h0M274.5 728.5h0M274.5 672.5h0M274.5 645h0M274 727.5h0M274.5 708h0M274.5 635h0M274.5 764.5h0M274.5 724.5h0M274.5 694.5h0M274 533.5h0M275.5 824h0M275.5 699h0M275.5 700.5h0M275.5 775h0M275.5 836h0M275.5 780h0M275.5 737.5h0M275.5 661.5h0M275.5 792.5h0M275.5 718h0M275.5 710h0M275.5 713.5h0M277 808.5h0M277 688.5h0M276.5 773.5h0M276.5 765.5h0M276.5 733.5h0M276.5 816h0M277 664h0M277 650.5h0M277 798h0M277 859.5h0M276.5 744.5h0M278 605h0M278 777.5h0M277.5 754.5h0M278 834.5h0M277.5 793h0M278 802h0M278 775.5h0M278 822.5h0M278 802.5h0M278 849h0M278 702h0M277.5 733h0M278 725.5h0M278 816.5h0M279 836.5h0M279 763.5h0M279 827.5h0M279 830h0M279 762h0M279 730h0M279 751.5h0M279 725h0M279 945.5h0M279 708.5h0M279 799.5h0M279 801.5h0M279 788.5h0M280 741.5h0M280.5 802.5h0M280 783.5h0M280.5 902.5h0M280 763h0M280 726h0M280 854.5h0M280 939h0M280.5 752h0M280 804h0M280 769.5h0M281.5 786.5h0M281.5 840h0M281.5 844h0M281.5 730.5h0M281.5 720h0M281.5 828.5h0M281.5 804h0M281.5 793.5h0M281.5 778h0M281.5 939.5h0M281.5 778.5h0M281.5 803.5h0M285 901.5h0M285 730.5h0M285 925h0M285 844h0M285 879h0M285 877.5h0M285 730h0M285 723.5h0M285 813.5h0M285 922h0M285 901h0M285 817.5h0M285 867h0M285 945h0M285 952.5h0M285 808.5h0M285 947h0M285 942.5h0M285 860h0M285 879.5h0M285 839h0M285 899h0M285 871h0M285 837h0M285 765h0M285 808h0M286 827.5h0M286 790.5h0M286.5 936.5h0M286 908.5h0M286 788.5h0M286 767.5h0M286 813.5h0M286 873h0M286 881h0M286 933h0M286.5 876.5h0M286 929h0M286 889.5h0M286 770.5h0M286 963h0M286 839h0M286 676.5h0M286.5 867.5h0M286 924.5h0M286 944h0M286 901h0M286.5 937h0M286 904h0M286 928.5h0M286 923.5h0M286 810.5h0M286.5 851.5h0M286 833.5h0M286 890.5h0M286 930h0M286 795h0M298 959h0M298 839.5h0M298 910.5h0M298 912.5h0M298 964.5h0M298 925.5h0M298 898h0M298 970h0M298 896.5h0M298 935h0M298 942h0M298 863.5h0M298 897h0M298 839h0M298 910h0M298 917h0M298 933h0M298 875.5h0M298 938.5h0M298 800.5h0M298 684h0M298.5 930.5h0M299 924h0M299.5 735.5h0M299.5 934h0M299 886.5h0M299.5 927h0M299 836.5h0M299 883h0M299 868h0M299 857h0M299 905.5h0M299 969h0M299 917h0M299 891h0M299 945.5h0M299 851h0M299 956h0M299 970h0M299 912.5h0M299 915h0M299 926.5h0M299.5 921.5h0M301.5 964h0M301.5 906h0M301.5 886h0M301.5 902.5h0M301.5 969.5h0M301.5 895.5h0M303 946h0M302.5 956h0M303 907h0M302.5 942.5h0M302.5 867.5h0M303 886.5h0M303 925.5h0M302.5 828.5h0M304 962h0M304 850h0M304 936h0M304 951h0M304 905h0M305 934h0M305 904h0M305 904.5h0M305 883h0M305 966h0M305.5 947.5h0M306 938.5h0M306.5 968h0M306.5 869.5h0M306.5 895.5h0M306 917.5h0M306.5 894.5h0M306.5 898h0M306.5 849.5h0M306.5 967.5h0M306.5 917.5h0M306.5 912.5h0M306.5 831h0M306.5 827.5h0M306.5 884h0M306.5 895h0M306.5 888h0M307.5 930h0M307.5 936.5h0M307.5 943h0M307.5 929h0M307.5 927h0M307.5 905.5h0M307.5 863h0M307.5 855h0M307.5 900.5h0M307.5 893.5h0M307.5 768.5h0M307.5 957h0M307.5 907.5h0M307.5 836.5h0M309 844h0M309 944.5h0M309 882h0M309 909.5h0M308.5 802.5h0M308.5 843.5h0M309 967h0M309 938.5h0M309 868.5h0M308.5 927h0M309 813.5h0M309 958.5h0M309 905.5h0M308.5 931.5h0M310 928.5h0M310 857.5h0M310 917h0M310 942.5h0M310 926.5h0M310 953h0M310 955h0M310 957.5h0M310 918.5h0M310 966.5h0M310 924.5h0M311 961.5h0M311 950h0M311 953.5h0M311 913.5h0M311 933h0M311 917h0M311 948h0M311 817.5h0M311 943.5h0M312 934.5h0M312.5 900.5h0M312 862.5h0M312.5 936.5h0M312.5 964.5h0M312 949.5h0M312 926h0M312.5 730.5h0M312.5 925.5h0M312.5 929.5h0M312.5 962h0M312 935h0M312.5 956h0M312.5 963h0M312 842h0M312 905h0M313.5 888h0M313.5 922h0M313.5 959.5h0M313.5 851.5h0M313.5 880h0M313.5 852.5h0M313.5 954h0M313.5 963.5h0M313.5 968h0M313.5 957h0M313.5 967.5h0M314.5 963h0M314.5 949.5h0M314.5 877h0M314.5 880h0M314.5 911.5h0M315 906h0M314.5 830h0M314.5 935.5h0M314.5 939.5h0M314.5 869.5h0M314.5 917h0M314.5 869h0M314.5 932.5h0M315 876h0M316 697h0M316 930h0M316 893.5h0M317 970h0M317 906h0M317 928.5h0M318 890h0M318 950.5h0M319.5 968.5h0M319.5 949.5h0M319.5 783.5h0M321 867h0M322 800h0M324 932h0M324 937h0M324.5 915h0M325.5 952h0M325.5 890.5h0M325.5 969.5h0M326.5 929.5h0M326.5 816.5h0M331.5 905h0M331 928h0M331.5 953h0M331 943.5h0M331.5 919.5h0M331.5 907h0M331.5 918h0M331.5 930.5h0M331.5 969h0M331.5 954.5h0M331 896h0M331.5 887.5h0M332.5 914.5h0M332.5 937h0M332.5 939.5h0M332.5 938h0M332.5 954.5h0M332.5 902h0M332.5 953.5h0M332.5 894h0M332.5 934h0M332.5 803.5h0M332.5 925.5h0M333.5 956h0M333.5 944.5h0M333.5 922h0M333.5 850.5h0M334 831.5h0M333.5 842.5h0M333.5 947.5h0M333.5 959.5h0M334 955.5h0M334 931.5h0M333.5 748.5h0M333.5 889.5h0M333.5 967.5h0M335 919.5h0M335 910h0M335 918h0M335 936.5h0M335 917h0M335 909h0M335 921.5h0M335 849.5h0M334.5 920.5h0M335 949h0M335 903h0M336 968h0M336 964.5h0M336 830h0M336 932.5h0M336 969.5h0M336 926h0M336 933h0M336 963.5h0M336 877.5h0M337 930h0M337.5 934h0M337.5 894.5h0M337.5 953.5h0M337 904.5h0M337.5 879h0M337.5 938.5h0M337.5 952h0M337.5 950h0M337.5 968.5h0M337 970h0M337 891h0M338.5 959h0M338.5 890.5h0M338.5 899.5h0M338.5 944.5h0M338.5 912.5h0M338.5 873h0M338.5 910h0M338.5 962.5h0M338.5 898.5h0M338.5 875.5h0M338.5 887h0M338.5 910.5h0M338.5 892.5h0M338.5 956.5h0M338.5 896h0M338.5 935h0M338.5 968h0M338.5 913h0M339.5 924.5h0M339.5 858h0M339.5 915.5h0M339.5 946.5h0M339.5 935h0M341 933h0M340.5 910h0M341 904.5h0M341 868h0M340.5 920.5h0M341 875h0M341 908h0M340.5 936.5h0M340.5 942h0M341 927h0M341 954h0M341 897.5h0M340.5 944.5h0M340.5 898h0M341 962h0M341 885.5h0M340.5 934.5h0M340.5 782h0M342 970h0M342 964.5h0M342 883.5h0M342 949h0M342 955h0M342 865h0M342 969.5h0M342 909.5h0M342 930.5h0M342 933h0M342 967h0M342 903h0M343.5 943h0M343 909.5h0M343 960.5h0M343.5 946h0M343.5 943.5h0M343.5 946.5h0M343 866h0M343 946.5h0M343 905.5h0M343.5 890.5h0M344 952h0M344 882h0M344.5 936h0M344.5 919h0M344.5 965.5h0M344.5 952h0M344.5 942h0M344.5 801.5h0M344 960h0M346 939.5h0M345.5 945h0M345.5 901.5h0M345.5 943.5h0M345.5 955.5h0M345.5 884h0M345.5 962h0M345.5 939h0M345.5 910h0M345.5 959h0M347 907.5h0M347 969h0M347 946h0M346.5 945h0M346.5 959.5h0M347 958.5h0M347 779h0M346.5 947h0M347 882h0M348 915.5h0M348 957h0M348 945h0M348 893h0M348 920h0M348 891h0M348 923h0M348 939h0M348 952.5h0M348 905h0M348 942h0M348 970.5h0M348 947.5h0M349 952h0M349 953.5h0M349 847h0M349 932.5h0M349 925h0M349 934h0M349 963h0M349.5 915.5h0M349.5 955h0M349 928.5h0M349 924.5h0M349.5 951.5h0M349 949.5h0M349 931.5h0M350 943.5h0M350 940.5h0M350.5 945h0M350.5 910.5h0M350 856h0M350.5 925.5h0M350 929h0M350 911h0M350 944h0M350.5 957h0M350.5 923.5h0M351.5 970h0M351.5 959h0M351.5 953h0M351.5 886.5h0M351.5 947h0M351.5 918h0M352.5 943h0M352.5 893h0M352.5 968h0M352.5 966.5h0M353 945.5h0M353 819h0M352.5 943.5h0M353 909.5h0M352.5 917.5h0M352.5 935h0M352.5 949.5h0M352.5 892.5h0M352.5 940h0M353 963.5h0M352.5 967.5h0M354 924h0M354 872h0M354 958h0M354 903h0M354 915h0M354 965h0M354 936h0M354 920.5h0M354 946h0M354 942.5h0M353.5 933h0M355 924h0M355 897h0M355 939.5h0M355 922.5h0M355 919h0M355 959h0M355 953.5h0M355 949.5h0M355 942.5h0M355 932h0M355 950.5h0M356 958h0M356 938.5h0M356 892h0M356 904h0M356.5 933.5h0M356 941h0M356 950.5h0M356.5 954.5h0M356.5 876h0M356.5 944.5h0M356.5 898h0M356 876.5h0M356.5 886.5h0M356 970h0M359 946.5h0M358.5 915.5h0M358.5 917.5h0M358.5 903.5h0M360 953.5h0M360 927h0M359.5 915.5h0M360 908h0M361 839h0M361 916h0M362.5 925.5h0M362 777.5h0M362 907.5h0M362 894.5h0M363.5 942h0M363.5 877h0M363.5 853h0M363.5 926.5h0M363.5 924h0M363.5 927h0M364.5 923h0M364.5 953h0M364.5 952.5h0M364.5 966h0M364.5 959h0M364.5 959.5h0M364.5 899h0M366 857h0M366 952.5h0M365.5 880.5h0M365.5 932.5h0M366 926.5h0M367 910h0M367 948.5h0M367 937h0M368 964h0M368 856h0M368 944.5h0M369 930h0M369.5 927h0M369.5 945h0M369 964h0M369.5 833.5h0M369.5 954.5h0M369 962.5h0M370.5 908.5h0M370.5 939.5h0M370.5 895h0M370.5 950h0M370.5 910.5h0M372 938.5h0M371.5 942.5h0M371.5 927.5h0M371.5 949h0M372 882h0M372.5 931.5h0M373 949h0M373 965.5h0M373 964.5h0M373 886.5h0M374 935h0M374 923h0M374 896h0M374 916.5h0M374 920h0M374 952h0M375 960.5h0M375 936h0M375 866.5h0M375 958h0M375.5 945.5h0M376.5 934h0M376.5 958h0M376.5 896.5h0M377.5 931.5h0M378 908h0M377.5 937h0M377.5 902h0M377.5 938h0M377.5 963.5h0M379 940h0M378.5 929h0M379 966.5h0M378.5 959h0M379 957h0M378.5 929.5h0M379 918h0M378.5 932.5h0M379 959.5h0M380 945.5h0M380 957h0M380 892.5h0M380 939h0M380 878.5h0M380 937h0M380 950h0M381.5 913.5h0M381 943h0M381 963.5h0M381 917.5h0M381.5 916.5h0M381.5 877.5h0M381.5 921h0M381 959h0M381.5 912.5h0M381.5 934h0M381 941h0M381 942h0M381.5 963.5h0M382.5 953h0M382.5 960h0M382.5 960.5h0M382.5 946.5h0M382.5 883.5h0M382.5 923h0M382.5 914.5h0M382.5 937.5h0M382.5 938h0M382.5 903h0M382 893h0M383.5 942h0M383.5 917h0M383.5 874.5h0M383.5 962.5h0M383.5 898.5h0M383.5 907h0M383.5 952.5h0M383.5 962h0M383.5 920h0M385 947.5h0M385 906.5h0M385 945.5h0M385 933.5h0M385 954.5h0M384.5 967h0M385 960h0M385 958.5h0M384.5 960.5h0M386 943h0M386 957.5h0M386 914.5h0M386 930.5h0M386 900.5h0M386 918.5h0M387.5 968.5h0M387 938.5h0M387 940h0M387 886h0M387 931h0M387 964.5h0M387 942.5h0M387 919h0M388.5 938h0M388 963h0M388.5 968h0M388 939.5h0M388.5 924.5h0M388.5 939h0M388 958.5h0M388.5 891.5h0M388 965h0M388 964.5h0M388.5 963h0M388.5 937.5h0M388 888h0M389.5 938h0M389.5 970h0M389.5 949.5h0M389.5 970.5h0M389.5 951h0M389.5 959h0M389.5 952.5h0M390 952h0M390 946h0M389.5 946.5h0M391 949h0M390.5 942.5h0M390.5 945h0M391 923.5h0M390.5 910.5h0M391 947h0M390.5 965.5h0M392 795h0M392 943.5h0M392 949.5h0M392 950.5h0M392 951.5h0M392 969h0M392 961.5h0M392 956.5h0M392 935.5h0M392 952h0M392 923.5h0M393 852.5h0M394.5 950h0M394.5 970h0M395.5 964.5h0M395.5 912.5h0M397 949.5h0M396.5 926h0M398 954h0M399 968h0M399 896h0M400.5 908h0M401.5 925.5h0M401.5 896h0M402.5 949h0M402.5 935h0M403.5 931h0M403.5 943h0M404 866h0M405 913h0M405 968.5h0M405 909h0M406.5 937.5h0M406 967.5h0M406 969h0M407.5 947.5h0M407 910.5h0M408.5 916h0M409.5 947.5h0M409.5 902.5h0M411 920h0M411 940h0M412 953h0M413.5 932h0M413 932h0M414.5 967h0M414.5 939h0M414.5 929h0M414.5 956.5h0M414.5 918h0M416.5 926.5h0M417 867.5h0M417 935h0M418 903h0M418 968h0M418 947.5h0M418 930.5h0M418 921.5h0M418 963h0M418 950.5h0M419.5 958.5h0M419 909h0M419 968.5h0M420 952h0M420.5 916h0M420.5 917h0M420.5 926.5h0M421.5 942.5h0M421.5 948.5h0M421.5 948h0M421.5 936h0M421.5 960.5h0M423 919.5h0M423 921h0M423 926h0M423 955h0M423 935h0M422.5 912h0M422.5 958.5h0M424 918h0M424 913h0M424 908.5h0M424 886h0M425 970h0M425 918.5h0M425 951.5h0M425 959.5h0M425 967.5h0M425.5 969.5h0M426.5 935.5h0M426.5 922h0M426.5 937.5h0M426.5 963.5h0M426 962.5h0M427.5 936h0M427.5 913h0M427.5 950.5h0M427.5 927h0M428.5 932.5h0M428.5 953.5h0M429 944.5h0M428.5 881.5h0M429 960h0M430 936.5h0M430 939h0M431.5 935.5h0M431 969h0M431 956h0M431 930.5h0M431 953.5h0M432.5 855h0M432 927h0M432.5 969h0M432 951.5h0M433.5 948h0M433.5 956h0M433.5 958.5h0M433.5 952h0M433.5 939h0M435 941.5h0M434.5 916.5h0M435 950h0M435 954.5h0M434.5 942h0M434.5 876h0M436 929.5h0M435.5 953.5h0M436 934h0M437 935h0M437 928.5h0M437 954.5h0M437 951.5h0M437 913.5h0M437 969h0M438 899h0M438 944h0M438 924.5h0M438.5 951.5h0M438.5 943h0M438 937.5h0M440.5 937.5h0M440.5 970.5h0M441.5 910.5h0M442 968h0M442 910.5h0M443 953.5h0M443 966.5h0M444 932.5h0M444.5 952.5h0M445.5 850h0M142.5 882.5h0M228 544h0M196 736h0M196 743.5h0M220 682.5h0M397 627h0M423.5 608.5h0M428 706.5h0M188.5 826.5h0M224 660h0" stroke="#86ab47"/>
</g>
<polyline clip-path="url(#kBL)" points="185.1,969.9 185.5,969.8 185.9,969.8 186.3,969.8 186.7,969.7 187.1,969.7 187.5,969.7 187.9,969.7 188.3,969.6 188.6,969.6 189.0,969.6 189.4,969.5 189.8,969.5 190.2,969.5 190.6,969.4 191.0,969.4 191.4,969.4 191.8,969.3 192.2,969.3 192.6,969.3 193.0,969.2 193.4,969.2 193.8,969.1 194.2,969.1 194.6,969.0 195.0,969.0 195.4,968.9 195.8,968.9 196.2,968.8 196.6,968.8 197.0,968.7 197.4,968.7 197.8,968.6 198.2,968.6 198.6,968.5 199.0,968.4 199.4,968.4 199.8,968.3 200.2,968.2 200.6,968.2 201.0,968.1 201.4,968.0 201.8,967.9 202.2,967.9 202.5,967.8 202.9,967.7 203.3,967.6 203.7,967.5 204.1,967.4 204.5,967.3 204.9,967.2 205.3,967.1 205.7,966.9 206.1,966.8 206.5,966.7 206.9,966.5 207.3,966.4 207.7,966.2 208.1,966.0 208.5,965.9 208.9,965.7 209.3,965.5 209.7,965.3 210.1,965.2 210.5,965.0 210.9,964.8 211.3,964.5 211.7,964.3 212.1,964.1 212.5,963.9 212.9,963.6 213.3,963.4 213.7,963.1 214.1,962.9 214.5,962.6 214.9,962.4 215.3,962.1 215.7,961.8 216.1,961.5 216.5,961.2 216.8,960.9 217.2,960.6 217.6,960.3 218.0,960.0 218.4,959.6 218.8,959.3 219.2,959.0 219.6,958.6 220.0,958.2 220.4,957.7 220.8,957.2 221.2,956.7 221.6,956.1 222.0,955.5 222.4,954.9 222.8,954.2 223.2,953.5 223.6,952.8 224.0,952.1 224.4,951.3 224.8,950.4 225.2,949.6 225.6,948.7 226.0,947.8 226.4,946.8 226.8,945.9 227.2,944.9 227.6,943.8 228.0,942.8 228.4,941.7 228.8,940.6 229.2,939.5 229.6,938.3 230.0,937.2 230.4,936.0 230.7,934.7 231.1,933.5 231.5,932.2 231.9,930.9 232.3,929.6 232.7,928.3 233.1,927.0 233.5,925.6 233.9,924.2 234.3,922.6 234.7,921.0 235.1,919.2 235.5,917.4 235.9,915.5 236.3,913.4 236.7,911.3 237.1,909.1 237.5,906.8 237.9,904.4 238.3,902.0 238.7,899.4 239.1,896.9 239.5,894.2 239.9,891.5 240.3,888.7 240.7,885.8 241.1,882.9 241.5,880.0 241.9,877.0 242.3,873.9 242.7,870.8 243.1,867.7 243.5,864.5 243.9,861.2 244.3,857.7 244.7,853.9 245.0,850.1 245.4,846.1 245.8,841.9 246.2,837.6 246.6,833.2 247.0,828.7 247.4,824.1 247.8,819.4 248.2,814.7 248.6,809.9 249.0,805.1 249.4,800.2 249.8,795.3 250.2,790.4 250.6,785.5 251.0,780.4 251.4,775.1 251.8,769.7 252.2,764.2 252.6,758.7 253.0,753.0 253.4,747.3 253.8,741.5 254.2,735.7 254.6,730.0 255.0,724.2 255.4,718.5 255.8,712.8 256.2,707.2 256.6,701.5 257.0,695.7 257.4,689.9 257.8,683.7 258.2,678.0 258.6,672.7 259.0,667.4 259.3,662.3 259.7,657.5 260.1,653.1 260.5,649.4 260.9,646.3 261.3,643.5 261.7,641.0 262.1,638.9 262.5,637.1 262.9,635.8 263.3,634.6 263.7,633.7 264.1,633.0 264.5,633.4 264.9,634.2 265.3,635.3 265.7,636.5 266.1,638.1 266.5,640.1 266.9,642.5 267.3,645.2 267.7,648.1 268.1,651.5 268.5,655.6 268.9,660.3 269.3,665.3 269.7,670.5 270.1,675.9 270.5,681.4 270.9,687.4 271.3,693.4 271.7,699.2 272.1,704.9 272.5,710.5 272.9,716.2 273.2,721.9 273.6,727.7 274.0,733.4 274.4,739.2 274.8,745.0 275.2,750.7 275.6,756.4 276.0,762.0 276.4,767.5 276.8,773.0 277.2,778.3 277.6,783.4 278.0,788.4 278.4,793.3 278.8,798.2 279.2,803.1 279.6,808.0 280.0,812.8 280.4,817.5 280.8,822.3 281.2,826.9 281.6,831.4 282.0,835.9 282.4,840.2 282.8,844.4 283.2,848.5 283.6,852.4 284.0,856.2 284.4,859.8 284.8,863.2 285.2,866.5 285.6,869.6 286.0,872.7 286.4,875.8 286.8,878.8 287.2,881.7 287.5,884.7 287.9,887.5 288.3,890.3 288.7,893.1 289.1,895.8 289.5,898.4 289.9,901.0 290.3,903.4 290.7,905.9 291.1,908.2 291.5,910.4 291.9,912.6 292.3,914.7 292.7,916.6 293.1,918.5 293.5,920.3 293.9,922.0 294.3,923.6 294.7,925.0 295.1,926.4 295.5,927.8 295.9,929.1 296.3,930.4 296.7,931.7 297.1,933.0 297.5,934.2 297.9,935.5 298.3,936.7 298.7,937.9 299.1,939.0 299.5,940.2 299.9,941.3 300.3,942.4 300.7,943.4 301.1,944.5 301.4,945.5 301.8,946.5 302.2,947.4 302.6,948.3 303.0,949.2 303.4,950.1 303.8,950.9 304.2,951.7 304.6,952.5 305.0,953.3 305.4,954.0 305.8,954.6 306.2,955.3 306.6,955.9 307.0,956.5 307.4,957.0 307.8,957.5 308.2,958.0 308.6,958.4 309.0,958.8 309.4,959.2 309.8,959.5 310.2,959.8 310.6,960.2 311.0,960.5 311.4,960.8 311.8,961.1 312.2,961.4 312.6,961.7 313.0,962.0 313.4,962.3 313.8,962.5 314.2,962.8 314.6,963.0 315.0,963.3 315.4,963.5 315.7,963.8 316.1,964.0 316.5,964.2 316.9,964.5 317.3,964.7 317.7,964.9 318.1,965.1 318.5,965.3 318.9,965.5 319.3,965.6 319.7,965.8 320.1,966.0 320.5,966.1 320.9,966.3 321.3,966.5 321.7,966.6 322.1,966.7 322.5,966.9 322.9,967.0 323.3,967.1 323.7,967.2 324.1,967.3 324.5,967.5 324.9,967.6 325.3,967.6 325.7,967.7 326.1,967.8 326.5,967.9 326.9,968.0 327.3,968.1 327.7,968.1 328.1,968.2 328.5,968.3 328.9,968.3 329.3,968.4 329.7,968.5 330.0,968.5 330.4,968.6 330.8,968.6 331.2,968.7 331.6,968.8 332.0,968.8 332.4,968.9 332.8,968.9 333.2,969.0 333.6,969.0 334.0,969.1 334.4,969.1 334.8,969.2 335.2,969.2 335.6,969.2 336.0,969.3 336.4,969.3 336.8,969.4 337.2,969.4 337.6,969.4 338.0,969.5 338.4,969.5 338.8,969.5 339.2,969.6 339.6,969.6 340.0,969.6 340.4,969.7 340.8,969.7 341.2,969.7 341.6,969.7 342.0,969.8 342.4,969.8 342.8,969.8 343.2,969.8 343.6,969.9" fill="none" stroke="#000" stroke-width="2.9" stroke-dasharray="4.6 2.6"/>
<g fill="none" stroke-width="4.6" stroke-linecap="round">
<path d="M162.5 942.5h0M162 953h0M162 949.5h0M162 945h0M162.5 910.5h0M162 951.5h0M162.5 920h0M163.5 942.5h0M163.5 969.5h0M163.5 970h0M169.5 959.5h0M169.5 961h0M169.5 948h0M169.5 920h0M169.5 866.5h0M169.5 919h0M169.5 942.5h0M169.5 966.5h0M169.5 942h0M169.5 943.5h0M169.5 958h0M170.5 962h0M170.5 937.5h0M170.5 943.5h0M170.5 924.5h0M171 948h0M170.5 955.5h0M170.5 912h0M171 932.5h0M170.5 956h0M171.5 909h0M172 960.5h0M171.5 953h0M171.5 949.5h0M172 957h0M171.5 913h0M172 959h0M171.5 969h0M172 959.5h0M171.5 944.5h0M172 945h0M174 954h0M174 929.5h0M174 926h0M174 957h0M175.5 914.5h0M175 948.5h0M178.5 925.5h0M179 947h0M179 929h0M178.5 887h0M179 926.5h0M179 920h0M179 946h0M180 968h0M180 955.5h0M180 944.5h0M180 891h0M180 953h0M180 928h0M186 961.5h0M186 933h0M186 940h0M186 941.5h0M186 922h0M186 944h0M186 894h0M187.5 913.5h0M187 934.5h0M187 923h0M187 932.5h0M187 953h0M187.5 945.5h0M187 958.5h0M191 867.5h0M191 906.5h0M190.5 955h0M190.5 922.5h0M191 821h0M191 953h0M191 933.5h0M190.5 905.5h0M192 880h0M192 872.5h0M192 951h0M192 957.5h0M192 892h0M192 917h0M192 948.5h0M192 904h0M192 945.5h0M192 952.5h0M192 871h0M192 962.5h0M192 901.5h0M192 947h0M192 961.5h0M192 890h0M194.5 905.5h0M194.5 924h0M194.5 940.5h0M194.5 961h0M194.5 942.5h0M194 958h0M202.5 948h0M202.5 917.5h0M202.5 949h0M202.5 943h0M202.5 905.5h0M203 919h0M202.5 920.5h0M203 952h0M202.5 927h0M202.5 939h0M203 956.5h0M202.5 946.5h0M202.5 950.5h0M202.5 860h0M202.5 894.5h0M202.5 935h0M203 899h0M202.5 855.5h0M202.5 933.5h0M205 898h0M205 915h0M205 874.5h0M205 899h0M205 964.5h0M205 867h0M205 941.5h0M205 943h0M205 793.5h0M205 827h0M205 947.5h0M205 906h0M205 969.5h0M205 957.5h0M205 954h0M205 918.5h0M205 940h0M205 960h0M205 898.5h0M205 905.5h0M206 947h0M206 870.5h0M206 948h0M206 968h0M206 940.5h0M206.5 957h0M206.5 953h0M206 922.5h0M206 934h0M206.5 936.5h0M206 916h0M206 952.5h0M206.5 935.5h0M206 918.5h0M206 962h0M215.5 910.5h0M215.5 903.5h0M215.5 774.5h0M216 939h0M215.5 960h0M216 888h0M215.5 886.5h0M216 867.5h0M217 960h0M216.5 879h0M217 910.5h0M217 961.5h0M217 928.5h0M217 900.5h0M217 943h0M217 964h0M219 939.5h0M219.5 914h0M219 931h0M219 859.5h0M219 934h0M219 970h0M219.5 963h0M219 932h0M219 866.5h0M219.5 884.5h0M219.5 934h0M220.5 943.5h0M220.5 851.5h0M220.5 958.5h0M220.5 827.5h0M220.5 905.5h0M220.5 965h0M220.5 920.5h0M220.5 951.5h0M220.5 952.5h0M220.5 896h0M220.5 939.5h0M220.5 945.5h0M220.5 955.5h0M228 943h0M231 894.5h0M231 908.5h0M231 765h0M231 938h0M231 956h0M231 919h0M231 850.5h0M231 950.5h0M231 935h0M231 873h0M231 925h0M231 826h0M231 941h0M231 898h0M232 768h0M232.5 889h0M232.5 967.5h0M232.5 955h0M232 868h0M232.5 831.5h0M232.5 865.5h0M232 928.5h0M232.5 917h0M232 873.5h0M232.5 872h0M232.5 844h0M234.5 883h0M234.5 945h0M234.5 965.5h0M235 909.5h0M235 921h0M234.5 936.5h0M234.5 858.5h0M234.5 882.5h0M234.5 907h0M235 828.5h0M234.5 948h0M234.5 859.5h0M235 867h0M234.5 943.5h0M234.5 928.5h0M234.5 843h0M235 815h0M234.5 967.5h0M235 928h0M234.5 939.5h0M234.5 884.5h0M235 919.5h0M236 854h0M236 950.5h0M236 925.5h0M236 954h0M236 944.5h0M236 948h0M236 958h0M236 895h0M236 809h0M236 953.5h0M236 871.5h0M236 937h0M236 961.5h0M236 935h0M235.5 870.5h0M236 934h0M236 877h0M236 947.5h0M236 868.5h0M236 821h0M236 902.5h0M236 900h0M236 762h0M236 963h0M237 859.5h0M237 831.5h0M237 795h0M237 965h0M237 855h0M237 958h0M237 844.5h0M237 875h0M237 944h0M237 959h0M237 861h0M237.5 959h0M237 885.5h0M237 946.5h0M237 835.5h0M237 875.5h0M237 877h0M237 892.5h0M237 966h0M237 885h0M237 939h0M237 933h0M237 857h0M238 901h0M238.5 900.5h0M238.5 899h0M238.5 921h0M238.5 877h0M238.5 817.5h0M238.5 946.5h0M238.5 943h0M238.5 966.5h0M238.5 827.5h0M238 819.5h0M238 864.5h0M238 956.5h0M238.5 837.5h0M238.5 876.5h0M238.5 804.5h0M238 874.5h0M238 944h0M238.5 903h0M239.5 904.5h0M239.5 933.5h0M239.5 866.5h0M239.5 875.5h0M239.5 963.5h0M239.5 903.5h0M239.5 877h0M239.5 924.5h0M239.5 883.5h0M239.5 912h0M239.5 784.5h0M239.5 841h0M239.5 964.5h0M239.5 867h0M239.5 726.5h0M239.5 774h0M239.5 829.5h0M239.5 953.5h0M239.5 925h0M242 813h0M242 854h0M241.5 925.5h0M242 945.5h0M242 895h0M242 841.5h0M242 929h0M242 794.5h0M241.5 926h0M241.5 834.5h0M241.5 841.5h0M242 932h0M242 957h0M242 814h0M241.5 957.5h0M242 851.5h0M242 749.5h0M242 881.5h0M242 955.5h0M242 888.5h0M242 874h0M242 913.5h0M242 790h0M242 910h0M241.5 855.5h0M242 931h0M242 915.5h0M242 868.5h0M244 852.5h0M244 917h0M244 941.5h0M244.5 921.5h0M244.5 904.5h0M244 751h0M244.5 927.5h0M244 881h0M244 923h0M244 866.5h0M244.5 770h0M244.5 840h0M244.5 817.5h0M244 790.5h0M244 915.5h0M244 830.5h0M244.5 769h0M244.5 959.5h0M244.5 913.5h0M244.5 819h0M244.5 930h0M244.5 901h0M244.5 904h0M244.5 955.5h0M244.5 780.5h0M244.5 856h0M244.5 834.5h0M244 767.5h0M244.5 888.5h0M245.5 790.5h0M245.5 954h0M245.5 927h0M245.5 906.5h0M245.5 677.5h0M245.5 882h0M245.5 897.5h0M245.5 868.5h0M245.5 857.5h0M245.5 825.5h0M245.5 872h0M245.5 970h0M245.5 823.5h0M245.5 792h0M245.5 829.5h0M245.5 863h0M245.5 932h0M245.5 811h0M245.5 873h0M245.5 810.5h0M245.5 969h0M245.5 878h0M245.5 771h0M245.5 827.5h0M245.5 837h0M245.5 799.5h0M245.5 791.5h0M246.5 901h0M247 784.5h0M246.5 870.5h0M246.5 691h0M246.5 964.5h0M247 905.5h0M246.5 924h0M246.5 937.5h0M246.5 917h0M246.5 809.5h0M246.5 739h0M247 855h0M246.5 830h0M246.5 871h0M246.5 928.5h0M246.5 969.5h0M246.5 730.5h0M246.5 705.5h0M246.5 954h0M246.5 843h0M246.5 891h0M246.5 959.5h0M246.5 849h0M246.5 816.5h0M247 845h0M247 690.5h0M246.5 882.5h0M246.5 908h0M246.5 879.5h0M249 656h0M249 774.5h0M249 747h0M249 693.5h0M249 801.5h0M249 914h0M249 815h0M249 906h0M249 888.5h0M249 797h0M249 772.5h0M249 870h0M249 768.5h0M249 882h0M251.5 854.5h0M251.5 825.5h0M251.5 905.5h0M251.5 907h0M251.5 843.5h0M251.5 811.5h0M251.5 965h0M251 614h0M251.5 839.5h0M251.5 808.5h0M251.5 736h0M251.5 778h0M251.5 916.5h0M251.5 755h0M251.5 613.5h0M251.5 860h0M251.5 715.5h0M251.5 830h0M251.5 783.5h0M251.5 648.5h0M251.5 831.5h0M251.5 814h0M251.5 870h0M251.5 707h0M251.5 764h0M251.5 810h0M251.5 850h0M251.5 619h0M251.5 751.5h0M251.5 838.5h0M251.5 806h0M251.5 709h0M251.5 702h0M252.5 761.5h0M252.5 773.5h0M252.5 780.5h0M252.5 858.5h0M252.5 759h0M252.5 815h0M252.5 776.5h0M252.5 835.5h0M252.5 812h0M252.5 968h0M252.5 773h0M252.5 752.5h0M252.5 782h0M252.5 936h0M252.5 760.5h0M252.5 769h0M252.5 853.5h0M252.5 899.5h0M252.5 845.5h0M252.5 623h0M252.5 789.5h0M252.5 870.5h0M252.5 953.5h0M252.5 797h0M252.5 666.5h0M256 585.5h0M256 641h0M256 672.5h0M256 764.5h0M256 592.5h0M256 824.5h0M256 816.5h0M256.5 765h0M256 812h0M256 757h0M256 839h0M256 645.5h0M256 685.5h0M256 955.5h0M256 664h0M256.5 644h0M256 734.5h0M256.5 773h0M256 780h0M256 781h0M256 723.5h0M256 696h0M256.5 804h0M256 768h0M256.5 744h0M256 752.5h0M256 637h0M256 899h0M256 717h0M256 879h0M256 727h0M256.5 663h0M256.5 796.5h0M257 702.5h0M257.5 707h0M257.5 659.5h0M257.5 732.5h0M257 783.5h0M257.5 865.5h0M257.5 731.5h0M257.5 710h0M257.5 787h0M257.5 734.5h0M257.5 695h0M257.5 821.5h0M257 864.5h0M257.5 690.5h0M257.5 779h0M257.5 767.5h0M257.5 753.5h0M257 763.5h0M257.5 812h0M257.5 858h0M257.5 760h0M257.5 764.5h0M257 748.5h0M257.5 612h0M257 712.5h0M257.5 829h0M257.5 901h0M257.5 721.5h0M257 859h0M257.5 600.5h0M260.5 774h0M261 812h0M261 709h0M261 575h0M261 673.5h0M261 555h0M261 696h0M260.5 660h0M261 724.5h0M261 896.5h0M261 775h0M260.5 643.5h0M261 642.5h0M261 701h0M260.5 669.5h0M261 729h0M261 774h0M261 677.5h0M261 679.5h0M261 698.5h0M260.5 739.5h0M261 731.5h0M261 715.5h0M261 746h0M260.5 691.5h0M261 611h0M261 629h0M261 684h0M261 668h0M261 812.5h0M261 890.5h0M261 904h0M261 534.5h0M261 756h0M260.5 560.5h0M261 763.5h0M262 832h0M262 882h0M262 652h0M262 724.5h0M262 768.5h0M262 648.5h0M262 686h0M262 936.5h0M262 564h0M262 821.5h0M262 781h0M262 726.5h0M262 633h0M262 674.5h0M262 811.5h0M262 741.5h0M262 695h0M262 601.5h0M262 945h0M262 653.5h0M262 600.5h0M262 556.5h0M262 777h0M262 735h0M262 751h0M262 555.5h0M262 598.5h0M262 568.5h0M262 726h0M262 754.5h0M262 616h0M262 770.5h0M263 742h0M263 749h0M263 757.5h0M263 822.5h0M263 815h0M263 817.5h0M263 745.5h0M263 540h0M263.5 661.5h0M263 658.5h0M263.5 910h0M263 549h0M263 663h0M263.5 543h0M263 847h0M263 802.5h0M263.5 749h0M263 599h0M263 892h0M263 716.5h0M263 752h0M263 717.5h0M263 669h0M263.5 697.5h0M263 647.5h0M263.5 660h0M263 751h0M263.5 794.5h0M263.5 691h0M263 834.5h0M263 615.5h0M263 682.5h0M263 746.5h0M263 619.5h0M263.5 658.5h0M263 553.5h0M263 767.5h0M264.5 598h0M264.5 834h0M264.5 789.5h0M264.5 637.5h0M264.5 658.5h0M264.5 750.5h0M264.5 721.5h0M264.5 724.5h0M264.5 551h0M264.5 764h0M264.5 740h0M264.5 622.5h0M264.5 672h0M264.5 753.5h0M264.5 571.5h0M264.5 873.5h0M264.5 734h0M264.5 793.5h0M264.5 626h0M264.5 965.5h0M264.5 820h0M264.5 644h0M264.5 585h0M264.5 536h0M264.5 665h0M265.5 715h0M265.5 666h0M265.5 652.5h0M265.5 771.5h0M265.5 655.5h0M266 805h0M266 829.5h0M266 916h0M266 705.5h0M265.5 749.5h0M266 767.5h0M266 749h0M265.5 652h0M266 728h0M266 659h0M266 560.5h0M265.5 757.5h0M265.5 675.5h0M265.5 900h0M265.5 586.5h0M265.5 766.5h0M266 737.5h0M266 591.5h0M265.5 718h0M265.5 806h0M265.5 582.5h0M265.5 637h0M265.5 567.5h0M265.5 721h0M265.5 813h0M265.5 637.5h0M266 816.5h0M267 758.5h0M267 616.5h0M267 562h0M267 819h0M267 940.5h0M267 808.5h0M266.5 636.5h0M267 665h0M267 656.5h0M267 672h0M267 761h0M267 675.5h0M267 677.5h0M267 607.5h0M267 649.5h0M267 625.5h0M266.5 662h0M266.5 644h0M266.5 592.5h0M267 580.5h0M267 663.5h0M267 714h0M267 624.5h0M267 587h0M267 785h0M266.5 842h0M268 783h0M268 696.5h0M268 815.5h0M268 590.5h0M268 923h0M268 781.5h0M268 661.5h0M268 930h0M268 669h0M268 873h0M268 890h0M268 650.5h0M268 578.5h0M268 669.5h0M268 688h0M268 816.5h0M268 866h0M268 685.5h0M268 886.5h0M268 713h0M268 542h0M268 852.5h0M268 676h0M268 748.5h0M268 894.5h0M268 784.5h0M268 815h0M270.5 731.5h0M270.5 761h0M270.5 736.5h0M270.5 920h0M270.5 713h0M270.5 794h0M270.5 603.5h0M270.5 689h0M270.5 712h0M270.5 673.5h0M270.5 704.5h0M270.5 721h0M270.5 749.5h0M270.5 748h0M270.5 609.5h0M270.5 746.5h0M270.5 826.5h0M270.5 705.5h0M270.5 581h0M270.5 793h0M270.5 638h0M270.5 753h0M270 577h0M270.5 867.5h0M270.5 818h0M270.5 790.5h0M270.5 864.5h0M270.5 870h0M270.5 649.5h0M270.5 766h0M270.5 721.5h0M270.5 853h0M271.5 702h0M271.5 716.5h0M271.5 865h0M271.5 621.5h0M271.5 710h0M271.5 761h0M271.5 902h0M271.5 700.5h0M271.5 851.5h0M271.5 765.5h0M271.5 678h0M271.5 613.5h0M271.5 716h0M271.5 782h0M271.5 686h0M271.5 630h0M271.5 652.5h0M271.5 717h0M271.5 715.5h0M271.5 744h0M271.5 695.5h0M271.5 733.5h0M271.5 800.5h0M271.5 691h0M271.5 928.5h0M274 869h0M274 713h0M274 935h0M274 862.5h0M274 708.5h0M274 758h0M274 932h0M274 731h0M274 629h0M274 807h0M274 912.5h0M274 743.5h0M274 947h0M274 718h0M274 639h0M274 729h0M274 928h0M275 927.5h0M275 839h0M275 754.5h0M275 859.5h0M275 897.5h0M275 827.5h0M275 725h0M275.5 900h0M275 823.5h0M275 759.5h0M275 682.5h0M275 741h0M275 734h0M275 777h0M275 795h0M275 956.5h0M275 842.5h0M275 681h0M275 673.5h0M275 776h0M285.5 942h0M286 923h0M286 786h0M285.5 883h0M286 778.5h0M286 962h0M285.5 896.5h0M286 829h0M286 910.5h0M286 863h0M286 793h0M286 756h0M285.5 931h0M286 836h0M286 930.5h0M285.5 935h0M286 930h0M285.5 917.5h0M286 781.5h0M285.5 727.5h0M285.5 796h0M286 879.5h0M286 965h0M285.5 766h0M287 802.5h0M287 790.5h0M287 899.5h0M287 883.5h0M287 878.5h0M287 822.5h0M287 795h0M287 897h0M287 960.5h0M287 893.5h0M287 943h0M287 920h0M287 935.5h0M287 833.5h0M287 727h0M287 726.5h0M287 933h0M287 877.5h0M287 862.5h0M287 858h0M287 881.5h0M287 949.5h0M287 731h0M287 927h0M287 848.5h0M287 909.5h0M287 778h0M287 919h0M287 925h0M288.5 899.5h0M288 895h0M288 919h0M288.5 790h0M288 913h0M288.5 959h0M288.5 902h0M288 912.5h0M288 893h0M288.5 908h0M288 968.5h0M288.5 804h0M288.5 963.5h0M288 857.5h0M288 903h0M288 970h0M288.5 927h0M288.5 907h0M288.5 844.5h0M288 886.5h0M288.5 749.5h0M288 900.5h0M288.5 926h0M288 932.5h0M288 950.5h0M288 747.5h0M288 811.5h0M288 937h0M288.5 810h0M288 835h0M288.5 840.5h0M288.5 751h0M288.5 899h0M288.5 789.5h0M288 912h0M291.5 850.5h0M292 843.5h0M291.5 909h0M291.5 948.5h0M291.5 961h0M292 832.5h0M291.5 881h0M293 893h0M293 929h0M293 873.5h0M294 929.5h0M294.5 707.5h0M294 942.5h0M294 865h0M294 914.5h0M295.5 958.5h0M295 898h0M295.5 908h0M295 942.5h0M295 919.5h0M295 908h0M301 674h0M301.5 823.5h0M301.5 753.5h0M301 786h0M301 739.5h0M301 845.5h0M301.5 906h0M301 701.5h0M301 838h0M301 844h0M301 717h0M301.5 917.5h0M301 850h0M301 772.5h0M301 633h0M301.5 967h0M301 841.5h0M301 785.5h0M301 580h0M301 699h0M301.5 854h0M301 547.5h0M301 733h0M301.5 944h0M301 777h0M301 863.5h0M301 860h0M301 927.5h0M301 816.5h0M301.5 702h0M301.5 873h0M302.5 604h0M302.5 876.5h0M302.5 862h0M302.5 785.5h0M302.5 893.5h0M302.5 837h0M302.5 892h0M302.5 637h0M302.5 890.5h0M302.5 799h0M302.5 934.5h0M302.5 968.5h0M302.5 825.5h0M302.5 892.5h0M302.5 593h0M302.5 905h0M302.5 865h0M302.5 854h0M302.5 943.5h0M302.5 738.5h0M302.5 856.5h0M302.5 867.5h0M302.5 940.5h0M302.5 896.5h0M302.5 821.5h0M302.5 909h0M302.5 573h0M302.5 912.5h0M304 884.5h0M303.5 821h0M303.5 889h0M303.5 879.5h0M303.5 927.5h0M303.5 933.5h0M304 932.5h0M303.5 853.5h0M303.5 809.5h0M303.5 902.5h0M303.5 886h0M303.5 877h0M303.5 819.5h0M303.5 774.5h0M303.5 722h0M304 916h0M303.5 890.5h0M303.5 809h0M303.5 857h0M303.5 783.5h0M303.5 931h0M303.5 576h0M303.5 874.5h0M303.5 834h0M303.5 795h0M303.5 831h0M303.5 906h0M303.5 812.5h0M303.5 662.5h0M303.5 888.5h0M304 657h0M303.5 784h0M303.5 563h0M303.5 860h0M303.5 776.5h0M303.5 732.5h0M303.5 881.5h0M303.5 825.5h0M304 580.5h0M303.5 894h0M305 679h0M305 828.5h0M304.5 700h0M304.5 832.5h0M305 876.5h0M305 844.5h0M305 905h0M304.5 853.5h0M305 873.5h0M304.5 737h0M305 632h0M305 744h0M304.5 911.5h0M304.5 872h0M305 685.5h0M305 726.5h0M305 565h0M305 946.5h0M305 889h0M305 736h0M305 879h0M305 766.5h0M305 796.5h0M304.5 890h0M305 875h0M314.5 880h0M314.5 874h0M314.5 848h0M314 932h0M314.5 821h0M314.5 866.5h0M314.5 892h0M314 860h0M314.5 873.5h0M314.5 822h0M314.5 957h0M314 962.5h0M314.5 853h0M314 741.5h0M314.5 760h0M314.5 881h0M314 936.5h0M314.5 633h0M315.5 914h0M315.5 815.5h0M315.5 719h0M315.5 919.5h0M315.5 767h0M315.5 956h0M315.5 935h0M315.5 627h0M315.5 951.5h0M315.5 859h0M316.5 776h0M316.5 598h0M317 917h0M317 874h0M317 893.5h0M317 903h0M317 643.5h0M316.5 900.5h0M316.5 923.5h0M317 865h0M317 866h0M317 880.5h0M317 718.5h0M317 545.5h0M316.5 801.5h0M317 839h0M321.5 844h0M321.5 899.5h0M326.5 906.5h0M326.5 890h0M331 955h0M340.5 956.5h0M345 955.5h0M345 938h0M345.5 884.5h0M345 950h0M345.5 947h0M345 968h0M345 845.5h0M345 959h0M346.5 888h0M346.5 881h0M346.5 914.5h0M346.5 850.5h0M346.5 917h0M346.5 866h0M346.5 867.5h0M347.5 936.5h0M347.5 920h0M347.5 930h0M348.5 903h0M348.5 942.5h0M349 935h0M350 850.5h0M350 958.5h0M350 915.5h0M350 691.5h0M351 956h0M351 964.5h0M351 929.5h0M351 928h0M351.5 931h0M352.5 893h0M352.5 949.5h0M352.5 943.5h0M352.5 907.5h0M352.5 901h0M352.5 959h0M352.5 830h0M352.5 776h0M353.5 835h0M353.5 902h0M353.5 931.5h0M353.5 928h0M353.5 956h0M354.5 938h0M354.5 753.5h0M358 784.5h0M358.5 935.5h0M358.5 899.5h0M358 882h0M359.5 933.5h0M359.5 921.5h0M359.5 892h0M359.5 895.5h0M359.5 741.5h0M359.5 922h0M360.5 939h0M360.5 860h0M360.5 912h0M360.5 944h0M361.5 888h0M362 914.5h0M362 925.5h0M362 720.5h0M362 796.5h0M362 965.5h0M363 679.5h0M363 879.5h0M363 970h0M363 917.5h0M363 923.5h0M363 921.5h0M364.5 842h0M364.5 881.5h0M364.5 916.5h0M364.5 943.5h0M365.5 953h0M365.5 667.5h0M365.5 912.5h0M365.5 874h0M367 917h0M366.5 943.5h0M366.5 629h0M366.5 913h0M366.5 900.5h0M367.5 958h0M368 941.5h0M368 935h0M368 917.5h0M367.5 920h0M369 771.5h0M369 937h0M369 888.5h0M369 700.5h0M371.5 626.5h0M371.5 881h0M371.5 915h0M371 956.5h0M371.5 886h0M372.5 876.5h0M372.5 958.5h0M379.5 938.5h0M380 956h0M379.5 780.5h0M380 904h0M379.5 913.5h0M379.5 947h0M379.5 935.5h0M379.5 923h0M381 753.5h0M381 924h0M381 930h0M381 951.5h0M390.5 890h0M390 965.5h0M391.5 958.5h0M391.5 866.5h0M391.5 953h0M391.5 956h0M391.5 968h0M392.5 928h0M393 958.5h0M393 929h0M393 931.5h0M393 918.5h0M393 951.5h0M392.5 908.5h0M394 962.5h0M394 946.5h0M394 909h0M395 914h0M395 896.5h0M395 948.5h0M395 940h0M396.5 954h0M396.5 946.5h0M397.5 942h0M397.5 920h0M397.5 906h0M397.5 937.5h0M414.5 944h0M414 727.5h0M414 814h0M414.5 829h0M414.5 923h0M414 947.5h0M415.5 754h0M415.5 962.5h0M415.5 951h0M415 916h0M415 922h0M415.5 907.5h0M415 869.5h0M415.5 966.5h0M416.5 937h0M416.5 891h0M416.5 841.5h0M416.5 963.5h0M416.5 912.5h0M416.5 806h0M416.5 945h0M416.5 883h0M417.5 956.5h0M417.5 929.5h0M417.5 899.5h0M417.5 959.5h0M417.5 923.5h0M418 950h0M417.5 725.5h0M417.5 968h0M418 961.5h0M417.5 838.5h0M417.5 939.5h0M417.5 852.5h0M418 891.5h0M423.5 916.5h0M423.5 902.5h0M423.5 927h0M423.5 937.5h0M425 887h0M425 962h0M425 865h0M425 956.5h0M428.5 952h0M428.5 894.5h0M428.5 892h0M429.5 961.5h0M429.5 930h0M430.5 938.5h0M430.5 959.5h0M431 939h0M430.5 946.5h0M432 931h0M432 960h0M432 958h0M432 968h0M432 931.5h0M433 967h0M433 923.5h0M433 955.5h0M434.5 941.5h0M434.5 904h0M434.5 925h0M434.5 966.5h0M435.5 951.5h0M438 895h0M439 938.5h0M439 956h0M440.5 956.5h0M440 956.5h0M443 913.5h0M442.5 934.5h0M442.5 945h0M443.5 934.5h0M444 948.5h0M179 582.5h0M205.5 749h0M191.5 808h0M172.5 786h0" stroke="#0b55e8"/>
<path d="M285.5 860h0M285.5 833h0M285.5 911.5h0M285.5 856h0M285.5 844.5h0M285.5 824.5h0M285.5 905.5h0M285.5 832h0M285.5 857.5h0M285.5 904.5h0M285.5 858.5h0M285.5 922h0M285.5 896h0M285.5 934.5h0M285.5 966h0M285.5 890.5h0M285.5 961.5h0M285.5 876.5h0M285.5 914h0M285.5 922.5h0M288 882.5h0M288 902.5h0M288 936h0M287.5 923.5h0M288 862.5h0M288 887.5h0M288 824.5h0M289 917.5h0M289 906h0M289 851.5h0M289 930h0M289 870.5h0M289 900h0M289 894h0M289 822.5h0M289.5 881h0M289.5 874.5h0M289 913.5h0M289 908h0M289 876.5h0M290.5 964h0M290 968.5h0M290.5 920.5h0M290 900h0M290 961h0M290 957.5h0M290.5 926h0M290.5 829h0M290.5 965h0M291.5 939.5h0M292.5 947h0M292.5 943h0M292.5 921h0M292.5 922h0M292.5 961h0M294 918.5h0M294 940h0M293.5 962h0M294 961h0M294 930h0M294 944.5h0M295 642h0M295 968h0M296.5 950h0M296 837h0M296.5 956.5h0M296.5 937.5h0M302 935h0M302 953.5h0M302 937.5h0M302 931h0M302 940.5h0M302 939.5h0M302 970h0M302 934.5h0M302 920.5h0M302 900.5h0M302 948h0M303 948.5h0M303.5 962.5h0M303.5 960h0M303 959h0M303.5 903.5h0M303.5 871h0M303 939h0M303.5 924.5h0M303 952.5h0M303.5 952h0M304.5 930h0M304.5 952.5h0M304.5 925h0M304.5 968.5h0M304.5 938.5h0M304.5 945.5h0M304.5 931.5h0M305.5 958h0M305.5 957h0M305.5 916h0M305.5 914h0M306 965h0M305.5 966h0M306 898.5h0M306 955.5h0M308.5 921.5h0M308.5 940.5h0M308 920.5h0M308 958.5h0M308 924.5h0M309.5 942.5h0M309 929.5h0M309 918h0M309 965h0M309 906.5h0M309 943.5h0M309.5 951h0M309.5 915h0M309 906h0M309.5 966.5h0M309.5 874.5h0M309.5 839.5h0M309 945.5h0M309 755.5h0M309.5 931.5h0M309 874.5h0M310.5 954h0M310.5 924h0M310.5 937.5h0M310.5 895h0M310.5 948h0M310.5 934h0M310.5 878.5h0M310.5 715.5h0M310.5 967.5h0M310.5 893.5h0M310.5 902h0M310.5 932.5h0M310.5 940.5h0M310.5 885.5h0M310.5 944h0M310 877.5h0M310.5 942h0M310.5 910h0M310.5 938.5h0M310 936.5h0M310.5 899h0M310.5 947h0M310.5 937h0M310.5 923h0M310.5 931.5h0M310.5 934.5h0M310.5 896.5h0M310.5 960.5h0M311.5 961h0M311.5 959h0M311.5 947h0M311.5 912h0M311.5 965.5h0M311.5 889.5h0M312 944h0M311.5 936h0M311.5 960h0M311.5 951.5h0M311.5 878.5h0M311.5 927h0M312 919h0M311.5 911h0M311.5 952.5h0M311.5 921h0M311.5 956.5h0M313 960.5h0M312.5 938h0M312.5 915.5h0M312.5 954h0M313 886.5h0M313 936.5h0M313 961h0M313 944h0M312.5 927h0M312.5 955.5h0M312.5 965.5h0M313 902.5h0M312.5 938.5h0M312.5 901h0M313 922h0M313 853.5h0M313 918.5h0M313 948.5h0M313 969.5h0M312.5 920h0M312.5 940.5h0M312.5 968.5h0M313 968.5h0M315.5 753.5h0M315 904.5h0M315 889.5h0M315.5 900.5h0M315 842.5h0M315.5 847.5h0M315 881h0M315.5 759h0M315 797.5h0M315 673.5h0M315 911h0M317.5 919.5h0M317.5 931.5h0M317.5 965.5h0M317.5 909.5h0M317.5 882.5h0M317.5 687.5h0M317.5 922.5h0M317.5 885h0M317.5 859.5h0M317.5 941.5h0M317.5 936.5h0M319 901.5h0M319 970.5h0M318.5 920.5h0M318.5 933h0M318.5 925h0M318.5 959.5h0M318.5 943h0M320 928.5h0M320 969.5h0M320 897h0M320 965.5h0M320 943h0M320 941.5h0M319.5 937h0M320 943.5h0M321 920.5h0M321 969h0M321 941h0M321 907.5h0M321 968.5h0M322 860.5h0M322 884h0M322.5 919h0M322.5 941.5h0M322.5 947.5h0M323.5 930h0M323.5 964h0M323.5 966h0M323.5 967h0M325 908.5h0M325 917h0M324.5 952h0M324.5 872.5h0M325 877.5h0M324.5 848h0M324.5 813.5h0M326 958.5h0M326 936h0M326 962.5h0M326 948h0M326 944h0M325.5 944.5h0M327 961.5h0M327 912h0M327 943h0M327 954.5h0M327 843.5h0M327 947.5h0M327 950h0M327 953.5h0M335.5 950.5h0M335.5 959.5h0M335.5 969.5h0M336.5 959.5h0M336.5 968h0M336.5 939.5h0M336.5 955h0M336.5 916.5h0M336.5 826h0M336.5 909h0M337.5 954.5h0M338 957h0M337.5 965.5h0M338 962.5h0M338 970.5h0M339 937.5h0M339 968h0M339 965h0M339 924.5h0M340 963h0M340 904h0M340 966.5h0M340 942.5h0M340 964h0M340 969h0M340 949.5h0M346 965.5h0M347.5 951.5h0M348.5 896h0M351 950h0M350.5 967.5h0M351 963.5h0M353 959.5h0M353 967.5h0M354.5 967.5h0M355.5 963.5h0M356.5 967h0M357 954h0M356.5 945.5h0M358 953.5h0M359 931h0M359 846h0M359.5 910.5h0M359 930.5h0M359.5 931.5h0M359 942.5h0M359 968.5h0M359 969.5h0M359 938.5h0M359 959h0M359.5 962h0M359 970.5h0M359 939h0M360.5 917.5h0M360 922h0M360.5 969.5h0M360 959h0M360 961h0M360.5 952h0M361.5 962h0M361.5 926.5h0M361.5 943h0M361.5 883.5h0M361.5 940.5h0M361.5 929.5h0M361.5 932.5h0M361.5 890h0M362.5 900.5h0M363 920.5h0M363 959.5h0M362.5 877h0M362.5 917.5h0M364 948h0M364 942h0M364 953h0M364 952h0M363.5 953h0M364 959.5h0M363.5 968h0M364 929h0M365 945.5h0M365 954.5h0M365 900.5h0M365 904h0M365 962h0M366 914.5h0M366 961.5h0M366 947.5h0M366 960h0M366.5 897h0M366.5 950h0M366 921.5h0M366.5 934h0M367.5 961.5h0M367.5 942h0M367.5 964h0M367.5 966h0M367.5 961h0M367.5 959.5h0M367.5 855.5h0M367.5 942.5h0M367.5 927h0M368.5 962h0M368.5 960h0M368.5 910h0M368.5 965.5h0M368.5 917.5h0M368.5 956.5h0M370 969.5h0M370 889.5h0M371 889h0M371 903h0M371 957.5h0M371 936.5h0M371 934.5h0M371 913h0M371 929.5h0M371 959h0M371 923h0M371 962.5h0M372.5 969h0M372.5 948h0M372 945h0M372.5 925.5h0M372 942h0M372 961h0M372.5 931.5h0M372 909h0M372.5 937h0M372 948.5h0M372 962.5h0M373.5 826h0M373.5 953h0M373.5 965.5h0M373.5 963h0M373.5 874h0M373.5 926.5h0M374.5 945h0M374.5 942.5h0M374.5 898h0M374.5 908h0M374.5 957.5h0M374.5 954h0M374.5 950h0M374.5 959.5h0M374.5 939h0M374.5 907h0M374.5 965.5h0M374.5 960h0M374.5 961h0M374.5 788.5h0M376 909h0M375.5 957.5h0M375.5 969.5h0M376 948.5h0M376 930.5h0M376 965.5h0M375.5 960.5h0M377 965.5h0M377 958.5h0M377 969h0M377 937h0M378 923.5h0M378 949h0M378 905h0M378 964h0M378 906.5h0M378 951.5h0M379.5 963.5h0M381.5 959h0M399.5 916.5h0M399.5 923h0M400.5 964.5h0M402 962.5h0M402 929.5h0M402 887h0M403 944.5h0M405.5 862h0M408 968.5h0M408 865.5h0M409 866.5h0M410 969h0M410 959h0M411.5 970h0M411.5 970.5h0M411.5 854.5h0M411 948.5h0M413.5 943h0M413.5 950h0M413.5 957.5h0M414 945h0M415 934h0M415 810h0M417 815.5h0M417.5 966.5h0M418.5 957.5h0M418.5 942h0M421 958.5h0M421 936.5h0M421 955h0M422 943.5h0M423 956h0M423.5 903.5h0M423 969h0M424.5 963.5h0M424.5 968h0M425.5 961h0M425.5 922h0M427 929h0M427 830h0M428 955.5h0M428 958h0M428 818h0M428 880.5h0M429 918.5h0M430 895h0M430.5 920h0M430 954h0M431.5 961.5h0M435 871.5h0M436.5 938.5h0M439 917.5h0M438.5 820h0M440 895.5h0M439.5 869h0M440 957h0M441 944.5h0M441 962h0M442.5 964h0M442 910h0M443.5 925h0M443.5 964.5h0M444.5 861.5h0M444.5 857.5h0M446 936h0M446 810.5h0M446 792h0M446 963h0M447 870.5h0M447 966.5h0M448 928.5h0M338 636h0M290.5 608.5h0M292 654.5h0M352 581h0M445 793h0M329.5 562.5h0" stroke="#e9635f"/>
</g>
<g font-family="'Liberation Sans', sans-serif" font-size="16.8" fill="#0a0a0a" opacity="0.995"><text x="133.40" y="993.00" text-anchor="middle">7050</text><text x="192.80" y="993.00" text-anchor="middle">7100</text><text x="252.20" y="993.00" text-anchor="middle">7150</text><text x="311.60" y="993.00" text-anchor="middle">7200</text><text x="371.00" y="993.00" text-anchor="middle">7250</text><text x="430.40" y="993.00" text-anchor="middle">7300</text><text x="489.80" y="993.00" text-anchor="middle">7350</text><text x="121.20" y="919.60" text-anchor="end">500</text><text x="121.20" y="827.35" text-anchor="end">1000</text><text x="121.20" y="735.10" text-anchor="end">1500</text><text x="121.20" y="642.85" text-anchor="end">2000</text><text x="121.20" y="550.60" text-anchor="end">2500</text></g>
<g stroke="#707070" stroke-width="1.2" fill="none"><rect x="626.75" y="531.5" width="372.25" height="439.0"/><path d="M626.75 531.50v11.0M626.75 970.50v-11.0M688.79 531.50v11.0M688.79 970.50v-11.0M750.83 531.50v11.0M750.83 970.50v-11.0M812.88 531.50v11.0M812.88 970.50v-11.0M874.92 531.50v11.0M874.92 970.50v-11.0M936.96 531.50v11.0M936.96 970.50v-11.0M999.00 531.50v11.0M999.00 970.50v-11.0M626.75 941.60h11.0M999.00 941.60h-11.0M626.75 884.23h11.0M999.00 884.23h-11.0M626.75 826.86h11.0M999.00 826.86h-11.0M626.75 769.49h11.0M999.00 769.49h-11.0M626.75 712.11h11.0M999.00 712.11h-11.0M626.75 654.74h11.0M999.00 654.74h-11.0M626.75 597.37h11.0M999.00 597.37h-11.0M626.75 540.00h11.0M999.00 540.00h-11.0"/></g>
<g fill="none" stroke-width="4.6" stroke-linecap="round">
<path d="M635 826h0M635 827h0M635 826.5h0M636.5 826.5h0M636 826.5h0M637.5 826.5h0M637.5 826h0M638.5 826.5h0M639 827h0M639 826.5h0M639 826h0M645 826.5h0M645 826h0M645 827h0M646.5 826.5h0M646 826h0M646 826.5h0M646.5 827h0M646 827h0M647.5 826.5h0M647.5 827h0M648.5 827h0M648.5 826h0M648.5 826.5h0M649 826.5h0M650 824h0M650 825.5h0M650 827h0M650 826h0M650 823.5h0M650 821h0M651 825.5h0M651.5 827h0M651 826.5h0M651 826h0M651 824h0M651 825h0M652.5 825h0M652.5 827.5h0M652.5 827h0M652.5 826.5h0M652.5 823.5h0M652.5 824.5h0M653.5 825h0M654 826h0M653.5 828.5h0M653.5 829.5h0M653.5 827.5h0M655 824h0M655 826h0M655 827h0M655 825.5h0M655 824.5h0M655 828h0M656.5 826.5h0M656 825h0M656 824h0M656.5 823.5h0M656 826h0M656.5 824.5h0M656 824.5h0M657.5 826h0M657.5 825h0M657.5 824.5h0M657.5 825.5h0M658.5 822h0M658.5 826h0M658.5 827h0M658.5 825.5h0M658.5 824.5h0M659 824.5h0M658.5 825h0M660 825h0M660 826.5h0M660 825.5h0M659.5 821.5h0M660 826h0M661 825.5h0M661 828.5h0M661 829.5h0M661 823.5h0M661 824.5h0M661 829h0M661 827h0M662.5 824.5h0M662.5 824h0M662.5 826h0M662.5 826.5h0M662 827h0M663.5 821.5h0M664 824.5h0M664 827.5h0M663.5 828.5h0M663.5 825h0M663.5 823.5h0M665 823h0M665 831h0M665 824.5h0M665 827h0M664.5 825.5h0M666 826h0M666 829h0M666 825h0M666 824.5h0M666 824h0M666 828h0M667.5 826h0M667.5 828h0M667.5 822h0M667 826h0M667 823.5h0M667.5 826.5h0M668.5 822h0M668.5 827h0M668.5 825h0M668.5 827.5h0M668.5 825.5h0M668.5 823.5h0M669.5 827.5h0M669.5 823h0M669.5 825h0M670 826h0M670 822h0M670 823h0M671 823h0M671 826h0M671 823.5h0M671 827h0M671 826.5h0M671 825h0M672 824h0M672.5 825h0M672 825h0M672.5 826h0M672 825.5h0M672.5 827h0M673.5 826.5h0M673.5 825h0M673.5 825.5h0M673.5 823h0M673.5 824.5h0M674.5 822.5h0M674.5 823h0M675 826h0M675 827h0M675 824.5h0M674.5 825.5h0M676 825.5h0M676 827h0M676 826h0M676 824.5h0M676 827.5h0M677.5 826.5h0M677 826.5h0M677.5 823h0M677 827.5h0M677 825h0M677.5 822.5h0M677.5 823.5h0M678.5 824h0M678.5 825.5h0M678.5 825h0M678.5 828h0M678.5 826h0M679.5 825.5h0M679.5 823.5h0M679.5 824.5h0M679.5 820.5h0M679.5 828h0M680 827h0M681 823.5h0M681 824h0M681 826.5h0M681 824.5h0M681 827.5h0M681 827h0M681 822.5h0M682 825.5h0M682.5 828h0M682 826.5h0M682.5 824h0M682 824h0M682.5 823.5h0M682 826h0M684.5 827h0M685 825h0M684.5 828.5h0M684.5 825h0M684.5 829h0M684.5 827.5h0M685 828h0M684.5 824h0M684.5 824.5h0M686 826h0M686 823h0M686 825h0M686 822.5h0M686 829h0M686 828.5h0M687 825h0M687.5 827.5h0M687.5 825.5h0M687.5 825h0M687 820.5h0M687 824h0M688.5 822h0M688.5 826.5h0M688.5 825.5h0M688.5 827h0M688.5 826h0M688.5 824.5h0M688.5 823.5h0M690 825.5h0M689.5 823h0M689.5 822h0M689.5 831.5h0M689.5 824.5h0M691 823.5h0M691 826h0M691 826.5h0M691 828.5h0M692.5 825h0M692 827h0M692 824h0M692 823h0M692 825.5h0M692 826.5h0M693.5 824h0M693.5 825.5h0M693.5 823h0M693.5 822.5h0M694.5 827h0M694.5 828h0M694.5 826.5h0M694.5 820h0M696 824h0M696 826.5h0M695.5 827h0M696 826h0M697 827.5h0M697.5 827h0M697 826h0M697 822.5h0M698.5 825h0M698 827h0M698.5 824h0M699.5 827h0M699.5 830h0M699.5 824.5h0M699.5 828h0M699.5 823.5h0M701 825.5h0M700.5 824h0M701 825h0M701 826.5h0M700.5 826.5h0M700.5 824.5h0M700.5 825h0M702 825.5h0M702 824h0M702 824.5h0M702 826.5h0M702 827h0M703.5 827.5h0M703.5 826.5h0M703.5 826h0M703.5 828h0M703.5 824h0M703 825.5h0M703.5 825.5h0M704.5 824.5h0M704.5 825.5h0M704.5 825h0M704.5 823.5h0M706 825h0M706 827.5h0M706 826.5h0M705.5 823h0M705.5 825h0M705.5 823.5h0M706 823.5h0M707 825.5h0M707 823h0M707 826.5h0M707 826h0M707 822.5h0M707 824.5h0M707 823.5h0M708 824.5h0M708.5 825.5h0M708 825h0M708.5 824h0M708 823h0M708 824h0M708.5 825h0M708 825.5h0M709.5 825h0M709.5 824h0M709.5 827.5h0M709.5 827h0M709.5 823h0M709.5 826h0M709.5 824.5h0M710.5 826h0M711 824.5h0M710.5 825.5h0M711 826.5h0M711 825.5h0M710.5 826.5h0M711 824h0M712 825.5h0M712 824.5h0M712 826h0M712 824h0M712 829h0M713 826h0M713 825.5h0M713 825h0M713.5 822.5h0M713.5 824h0M713 824h0M713.5 824.5h0M713 826.5h0M714.5 827h0M714.5 824.5h0M714.5 823.5h0M714.5 824h0M714.5 826h0M714.5 825h0M714.5 823h0M715.5 824h0M715.5 823.5h0M716 825h0M716 823.5h0M715.5 826h0M715.5 822h0M715.5 822.5h0M717 823.5h0M717 824h0M717 827.5h0M717 823h0M717 825h0M717 829.5h0M717 826h0M718 825.5h0M718.5 824h0M718 827h0M718.5 822h0M718 819h0M719.5 821h0M719.5 824.5h0M719.5 823.5h0M719.5 822.5h0M719.5 824h0M720.5 822.5h0M720.5 823h0M720.5 827h0M720.5 824h0M720.5 826h0M722 828h0M722 827h0M722 826.5h0M722 826h0M722 825.5h0M722 824.5h0M723 825.5h0M723 818.5h0M723 828h0M723 827h0M724.5 824.5h0M724.5 826h0M724.5 826.5h0M724.5 825h0M724.5 823.5h0M727 827.5h0M727 824h0M727 824.5h0M727 823.5h0M727 825.5h0M726.5 827h0M727 826h0M727 823h0M728 824h0M728 817h0M728 819.5h0M728 827.5h0M728 824.5h0M728 823.5h0M728 820.5h0M728 823h0M728 822h0M728.5 823.5h0M728 828h0M728 825.5h0M728 826h0M728 821.5h0M728.5 824h0M732 824.5h0M731.5 825.5h0M732 825h0M731.5 821.5h0M731.5 824h0M732 826h0M731.5 827h0M732 823.5h0M732 822.5h0M732 823h0M732 825.5h0M731.5 822h0M732 827.5h0M731.5 824.5h0M732 821h0M733 826h0M733 823h0M733 827h0M733 824.5h0M733 827.5h0M733 823.5h0M733 824h0M733 825.5h0M733 821.5h0M733 829.5h0M733 822.5h0M733 820.5h0M734.5 823.5h0M734.5 824.5h0M734.5 824h0M734 824h0M734.5 825h0M734.5 822.5h0M734.5 823h0M734 825h0M734 822.5h0M734.5 829.5h0M734.5 827h0M734 824.5h0M735.5 823.5h0M735.5 825.5h0M735.5 824h0M735.5 824.5h0M735.5 823h0M735.5 825h0M735.5 822h0M735.5 820.5h0M735.5 826h0M737 820h0M736.5 831h0M736.5 826.5h0M736.5 823h0M736.5 825h0M737 823.5h0M736.5 823.5h0M737 820.5h0M737 823h0M737 824.5h0M736.5 824.5h0M737 825h0M737 822.5h0M737 824h0M736.5 822.5h0M737 827.5h0M738 825.5h0M738 826.5h0M738 824.5h0M738 823.5h0M738 824h0M738 822.5h0M738 825h0M738 823h0M738 821.5h0M738 822h0M739 823h0M739.5 823h0M739.5 824.5h0M739 826.5h0M739.5 824h0M739 822h0M739 824h0M739 820.5h0M739 821.5h0M739.5 821.5h0M739 822.5h0M739.5 819h0M740.5 820.5h0M740.5 824h0M740.5 822.5h0M740.5 824.5h0M740.5 823h0M740.5 821.5h0M740.5 823.5h0M740.5 825h0M740.5 825.5h0M740.5 818h0M742 824.5h0M741.5 822.5h0M742 823.5h0M742 822h0M741.5 826h0M742 820.5h0M742 816h0M741.5 820.5h0M741.5 821.5h0M742 821h0M742 823h0M742 822.5h0M741.5 822h0M741.5 823.5h0M743 820h0M743 821.5h0M743 823.5h0M743 824.5h0M743 820.5h0M743 823h0M743 821h0M743 822.5h0M743 824h0M743 826h0M744 819.5h0M744.5 823h0M744 822h0M744 820h0M744 824.5h0M744 821h0M744 823h0M744 822.5h0M744.5 825h0M744.5 820h0M744 825.5h0M744.5 825.5h0M744 824h0M744.5 823.5h0M744 827h0M744.5 824.5h0M745.5 824.5h0M745.5 822h0M745.5 822.5h0M745.5 820.5h0M745.5 821h0M745.5 825h0M745.5 820h0M745.5 823h0M745.5 827.5h0M745.5 824h0M745.5 821.5h0M745.5 823.5h0M746.5 822.5h0M746.5 821.5h0M747 823.5h0M747 821.5h0M747 820.5h0M747 824.5h0M747 822h0M747 821h0M746.5 819h0M746.5 823.5h0M746.5 820.5h0M747 828.5h0M747 828h0M747 822.5h0M748 820.5h0M748 821h0M748 823h0M748 822.5h0M748 822h0M748 820h0M748 823.5h0M748 821.5h0M748 819.5h0M749.5 821.5h0M749.5 821h0M749 821h0M749 819.5h0M749.5 820.5h0M749 822.5h0M749 821.5h0M749.5 820h0M749 822h0M749.5 819.5h0M749 817h0M749.5 818h0M749 825.5h0M749 814.5h0M749 820.5h0M749 818.5h0M750.5 822h0M750.5 819h0M750.5 820.5h0M750.5 818.5h0M750.5 818h0M750.5 825.5h0M750.5 819.5h0M750.5 820h0M750.5 824h0M750.5 821.5h0M750.5 814h0M751.5 819h0M751.5 818h0M752 821h0M751.5 820h0M752 819.5h0M752 820h0M751.5 817.5h0M751.5 822.5h0M751.5 815h0M752 818.5h0M752 825h0M752 822.5h0M751.5 814.5h0M752 826.5h0M751.5 819.5h0M753 823.5h0M753 819h0M753 824h0M753 818h0M753 819.5h0M753 820h0M753 821h0M753 822h0M753 817h0M753 820.5h0M753 817.5h0M753 821.5h0M753 816h0M753 816.5h0M754 824.5h0M754 818.5h0M754 817.5h0M754 820h0M754 814h0M754 816.5h0M754 819h0M754 820.5h0M754 817h0M754 818h0M754.5 823h0M754 819.5h0M754.5 818h0M754 821h0M755.5 817h0M755.5 820.5h0M755.5 819.5h0M755.5 815.5h0M755.5 818.5h0M755.5 821h0M755.5 817.5h0M755.5 818h0M755.5 819h0M755.5 820h0M755.5 822h0M755.5 815h0M755.5 814h0M756.5 820.5h0M756.5 816h0M756.5 818h0M756.5 817h0M756.5 818.5h0M756.5 824.5h0M756.5 817.5h0M756.5 816.5h0M756.5 819h0M756.5 820h0M757 818.5h0M756.5 821h0M757.5 818h0M758 817.5h0M758 817h0M758 818.5h0M758 816h0M758 815.5h0M757.5 817h0M757.5 817.5h0M757.5 818.5h0M758 819.5h0M758 811.5h0M758 818h0M758 816.5h0M758 819h0M758 814.5h0M758 823.5h0M758 824.5h0M758 813.5h0M758 815h0M758 824h0M759 814.5h0M759.5 817h0M759.5 815.5h0M759.5 814.5h0M759.5 819h0M759 817h0M759 813.5h0M759.5 817.5h0M759.5 814h0M759 815h0M759.5 815h0M759 816.5h0M759 826.5h0M759.5 823.5h0M759 816h0M759 814h0M759 820h0M759 815.5h0M760 816.5h0M760.5 815.5h0M760.5 814.5h0M760.5 814h0M760.5 817.5h0M760.5 820h0M760 816h0M760.5 813h0M760.5 816.5h0M760.5 815h0M760.5 813.5h0M760 819h0M760.5 818h0M760.5 821.5h0M760.5 821h0M760.5 816h0M760 815h0M760.5 818.5h0M760.5 820.5h0M762 817.5h0M761.5 813h0M761.5 812h0M762 818.5h0M761.5 818h0M761.5 816.5h0M762 814.5h0M761.5 815.5h0M761.5 819.5h0M762 815.5h0M762 812h0M761.5 812.5h0M761.5 820.5h0M761.5 808.5h0M761.5 817.5h0M761.5 822h0M761.5 815h0M761.5 809h0M761.5 807.5h0M761.5 818.5h0M762 813h0M762.5 813.5h0M763 812.5h0M763 821.5h0M763 817h0M762.5 815.5h0M763 815.5h0M763 813.5h0M763 822.5h0M763 815h0M763 806.5h0M763 814.5h0M762.5 814.5h0M762.5 820h0M762.5 812h0M763 821h0M763 813h0M763 810h0M762.5 812.5h0M764 813.5h0M764 820.5h0M764 812h0M764 815h0M764 815.5h0M764 813h0M764 811.5h0M764 812.5h0M764 817.5h0M764 819h0M764 814.5h0M764 811h0M764 816h0M765 815h0M765.5 811.5h0M765.5 814.5h0M765 810.5h0M765.5 814h0M765.5 813h0M765.5 819.5h0M765.5 813.5h0M765.5 810h0M765.5 811h0M765.5 810.5h0M765.5 816.5h0M765.5 816h0M765.5 822h0M765.5 812.5h0M765 810h0M765.5 812h0M765.5 809.5h0M767 813h0M766.5 813h0M766.5 810h0M766.5 812h0M767 816.5h0M767 810h0M766.5 823h0M766.5 810.5h0M767 814.5h0M766.5 811h0M766.5 814h0M766.5 816h0M766.5 809.5h0M766.5 814.5h0M766.5 815h0M766.5 818h0M766.5 817h0M766.5 813.5h0M767 811.5h0M767.5 806.5h0M767.5 813.5h0M768 816.5h0M768 815.5h0M768 816h0M767.5 812h0M768 813h0M768 810h0M767.5 816.5h0M768 814h0M768 812h0M767.5 817.5h0M767.5 812.5h0M768 814.5h0M768 812.5h0M767.5 810.5h0M768 810.5h0M768 813.5h0M768 811h0M767.5 818h0M767.5 820h0M769 812.5h0M769 812h0M769 814h0M769 822h0M769 814.5h0M769 816h0M769 811h0M769 813h0M769 809.5h0M769 816.5h0M769 813.5h0M769 815h0M769 810.5h0M769 819h0M769 819.5h0M769 811.5h0M769 817h0M769 823.5h0M769 809h0M770.5 815.5h0M770.5 814.5h0M770 812.5h0M770.5 810.5h0M770.5 814h0M770.5 813.5h0M770 816h0M770.5 817.5h0M770.5 815h0M770 815h0M770 814h0M770.5 817h0M770.5 820.5h0M770 811.5h0M770.5 811.5h0M770.5 813h0M770 816.5h0M770.5 816h0M770.5 819.5h0M771.5 816.5h0M771.5 815.5h0M771.5 813.5h0M771.5 817.5h0M771.5 816h0M771.5 814h0M771.5 817h0M771.5 808h0M771.5 818.5h0M771.5 814.5h0M771.5 818h0M771.5 821h0M771.5 819h0M773 818h0M773 815.5h0M773 818.5h0M772.5 815h0M772.5 816h0M773 820.5h0M772.5 819.5h0M773 817h0M772.5 818.5h0M772.5 817.5h0M772.5 821h0M772.5 817h0M773 816h0M773 817.5h0M772.5 824.5h0M773 813.5h0M773 814.5h0M772.5 818h0M773 816.5h0M773 814h0M774 822h0M774 818h0M774 817h0M774 817.5h0M774 819h0M774 819.5h0M774 818.5h0M774 821h0M774 816h0M774 815h0M774 816.5h0M774 813.5h0M775 816h0M775 818h0M775 816.5h0M775 821.5h0M775.5 817.5h0M775.5 818h0M775 817.5h0M775.5 815.5h0M775 820.5h0M775 824.5h0M775 817h0M775.5 816h0M775 822h0M775 819h0M776.5 817.5h0M776.5 817h0M776.5 818.5h0M776.5 819h0M776.5 816.5h0M776.5 818h0M776.5 815h0M776.5 824h0M776.5 814h0M776.5 821.5h0M776.5 815.5h0M776.5 819.5h0M776.5 812h0M778 821h0M778 817.5h0M778 819.5h0M778 821.5h0M777.5 820h0M777.5 818.5h0M777.5 816h0M778 820h0M778 818h0M779 820.5h0M779 817h0M779 819.5h0M779 818.5h0M779 821h0M779 816h0M779 822.5h0M780.5 814.5h0M780 820h0M780 819h0M780 821.5h0M780 820.5h0M780.5 820.5h0M780.5 819.5h0M780.5 821h0M780 822h0M780 817.5h0M780 818.5h0M780.5 818h0M780 821h0M781.5 821.5h0M781.5 819.5h0M781.5 818.5h0M781.5 819h0M781.5 818h0M781.5 825h0M781.5 817.5h0M781.5 820.5h0M781.5 820h0M782.5 818.5h0M783 820.5h0M782.5 820h0M782.5 823.5h0M782.5 819.5h0M782.5 818h0M782.5 822h0M782.5 825h0M783 819h0M782.5 820.5h0M784 820h0M784 821.5h0M784 822h0M784 818.5h0M784 818h0M784 820.5h0M784 825h0M788 823.5h0M788 818.5h0M787.5 824.5h0M788 822h0M787.5 823h0M787.5 818.5h0M787.5 818h0M788 821h0M788 824.5h0M787.5 821h0M788 822.5h0M788 825h0M787.5 820.5h0M787.5 825h0M787.5 822.5h0M787.5 821.5h0M787.5 823.5h0M788 821.5h0M788 819.5h0M788 820.5h0M789 821.5h0M789 820h0M789 824.5h0M789 824h0M789 819.5h0M789 821h0M789 822.5h0M789 827.5h0M789 823h0M788.5 824.5h0M789 823.5h0M789 825.5h0M789 816.5h0M789 825h0M789 826.5h0M789 822h0M789 820.5h0M789 827h0M801.5 825.5h0M801 828h0M801 826.5h0M801.5 821.5h0M801.5 824h0M801.5 826h0M801.5 826.5h0M801.5 824.5h0M801 823.5h0M801 824.5h0M801.5 825h0M801.5 828h0M801.5 822.5h0M801 827.5h0M801 824h0M801.5 823h0M801 825h0M801.5 820.5h0M801 817h0M802.5 824.5h0M802.5 828.5h0M802.5 826h0M802.5 818.5h0M802.5 823h0M802.5 821.5h0M802.5 829h0M803 826.5h0M802.5 822.5h0M802.5 822h0M802.5 824h0M802.5 827.5h0M802.5 825.5h0M802.5 823.5h0M802.5 825h0M802.5 826.5h0M802.5 828h0M805 825.5h0M805 824h0M805 826h0M805 830.5h0M805 823h0M805 823.5h0M805 829.5h0M806.5 825h0M806 826.5h0M806 825.5h0M806.5 824h0M806 825h0M806.5 826.5h0M806 822.5h0M806 826h0M806.5 823h0M806.5 824.5h0M806 821.5h0M807.5 828h0M807.5 827.5h0M807.5 825.5h0M807.5 822h0M807.5 826.5h0M807.5 826h0M807.5 824.5h0M807.5 825h0M807.5 823.5h0M809 824.5h0M809 823.5h0M808.5 823.5h0M809 826.5h0M808.5 823h0M808.5 826h0M809 825.5h0M809 825h0M810 827h0M810 825h0M810 826h0M810 826.5h0M810 825.5h0M810 822.5h0M810 823.5h0M810 824h0M810 822h0M810 821.5h0M810 823h0M811.5 824.5h0M811.5 825h0M811.5 824h0M811.5 822.5h0M811.5 826h0M811.5 822h0M811 823.5h0M811.5 823.5h0M811 826.5h0M811 824.5h0M811.5 819.5h0M811.5 825.5h0M811 824h0M811.5 827h0M811 821.5h0M812.5 822h0M812.5 827h0M812.5 825h0M812.5 828.5h0M812.5 833h0M812.5 826.5h0M812.5 823h0M812.5 826h0M812.5 824h0M812.5 820.5h0M812.5 825.5h0M812.5 822.5h0M812.5 824.5h0M812.5 821h0M813.5 826h0M813.5 824.5h0M813.5 822.5h0M813.5 824h0M814 827h0M814 825h0M813.5 826.5h0M814 830h0M814 826h0M813.5 825h0M813.5 825.5h0M814 828h0M814 824.5h0M815 825.5h0M815 827h0M815 829h0M815 826h0M815 825h0M815 824h0M815 824.5h0M815 828.5h0M815 828h0M815 821h0M815 830h0M816 829h0M816 824.5h0M816 823.5h0M816 822.5h0M816.5 843.5h0M816.5 824.5h0M816.5 825.5h0M816 825h0M816 827h0M816.5 818.5h0M816.5 826h0M816.5 828.5h0M816 828h0M816 825.5h0M816.5 827h0M816 822h0M816 826.5h0M816.5 830h0M817.5 823h0M817.5 824.5h0M817.5 825.5h0M817.5 826.5h0M817.5 822h0M817.5 827.5h0M817.5 828.5h0M817.5 826h0M817.5 829.5h0M818.5 825.5h0M818.5 827.5h0M818.5 825h0M818.5 826h0M819 827.5h0M818.5 826.5h0M819 823h0M818.5 823h0M818.5 824h0M819 824h0M818.5 821.5h0M818.5 824.5h0M818.5 822.5h0M820 817.5h0M820 829h0M820 827h0M820 824.5h0M820 823.5h0M821 826h0M821 824h0M821.5 824.5h0M821.5 826.5h0M821 829h0M822.5 827h0M822.5 823.5h0M822 826h0M822.5 826.5h0M822.5 825h0M823.5 826h0M823.5 827.5h0M823.5 825.5h0M823.5 825h0M824 820h0M825 826.5h0M825 827h0M824.5 827h0M825 822.5h0M825 827.5h0M826.5 820.5h0M826 860.5h0M826 833h0M826 826.5h0M826.5 826h0M826 827.5h0M827.5 827.5h0M827.5 826.5h0M827.5 828h0M827.5 827h0M828.5 827.5h0M828.5 824.5h0M828.5 827h0M828.5 826h0M828.5 824h0M830 825h0M830 823.5h0M830 837.5h0M830 825.5h0M831.5 824.5h0M831 826h0M831 826.5h0M831 821h0M836 823.5h0M836 826h0M836 824.5h0M836 827h0M836 825h0M836 826.5h0M836 827.5h0M836 828h0M836 824h0M836 835.5h0M836 825.5h0M836 823h0M837.5 826.5h0M837.5 828h0M837.5 824h0M837 829h0M837.5 838.5h0M837.5 824.5h0M837.5 825h0M837 825h0M837.5 825.5h0M837 829.5h0M837.5 826h0M837 823.5h0M837 828.5h0M837.5 827.5h0M837.5 827h0M837.5 823.5h0M837 827h0M837.5 820.5h0M838.5 825.5h0M838.5 825h0M838.5 826.5h0M838.5 824.5h0M838.5 822h0M839 821.5h0M839 826.5h0M838.5 826h0M839 825.5h0M839 824.5h0M838.5 819h0M838.5 823.5h0M838.5 827h0M840 824h0M839.5 824h0M840 826.5h0M840 826h0M840 824.5h0M840 827h0M840 822h0M840 825h0M839.5 826.5h0M839.5 826h0M840 823.5h0M841 825.5h0M841 821.5h0M841 828.5h0M841 826.5h0M841 824.5h0M841 827.5h0M841 826h0M841 823h0M842.5 827.5h0M842 824.5h0M842.5 824.5h0M842.5 823.5h0M842 827h0M842.5 825h0M842.5 828h0M842.5 826h0M842 823.5h0M842.5 823h0M842 827.5h0M842 828.5h0M842.5 827h0M842.5 825.5h0M842 826h0M843.5 825.5h0M843.5 823.5h0M843.5 825h0M843.5 824h0M843.5 822.5h0M843.5 827h0M843.5 827.5h0M843.5 823h0M843.5 826.5h0M843.5 824.5h0M844.5 832h0M845 826h0M844.5 826.5h0M844.5 827.5h0M844.5 826h0M845 826.5h0M845 824.5h0M845 827h0M844.5 822.5h0M845 827.5h0M844.5 828h0M845 824h0M844.5 825h0M846 827.5h0M846 824.5h0M846 824h0M846 823.5h0M846 822.5h0M846 823h0M846 825h0M846 825.5h0M846 820h0M846 826h0M847 826.5h0M847.5 826h0M847 825.5h0M847 823h0M847.5 827.5h0M847.5 825h0M847 822.5h0M847 826h0M847 828h0M847 824h0M847.5 824.5h0M847 827h0M847.5 825.5h0M847.5 823.5h0M848.5 825h0M848.5 826h0M848.5 827h0M848.5 824h0M848.5 826.5h0M848.5 825.5h0M848.5 822.5h0M848.5 823.5h0M848.5 827.5h0M848.5 829h0M849.5 826.5h0M850 827h0M849.5 825h0M849.5 823h0M850 824.5h0M849.5 824h0M849.5 825.5h0M850 826h0M850 825h0M850 820.5h0M850 829h0M849.5 830h0M850 830h0M849.5 827h0M850 826.5h0M851 826.5h0M851 825h0M851 826h0M851 823.5h0M851 825.5h0M851 827.5h0M851 823h0M851 827h0M851 824h0M852 827h0M852.5 826.5h0M852.5 824h0M852 828.5h0M852.5 829.5h0M852.5 825.5h0M852 828h0M852.5 826h0M852 826h0M852.5 825h0M852 825h0M852.5 828h0M852 825.5h0M852.5 820h0M852.5 823h0M853.5 827h0M853.5 824h0M853.5 826.5h0M853.5 825.5h0M853.5 825h0M853.5 823.5h0M853.5 824.5h0M853.5 828.5h0M853.5 826h0M853.5 831h0M853.5 828h0M853.5 827.5h0M854.5 825h0M854.5 822h0M854.5 824.5h0M855 824.5h0M854.5 827.5h0M854.5 828h0M855 825.5h0M855 824h0M855 825h0M854.5 826.5h0M855 827.5h0M854.5 826h0M856 825h0M856 826h0M856 826.5h0M856 827.5h0M856 827h0M856 824h0M855.5 822h0M856 824.5h0M856 825.5h0M857 826h0M857 826.5h0M857.5 827.5h0M857 827.5h0M857 828h0M857.5 828.5h0M857 825.5h0M857.5 827h0M857 825h0M857.5 826.5h0M857.5 826h0M857 823h0M857 827h0M857 824h0M857 829h0M858 825h0M858.5 823.5h0M858.5 826h0M858.5 826.5h0M858.5 825.5h0M858.5 825h0M858.5 821h0M858.5 824h0M858.5 824.5h0M858.5 827h0M859.5 824.5h0M860 822.5h0M859.5 825.5h0M859.5 823.5h0M859.5 824h0M859.5 827.5h0M859.5 827h0M859.5 826.5h0M859.5 826h0M860 824h0M859.5 825h0M861 827h0M861 824.5h0M861 823.5h0M861 825h0M861 826h0M861 828.5h0M861 826.5h0M861 824h0M861 828h0M861 825.5h0M861 827.5h0M860.5 827h0M862 825.5h0M862 825h0M862 844.5h0M862 823.5h0M862 827.5h0M862 824.5h0M862 826.5h0M862 827h0M862 823h0M862 826h0M864.5 826h0M864.5 825h0M864.5 824h0M864.5 826.5h0M864.5 823.5h0M865.5 826.5h0M866 825h0M866 824.5h0M866 826.5h0M866 826h0M865.5 824h0M866 824h0M867 821.5h0M867 826h0M867 824h0M867 827h0M867 828.5h0M867 826.5h0M867 827.5h0M868.5 826h0M868 826.5h0M868.5 824.5h0M868.5 827.5h0M868 820h0M868 824h0M868 823.5h0M869.5 825h0M869.5 826h0M869.5 826.5h0M869.5 827h0M870 823h0M869.5 822h0M869.5 824.5h0M870 824.5h0M871 824.5h0M870.5 825h0M870.5 825.5h0M871 825.5h0M870.5 826h0M871 826.5h0M870.5 823.5h0M871 829.5h0M872 826h0M872 822.5h0M872 827h0M872 825h0M872 823h0M872 827.5h0M872 824.5h0M873.5 843h0M873 824h0M873.5 825h0M873.5 828.5h0M873.5 824.5h0M873.5 827.5h0M873 826h0M874.5 825.5h0M874.5 827h0M874.5 826h0M874.5 827.5h0M874.5 822h0M874.5 833h0M874.5 826.5h0M874.5 825h0M874.5 828h0M875.5 826h0M876 827.5h0M875.5 824.5h0M876 825h0M875.5 825.5h0M875.5 821.5h0M876 825.5h0M875.5 828.5h0M877 826.5h0M877 826h0M877 829h0M877 827h0M877 824h0M877 825h0M877 823.5h0M878.5 825h0M878.5 828h0M878 824.5h0M878 827h0M878.5 827.5h0M878.5 826h0M878 825h0M878 826.5h0M878.5 823h0M879.5 824.5h0M879.5 825h0M879.5 825.5h0M879.5 826h0M879.5 830.5h0M879.5 827.5h0M879.5 823h0M880.5 824.5h0M880.5 827h0M880.5 823.5h0M880.5 826.5h0M880.5 826h0M880.5 829h0M881 824h0M880.5 824h0M880.5 825h0M882 825.5h0M882 826.5h0M882 827h0M882 824.5h0M882 822.5h0M882 827.5h0M882 829h0M882 825h0M883 826.5h0M883 827.5h0M883 826h0M883 824.5h0M883 825.5h0M883.5 823.5h0M883.5 829.5h0M884.5 824.5h0M884.5 824h0M884.5 826h0M884.5 827h0M884.5 823.5h0M884.5 826.5h0M884.5 825h0M884.5 829h0M884.5 825.5h0M886 825h0M885.5 824.5h0M885.5 828.5h0M885.5 825.5h0M886 829h0M886 824h0M885.5 827h0M886 825.5h0M885.5 828h0M885.5 829h0M887 825h0M887 827h0M887 826.5h0M887 825.5h0M887 823.5h0M887 826h0M887 827.5h0M887 823h0M887 824.5h0M888.5 824h0M888 826.5h0M888 826h0M888 825h0M888.5 826h0M888 825.5h0M888 824h0M888.5 823h0M888.5 824.5h0M888.5 826.5h0M888.5 825.5h0M889.5 825h0M889.5 825.5h0M889.5 826h0M889.5 826.5h0M889.5 823h0M889.5 824.5h0M889.5 824h0M889.5 823.5h0M889.5 827.5h0M890.5 826h0M890.5 825h0M890.5 824h0M890.5 827h0M891 827h0M890.5 823h0M890.5 825.5h0M890.5 823.5h0M891 837.5h0M890.5 826.5h0M892 825h0M892 828.5h0M892 824h0M892 827h0M892 826.5h0M892 827.5h0M892 824.5h0M892 825.5h0M892 826h0M893 829h0M893.5 825h0M893.5 828h0M893 826.5h0M893 825.5h0M893 824h0M893.5 824.5h0M893 828h0M893 824.5h0M893 823.5h0M893 827.5h0M893 827h0M893.5 826h0M894.5 825.5h0M894.5 826.5h0M894.5 827.5h0M894.5 825h0M894.5 828h0M894.5 823h0M894.5 827h0M894.5 824.5h0M894 826h0M894.5 824h0M894 826.5h0M895.5 825h0M895.5 825.5h0M895.5 827h0M895.5 824.5h0M895.5 827.5h0M895.5 823.5h0M895.5 828h0M895.5 826h0M895.5 823h0M897 825h0M897 826h0M896.5 827.5h0M897 825.5h0M897 826.5h0M897 828h0M896.5 828h0M897 827.5h0M898 828h0M898.5 825h0M898 825h0M898.5 826h0M898 826h0M898 826.5h0M898 824.5h0M898 824h0M898 825.5h0M898 828.5h0M899 820.5h0M899.5 825h0M899.5 826.5h0M899.5 825.5h0M899.5 826h0M899.5 828h0M899.5 827.5h0M899.5 824.5h0M901 827h0M900.5 822h0M900.5 829h0M900.5 826h0M900.5 826.5h0M902 825h0M901.5 828h0M902 826h0M902 826.5h0M903 826h0M903 825.5h0M903 828h0M903 824h0M904.5 825h0M904 827.5h0M904.5 824.5h0M904.5 827h0M905.5 825.5h0M905.5 826.5h0M905.5 827.5h0M907 826.5h0M907 828.5h0M906.5 826.5h0M906.5 825.5h0M907 823.5h0M908 829h0M908 824h0M908 826.5h0M909.5 824.5h0M909.5 823.5h0M909 826h0M910.5 827h0M910.5 825h0M910.5 826h0M910.5 824.5h0M911.5 824.5h0M911.5 825h0M912 822.5h0M911.5 826h0M912 826h0M913 824h0M913 825.5h0M913 837h0M914.5 827.5h0M914.5 824.5h0M914.5 825.5h0M914 826.5h0M914 825.5h0M915.5 827.5h0M915.5 825h0M915.5 824h0M917 828.5h0M916.5 827.5h0M917 826h0M916.5 824h0M918 828h0M918 825h0M918 823.5h0M918 826h0M919 824h0M919 826h0M919.5 826.5h0M919 825h0M920.5 825h0M920.5 829h0M920.5 828h0M922 824.5h0M921.5 826h0M921.5 824.5h0M922 828h0M923 825.5h0M923 825h0M923 824.5h0M923 824h0M925.5 828h0M925.5 826h0M925.5 824.5h0M925.5 822.5h0M925.5 827h0M925.5 828.5h0M926.5 826.5h0M927 823.5h0M926.5 825.5h0M927 826.5h0M927 825h0M926.5 824.5h0M928 826h0M928 826.5h0M928 825.5h0M928 827h0M928 824h0M929 825h0M929 824h0M929 827h0M929.5 826.5h0M929 824.5h0M929 828h0M929.5 828.5h0M930.5 825h0M930 826h0M930.5 826.5h0M930.5 824.5h0M930.5 825.5h0M931.5 824h0M931.5 826h0M932 826.5h0M931.5 824.5h0M931.5 825.5h0M933 826.5h0M933 824h0M933 827h0M933 842.5h0M932.5 824h0M933 823h0M934 827h0M934 826h0M934 824h0M934 825h0M934 825.5h0M935.5 824.5h0M935 826.5h0M935.5 826h0M935 824.5h0M935.5 825.5h0M935 825.5h0M936.5 824.5h0M936.5 824h0M936.5 826h0M936.5 827h0M936.5 827.5h0M936.5 825h0M936.5 826.5h0M937.5 824.5h0M937.5 825.5h0M938 826h0M937.5 826h0M938 825h0M938 823h0M937.5 827h0M938 826.5h0M938 825.5h0M939 826h0M939 826.5h0M939 824.5h0M939 827.5h0M939.5 826h0M939 825h0M940.5 827h0M940.5 824.5h0M940 826.5h0M940 825.5h0M940.5 826.5h0M940.5 825h0M941.5 827.5h0M941.5 822h0M941.5 826.5h0M941.5 828.5h0M941.5 824.5h0M941.5 825.5h0M941.5 826h0M941.5 825h0M943 825h0M942.5 825.5h0M942.5 827.5h0M943 826h0M943 827h0M944 848.5h0M944 825h0M944 824h0M944.5 825h0M944 826.5h0M944 825.5h0M944 826h0M944 823h0M945 826h0M945.5 824.5h0M945.5 826h0M945 826.5h0M945 828h0M945 825h0M945 827h0M946.5 824.5h0M946.5 826h0M946.5 825.5h0M946.5 825h0M946.5 824h0M946.5 827.5h0M947.5 826.5h0M947.5 823.5h0M947.5 825h0M947.5 827h0M948 824.5h0M948 825h0M947.5 824.5h0M950.5 825h0M950.5 829h0M950 827h0M950.5 826h0M951.5 824h0M951.5 825.5h0M953 825h0M953 826.5h0M952.5 825.5h0M954 824.5h0M954 825h0M954 826.5h0M955 822h0M955 827h0M955.5 827h0M763 827.5h0M763 827h0M762.5 827h0M763 828h0M763 826h0M763 826.5h0M764 827.5h0M764 827h0M764 826.5h0M765.5 827.5h0M765.5 826h0M765.5 828.5h0M765.5 826.5h0M765.5 827h0M765 827h0M766.5 827h0M766.5 826h0M766.5 827.5h0M768 828h0M768 827.5h0M768 827h0M767.5 828h0M767.5 827h0M768 826.5h0M769 827h0M769 828.5h0M769 827.5h0M769 826.5h0M770.5 828h0M770 827h0M770 826.5h0M770.5 826.5h0M770 827.5h0M770.5 827.5h0M770 828h0M770.5 827h0M770.5 826h0M771.5 827.5h0M771.5 827h0M771.5 828h0M772.5 827h0M772.5 828h0M772.5 827.5h0M772.5 826.5h0M774 828h0M774 827.5h0M774 827h0M774 826.5h0M775 826.5h0M775 827.5h0M775 827h0M775.5 827h0M775 828h0M775.5 827.5h0M775.5 826.5h0M776.5 827.5h0M776.5 828h0M776.5 827h0M776.5 826.5h0M776.5 826h0M778 827.5h0M778 828h0M777.5 827.5h0M778 827h0M777.5 826.5h0M779 827h0M779 826.5h0M779 828h0M779 828.5h0M779 827.5h0M780.5 827h0M780 828h0M780 827.5h0M780 827h0M780.5 827.5h0M780 826.5h0M781.5 826h0M781.5 826.5h0M781.5 827.5h0M781.5 827h0M783 827h0M783 827.5h0M782.5 827.5h0M784 827h0M784 827.5h0M784 826h0M784 826.5h0M785 827h0M785.5 827h0M785.5 827.5h0M785.5 828h0M785 827.5h0M785 828h0M786.5 828h0M786.5 827.5h0M786.5 827h0M639 823h0M766.5 635h0M823.5 709.5h0M828.5 723.5h0M694.5 738.5h0M773 756.5h0M848.5 768h0M728 769h0M773 771h0M895.5 771h0M758 779h0M728 785h0M728 792.5h0M767 791h0M769 794.5h0M770 798.5h0M765.5 798h0M823.5 793h0M823.5 796h0M828.5 795.5h0M831 802h0M823.5 803.5h0M824 806h0M831 809.5h0M728 806.5h0M728 812.5h0M694.5 811.5h0M694.5 818.5h0M695 818.5h0M719.5 817h0M904.5 815h0M932 814.5h0M937 817.5h0M687 821.5h0M724 816h0M844.5 959.5h0M914 885.5h0M830.5 885.5h0M829.5 880.5h0M773 861h0M830.5 860h0M905 848.5h0M905 844.5h0M848 855.5h0M814.5 846h0M824 843.5h0M828 841h0M848.5 855h0M832 851.5h0M929.5 835.5h0" stroke="#86ab47"/>
</g>
<polyline clip-path="url(#kBR)" points="683.3,825.8 683.7,825.8 684.2,825.8 684.6,825.8 685.0,825.8 685.4,825.8 685.8,825.8 686.2,825.8 686.7,825.7 687.1,825.7 687.5,825.7 687.9,825.7 688.3,825.7 688.7,825.7 689.1,825.7 689.6,825.7 690.0,825.7 690.4,825.7 690.8,825.7 691.2,825.7 691.6,825.7 692.0,825.7 692.5,825.7 692.9,825.7 693.3,825.7 693.7,825.7 694.1,825.7 694.5,825.7 694.9,825.7 695.4,825.7 695.8,825.7 696.2,825.7 696.6,825.7 697.0,825.7 697.4,825.7 697.9,825.7 698.3,825.7 698.7,825.7 699.1,825.7 699.5,825.7 699.9,825.7 700.3,825.7 700.8,825.7 701.2,825.7 701.6,825.7 702.0,825.7 702.4,825.7 702.8,825.7 703.2,825.7 703.7,825.7 704.1,825.7 704.5,825.7 704.9,825.7 705.3,825.7 705.7,825.7 706.1,825.7 706.6,825.6 707.0,825.6 707.4,825.6 707.8,825.6 708.2,825.6 708.6,825.6 709.1,825.6 709.5,825.6 709.9,825.6 710.3,825.6 710.7,825.6 711.1,825.6 711.5,825.6 712.0,825.6 712.4,825.6 712.8,825.6 713.2,825.5 713.6,825.5 714.0,825.5 714.4,825.5 714.9,825.5 715.3,825.5 715.7,825.5 716.1,825.5 716.5,825.5 716.9,825.5 717.4,825.5 717.8,825.4 718.2,825.4 718.6,825.4 719.0,825.4 719.4,825.4 719.8,825.4 720.3,825.4 720.7,825.4 721.1,825.3 721.5,825.3 721.9,825.3 722.3,825.3 722.7,825.3 723.2,825.2 723.6,825.2 724.0,825.2 724.4,825.2 724.8,825.2 725.2,825.1 725.6,825.1 726.1,825.1 726.5,825.0 726.9,825.0 727.3,825.0 727.7,824.9 728.1,824.9 728.6,824.9 729.0,824.8 729.4,824.8 729.8,824.8 730.2,824.7 730.6,824.7 731.0,824.7 731.5,824.6 731.9,824.6 732.3,824.5 732.7,824.5 733.1,824.5 733.5,824.4 733.9,824.4 734.4,824.3 734.8,824.3 735.2,824.2 735.6,824.2 736.0,824.1 736.4,824.1 736.8,824.0 737.3,823.9 737.7,823.9 738.1,823.8 738.5,823.7 738.9,823.6 739.3,823.6 739.8,823.5 740.2,823.4 740.6,823.3 741.0,823.2 741.4,823.1 741.8,823.1 742.2,823.0 742.7,822.9 743.1,822.8 743.5,822.7 743.9,822.6 744.3,822.5 744.7,822.4 745.1,822.3 745.6,822.2 746.0,822.0 746.4,821.9 746.8,821.8 747.2,821.6 747.6,821.5 748.0,821.4 748.5,821.2 748.9,821.1 749.3,820.9 749.7,820.8 750.1,820.6 750.5,820.5 751.0,820.3 751.4,820.2 751.8,820.0 752.2,819.9 752.6,819.7 753.0,819.5 753.4,819.4 753.9,819.2 754.3,819.0 754.7,818.8 755.1,818.7 755.5,818.5 755.9,818.3 756.3,818.1 756.8,817.9 757.2,817.8 757.6,817.6 758.0,817.4 758.4,817.2 758.8,817.1 759.3,816.9 759.7,816.7 760.1,816.5 760.5,816.4 760.9,816.2 761.3,816.0 761.7,815.9 762.2,815.8 762.6,815.7 763.0,815.6 763.4,815.5 763.8,815.5 764.2,815.4 764.6,815.4 765.1,815.3 765.5,815.3 765.9,815.3 766.3,815.3 766.7,815.3 767.1,815.4 767.5,815.4 768.0,815.4 768.4,815.5 768.8,815.6 769.2,815.7 769.6,815.8 770.0,815.9 770.5,816.0 770.9,816.1 771.3,816.3 771.7,816.4 772.1,816.6 772.5,816.8 772.9,817.0 773.4,817.2 773.8,817.3 774.2,817.5 774.6,817.7 775.0,817.9 775.4,818.0 775.8,818.2 776.3,818.4 776.7,818.6 777.1,818.8 777.5,818.9 777.9,819.1 778.3,819.3 778.7,819.5 779.2,819.6 779.6,819.8 780.0,820.0 780.4,820.1 780.8,820.3 781.2,820.4 781.7,820.6 782.1,820.7 782.5,820.9 782.9,821.0 783.3,821.2 783.7,821.3 784.1,821.5 784.6,821.6 785.0,821.7 785.4,821.9 785.8,822.0 786.2,822.1 786.6,822.2 787.0,822.3 787.5,822.4 787.9,822.5 788.3,822.6 788.7,822.7 789.1,822.8 789.5,822.9 789.9,823.0 790.4,823.1 790.8,823.2 791.2,823.3 791.6,823.4 792.0,823.5 792.4,823.5 792.9,823.6 793.3,823.7 793.7,823.8 794.1,823.8 794.5,823.9 794.9,824.0 795.3,824.0 795.8,824.1 796.2,824.2 796.6,824.2 797.0,824.3 797.4,824.3 797.8,824.4 798.2,824.4 798.7,824.4 799.1,824.5 799.5,824.5 799.9,824.6 800.3,824.6 800.7,824.6 801.2,824.7 801.6,824.7 802.0,824.8 802.4,824.8 802.8,824.8 803.2,824.9 803.6,824.9 804.1,824.9 804.5,825.0 804.9,825.0 805.3,825.0 805.7,825.1 806.1,825.1 806.5,825.1 807.0,825.1 807.4,825.2 807.8,825.2 808.2,825.2 808.6,825.2 809.0,825.3 809.4,825.3 809.9,825.3 810.3,825.3 810.7,825.3 811.1,825.4 811.5,825.4 811.9,825.4 812.4,825.4 812.8,825.4 813.2,825.4 813.6,825.4 814.0,825.4 814.4,825.5 814.8,825.5 815.3,825.5 815.7,825.5 816.1,825.5 816.5,825.5 816.9,825.5 817.3,825.5 817.7,825.5 818.2,825.5 818.6,825.5 819.0,825.6 819.4,825.6 819.8,825.6 820.2,825.6 820.6,825.6 821.1,825.6 821.5,825.6 821.9,825.6 822.3,825.6 822.7,825.6 823.1,825.6 823.6,825.6 824.0,825.6 824.4,825.6 824.8,825.6 825.2,825.6 825.6,825.7 826.0,825.7 826.5,825.7 826.9,825.7 827.3,825.7 827.7,825.7 828.1,825.7 828.5,825.7 828.9,825.7 829.4,825.7 829.8,825.7 830.2,825.7 830.6,825.7 831.0,825.7 831.4,825.7 831.9,825.7 832.3,825.7 832.7,825.7 833.1,825.7 833.5,825.7 833.9,825.7 834.3,825.7 834.8,825.7 835.2,825.7 835.6,825.7 836.0,825.7 836.4,825.7 836.8,825.7 837.2,825.7 837.7,825.7 838.1,825.7 838.5,825.7 838.9,825.7 839.3,825.7 839.7,825.7 840.1,825.7 840.6,825.7 841.0,825.7 841.4,825.7 841.8,825.7 842.2,825.7 842.6,825.7 843.1,825.7 843.5,825.7 843.9,825.7 844.3,825.7 844.7,825.7 845.1,825.7 845.5,825.8 846.0,825.8 846.4,825.8 846.8,825.8 847.2,825.8 847.6,825.8 848.0,825.8 848.4,825.8 848.9,825.8" fill="none" stroke="#000" stroke-width="2.9" stroke-dasharray="4.6 2.6"/>
<g fill="none" stroke-width="4.6" stroke-linecap="round">
<path d="M654.5 828.5h0M654.5 829h0M655 836h0M654.5 832.5h0M655 830.5h0M659.5 825h0M659.5 829h0M659.5 830h0M659.5 824h0M659.5 826.5h0M659.5 826h0M661 826h0M660.5 827h0M660.5 827.5h0M661 827.5h0M661 825h0M661 826.5h0M661 825.5h0M661 829.5h0M667 825.5h0M667 828.5h0M667 825h0M667 829h0M667 828h0M667 827.5h0M667 824h0M667 822.5h0M667 826h0M667 826.5h0M667 834h0M667 831.5h0M667 835.5h0M667 827h0M668 826.5h0M668.5 829h0M668 825.5h0M668.5 825h0M668 828.5h0M668.5 829.5h0M668.5 832h0M668 825h0M668 826h0M668 827h0M668 833h0M668 827.5h0M668 824.5h0M668 831.5h0M668.5 827.5h0M668.5 828.5h0M668 828h0M668.5 825.5h0M668.5 828h0M668 824h0M668 836h0M668.5 824.5h0M668.5 826.5h0M668.5 830.5h0M669.5 824h0M669.5 825.5h0M669.5 825h0M669.5 826.5h0M669.5 828h0M669.5 827.5h0M669.5 829h0M669.5 828.5h0M669.5 829.5h0M669.5 837.5h0M669.5 826h0M672 837.5h0M671.5 825.5h0M672 824.5h0M672 827h0M672 831h0M672 825.5h0M672 826h0M673 829.5h0M673 824h0M673.5 827h0M673 831.5h0M673 827.5h0M673 825h0M673 833.5h0M676.5 829h0M676.5 826.5h0M677 827.5h0M677 831.5h0M676.5 827.5h0M676.5 824.5h0M677 825h0M677 829h0M677 826h0M677 829.5h0M677 828h0M677 828.5h0M676.5 823h0M677 824.5h0M677 826.5h0M677 824h0M677 830.5h0M676.5 833h0M677 827h0M676.5 828.5h0M678 828.5h0M678 826.5h0M678 829h0M678 825.5h0M678 829.5h0M678 828h0M678 825h0M678 827h0M678 827.5h0M678 834.5h0M678 830.5h0M678 831.5h0M678 823.5h0M678 833.5h0M678 824.5h0M678 832h0M684.5 829h0M684.5 834h0M684.5 825.5h0M684 828h0M684.5 828h0M684.5 843.5h0M684 831.5h0M684.5 827h0M684.5 833.5h0M684 838h0M684.5 824.5h0M684 825h0M684.5 825h0M684 837h0M684.5 837h0M684.5 826h0M684.5 823.5h0M684.5 826.5h0M684 840h0M684.5 827.5h0M685.5 828h0M685.5 838h0M685.5 826.5h0M685.5 824h0M685.5 835h0M685.5 824.5h0M685.5 826h0M685.5 828.5h0M685.5 827h0M685.5 834h0M685.5 837h0M686 829h0M685.5 836h0M685.5 833h0M685.5 825h0M685.5 827.5h0M685.5 832h0M685.5 844.5h0M686 836h0M685.5 825.5h0M689.5 822.5h0M689.5 827.5h0M689.5 828h0M689 836h0M689.5 826.5h0M689.5 824h0M689 827h0M689 830h0M689 834h0M689 828.5h0M689 825.5h0M689.5 829h0M689 829h0M689 824.5h0M689.5 826h0M689 827.5h0M689 826.5h0M689.5 829.5h0M689.5 830.5h0M689.5 821h0M689.5 825h0M689.5 824.5h0M689 826h0M689 824h0M689.5 828.5h0M689 835h0M690.5 828.5h0M690.5 827h0M690.5 823h0M690.5 822.5h0M690.5 825h0M690.5 826.5h0M690.5 827.5h0M690.5 825.5h0M690.5 832h0M690.5 823.5h0M690.5 824h0M690.5 829h0M690.5 836h0M690.5 829.5h0M690.5 834.5h0M690.5 828h0M690.5 830h0M690.5 826h0M690.5 831.5h0M690.5 832.5h0M693 828h0M693 826.5h0M693 834h0M693 827h0M693 826h0M693 824h0M693 824.5h0M693 825h0M693 827.5h0M693 825.5h0M693 830h0M693 833h0M693 831h0M701.5 825h0M702 824h0M702 826.5h0M702 827.5h0M701.5 827.5h0M702 827h0M701.5 826.5h0M701.5 831.5h0M701.5 824h0M701.5 832h0M701.5 829.5h0M701.5 828.5h0M702 825h0M701.5 827h0M702 828h0M701.5 830h0M701.5 824.5h0M702 825.5h0M701.5 828h0M702 831h0M702 829.5h0M702 826h0M701.5 826h0M701.5 822.5h0M701.5 823.5h0M702 823.5h0M702 822h0M701.5 835h0M704.5 828h0M704 823.5h0M704 824h0M704 827h0M704.5 823h0M704 834h0M704.5 829h0M704 827.5h0M704 825.5h0M704.5 822.5h0M704 825h0M704 832h0M704.5 826h0M704 837.5h0M704 820.5h0M704 830h0M704.5 828.5h0M704.5 821.5h0M704 826.5h0M704.5 827h0M704.5 825.5h0M704 834.5h0M704.5 835h0M704 826h0M704 828.5h0M704.5 830.5h0M705.5 825h0M705.5 832h0M705.5 831.5h0M705.5 827h0M705.5 822.5h0M705 825.5h0M705.5 828h0M705.5 826.5h0M705.5 825.5h0M705.5 824.5h0M705.5 829h0M705.5 831h0M705.5 836.5h0M705.5 827.5h0M705 827.5h0M705.5 830.5h0M705.5 824h0M715.5 826h0M715 824h0M715 827.5h0M715 832.5h0M715.5 832h0M715.5 823.5h0M715 837.5h0M715.5 828.5h0M715.5 819.5h0M715.5 828h0M715.5 834h0M715.5 825h0M715.5 825.5h0M715 830h0M715 828h0M715.5 827h0M715.5 832.5h0M715.5 829h0M715.5 823h0M715 823h0M715.5 842.5h0M715 826h0M715.5 833h0M715.5 822.5h0M716.5 825.5h0M716.5 823h0M716.5 824h0M716.5 830h0M716.5 838h0M716.5 829.5h0M716.5 824.5h0M716.5 827.5h0M716.5 833h0M716.5 827h0M716.5 823.5h0M716.5 826.5h0M716.5 836h0M716.5 829h0M716.5 832h0M716.5 825h0M719 825h0M719 827.5h0M719 824h0M719 824.5h0M719 822.5h0M719 829.5h0M719 826h0M719 832.5h0M719 825.5h0M719 827h0M719 826.5h0M719 823h0M719 834.5h0M719 828h0M719 830.5h0M720.5 825h0M720.5 828.5h0M720 822h0M720.5 826h0M720 825.5h0M720.5 821.5h0M720.5 833.5h0M720.5 824h0M720.5 829.5h0M720.5 832.5h0M720.5 829h0M720 826h0M720 824h0M720.5 828h0M720 823.5h0M720 825h0M720 827.5h0M720 827h0M720.5 830h0M720.5 825.5h0M728 829h0M728 825h0M727.5 831h0M727.5 826.5h0M731.5 826.5h0M731.5 830h0M731.5 827h0M731.5 823.5h0M731.5 824h0M731.5 819.5h0M731.5 825h0M731.5 826h0M731.5 825.5h0M731.5 831h0M731.5 829h0M731.5 822h0M731.5 828.5h0M731.5 824.5h0M731.5 822.5h0M731.5 821.5h0M731.5 835h0M732.5 830h0M732.5 819.5h0M732.5 827.5h0M732.5 827h0M732.5 823h0M733 825.5h0M732.5 822.5h0M732.5 828h0M733 821.5h0M733 822.5h0M733 830.5h0M732.5 824.5h0M733 831h0M732.5 824h0M733 826.5h0M732.5 830.5h0M732.5 822h0M733 829h0M735 823h0M735 826h0M735 825h0M735 826.5h0M735 825.5h0M735 827h0M735.5 826.5h0M735 824h0M735.5 824h0M735 824.5h0M735 822.5h0M735 832h0M735.5 821.5h0M735.5 822.5h0M735 822h0M735.5 821h0M735 829h0M735 827.5h0M735 833h0M735.5 835h0M735.5 824.5h0M735 831h0M735 828h0M736.5 822h0M736.5 826h0M736.5 825h0M736.5 824.5h0M736.5 829h0M736.5 825.5h0M736.5 827.5h0M736.5 823.5h0M736.5 821h0M736.5 822.5h0M736.5 828.5h0M736.5 823h0M736.5 819.5h0M736.5 832.5h0M736.5 829.5h0M737.5 822.5h0M737.5 821.5h0M737.5 827.5h0M738 826h0M737.5 829h0M737.5 820.5h0M737.5 828h0M737.5 825.5h0M737.5 826h0M738 826.5h0M737.5 822h0M737.5 835h0M737.5 823h0M737.5 832h0M737.5 825h0M737.5 827h0M738 825.5h0M738 823h0M738 825h0M737.5 832.5h0M737.5 833.5h0M737.5 830.5h0M737.5 829.5h0M738 823.5h0M738 827h0M737.5 824.5h0M739 823.5h0M739 828.5h0M739 827h0M739 824h0M739 831h0M739 823h0M739 821h0M739 830h0M739 825h0M739 827.5h0M739 826.5h0M739 825.5h0M739 821.5h0M739 822.5h0M739 829h0M739 820.5h0M740 823.5h0M740 832h0M740 824.5h0M740 822.5h0M740 831h0M740 835h0M740 831.5h0M740 823h0M740.5 826.5h0M740 826h0M740 830h0M740 825.5h0M740 828h0M740.5 823h0M740 824h0M740 820h0M740 821.5h0M740 829.5h0M740.5 829.5h0M740 834.5h0M740.5 822.5h0M740.5 818h0M740.5 819.5h0M740.5 830.5h0M740 825h0M742.5 826h0M743 826h0M742.5 821h0M742.5 822h0M742.5 824.5h0M742.5 825h0M742.5 828h0M743 834.5h0M742.5 823.5h0M743 824.5h0M742.5 820.5h0M742.5 821.5h0M742.5 825.5h0M743 821h0M742.5 819h0M742.5 828.5h0M742.5 823h0M743 825.5h0M742.5 824h0M743 820h0M742.5 827h0M743 824h0M742.5 822.5h0M745 822h0M745 824h0M745 825h0M745 824.5h0M745 830h0M745 823.5h0M745 827.5h0M745 819h0M745 823h0M745 822.5h0M745.5 831h0M745.5 819.5h0M745.5 821.5h0M745 827h0M745 821h0M745 820h0M745 821.5h0M745 819.5h0M745 825.5h0M745.5 833h0M745 826.5h0M745.5 823.5h0M745 831.5h0M745 826h0M745.5 823h0M746.5 828.5h0M746.5 834.5h0M746.5 820h0M746.5 825.5h0M746.5 831.5h0M746.5 824.5h0M746.5 824h0M746.5 816.5h0M746 826h0M746 823h0M746.5 826h0M746.5 823.5h0M746.5 822.5h0M746.5 821.5h0M746 821h0M746 824.5h0M746.5 831h0M746 827.5h0M746.5 823h0M746.5 821h0M746.5 819.5h0M746.5 820.5h0M746 820h0M748 831.5h0M747.5 823.5h0M748 820h0M747.5 828h0M747.5 822.5h0M747.5 817h0M747.5 825.5h0M748 824h0M747.5 833.5h0M747.5 824.5h0M747.5 825h0M747.5 824h0M747.5 821h0M747.5 818.5h0M748 822h0M747.5 821.5h0M747.5 829h0M747.5 817.5h0M747.5 822h0M747.5 833h0M747.5 828.5h0M748 828.5h0M748 817h0M747.5 823h0M747.5 829.5h0M747.5 827.5h0M750 816h0M750 819.5h0M750 826h0M750 819h0M750 817h0M750 831.5h0M750 820.5h0M750 845h0M750 824h0M750.5 821h0M750 823h0M750 827.5h0M750 827h0M750 828h0M750 829h0M750.5 832h0M750 837h0M750 822.5h0M750 833.5h0M750 833h0M750 855.5h0M753 822h0M752.5 826.5h0M752.5 821.5h0M752.5 824h0M753 827.5h0M752.5 821h0M752.5 825.5h0M752.5 814.5h0M752.5 820.5h0M752.5 818.5h0M752.5 828.5h0M752.5 820h0M752.5 819h0M752.5 822.5h0M752.5 830h0M752.5 818h0M753 816h0M752.5 817.5h0M752.5 819.5h0M752.5 822h0M752.5 815h0M752.5 829h0M752.5 826h0M754 819.5h0M753.5 819.5h0M753.5 827h0M754 820h0M754 829.5h0M754 822.5h0M753.5 819h0M753.5 821h0M754 826h0M754 821.5h0M754 825.5h0M754 828h0M753.5 828.5h0M754 824.5h0M754 819h0M754 822h0M753.5 823.5h0M753.5 822h0M753.5 826.5h0M753.5 815h0M754 825h0M754 820.5h0M754 816.5h0M757.5 814h0M757.5 815.5h0M757.5 816.5h0M757.5 819.5h0M757.5 821h0M757.5 819h0M757.5 821.5h0M757.5 817h0M757.5 825.5h0M757.5 816h0M757.5 818.5h0M758 819.5h0M757.5 826h0M757.5 820h0M757.5 829h0M757.5 818h0M757.5 820.5h0M757.5 823.5h0M757.5 823h0M757.5 832.5h0M758.5 817.5h0M759 817.5h0M759 816h0M759 818.5h0M758.5 820h0M759 822.5h0M759 820h0M759 817h0M759 827h0M758.5 826h0M759 821h0M758.5 822.5h0M759 819.5h0M759 819h0M758.5 819.5h0M758.5 819h0M759 826h0M759 814.5h0M758.5 818h0M759 821.5h0M758.5 823.5h0M759 818h0M758.5 831.5h0M762.5 819.5h0M762.5 821h0M762.5 817.5h0M762.5 812h0M762.5 813.5h0M762.5 816.5h0M762.5 813h0M762.5 817h0M762.5 816h0M762.5 810.5h0M762.5 818h0M762.5 823.5h0M762.5 815.5h0M762.5 818.5h0M762.5 819h0M762.5 814.5h0M762.5 815h0M762.5 811.5h0M764 821.5h0M763.5 823h0M763.5 816h0M763.5 818h0M764 819.5h0M763.5 817h0M763.5 824.5h0M764 813h0M764 821h0M763.5 820h0M763.5 815.5h0M764 816.5h0M764 818.5h0M763.5 811.5h0M764 817h0M763.5 814.5h0M764 825h0M764 814.5h0M764 820h0M763.5 818.5h0M764 819h0M764 814h0M764 813.5h0M763.5 815h0M763.5 819.5h0M765 818.5h0M765 819h0M765 830.5h0M765 821h0M765 812.5h0M765 816h0M765 824h0M765 826.5h0M765 822h0M765 820.5h0M765 814h0M765 823.5h0M765 818h0M765 816.5h0M765 817.5h0M765 815.5h0M765 817h0M765 821.5h0M765 814.5h0M765 815h0M765 813h0M765 819.5h0M766.5 814h0M766 821.5h0M766.5 820h0M766 815.5h0M766.5 816h0M766.5 819h0M766 818h0M766 811.5h0M766 812.5h0M766 819.5h0M766.5 818.5h0M766 815h0M766 816.5h0M766.5 813.5h0M766 823h0M766 818.5h0M766.5 820.5h0M766.5 810.5h0M766 825.5h0M766 821h0M766 812h0M766.5 815.5h0M766.5 812.5h0M767.5 818h0M767.5 816.5h0M767.5 816h0M767.5 819.5h0M767.5 820.5h0M767.5 821.5h0M767.5 824h0M767.5 817.5h0M767.5 819h0M767.5 813h0M767.5 823.5h0M767.5 814h0M767.5 818.5h0M767.5 813.5h0M767.5 815.5h0M767.5 821h0M768.5 819h0M768.5 815h0M768.5 813h0M769 821h0M768.5 825h0M769 820.5h0M768.5 827h0M768.5 815.5h0M769 816.5h0M769 833.5h0M769 816h0M768.5 827.5h0M768.5 819.5h0M768.5 816h0M768.5 816.5h0M769 814.5h0M769 815h0M768.5 814h0M769 813.5h0M769 818h0M769 820h0M768.5 822h0M770 820h0M770 817.5h0M770 821h0M770 814h0M770 824.5h0M770 816h0M770 816.5h0M770 822.5h0M770 823.5h0M770 830h0M770 813.5h0M770 817h0M770 823h0M770 818h0M770 812.5h0M770 811.5h0M770 822h0M770 819h0M772.5 818.5h0M772.5 819.5h0M772.5 824h0M772.5 818h0M772.5 820.5h0M772.5 814.5h0M772.5 817h0M772.5 817.5h0M772.5 816.5h0M772.5 819h0M772.5 821.5h0M772.5 813.5h0M772.5 815.5h0M772.5 822.5h0M772.5 821h0M772.5 820h0M772.5 828h0M772.5 816h0M772.5 822h0M773.5 817.5h0M773.5 818h0M773.5 822.5h0M773.5 815h0M773.5 819.5h0M773.5 823.5h0M773.5 822h0M774 819.5h0M774 834.5h0M773.5 816.5h0M773.5 814.5h0M773.5 820h0M773.5 817h0M773.5 816h0M774 818h0M773.5 818.5h0M774 829.5h0M774 811h0M774 820.5h0M773.5 826h0M773.5 812h0M774 824.5h0M773.5 827h0M776 826h0M776 822.5h0M776 818h0M776 824.5h0M776 817.5h0M776 819h0M776 818.5h0M776 833.5h0M776 815h0M776 820.5h0M776 835.5h0M776 824h0M776 835h0M776 825h0M776 815.5h0M776 829h0M777 824.5h0M777.5 821.5h0M777.5 819h0M777.5 822.5h0M777.5 829h0M777 823.5h0M777.5 818h0M777.5 823.5h0M777.5 828h0M777 821h0M777.5 817h0M777.5 829.5h0M777 818.5h0M777.5 818.5h0M777.5 828.5h0M777.5 820h0M777.5 826h0M777.5 820.5h0M777.5 839.5h0M777 825.5h0M777.5 835.5h0M777.5 822h0M777 817h0M777.5 816.5h0M777.5 819.5h0M777.5 826.5h0M788.5 825h0M788.5 826.5h0M788.5 824.5h0M788.5 820h0M788.5 823h0M788.5 825.5h0M788.5 838.5h0M788.5 823.5h0M788.5 821.5h0M788.5 824h0M788.5 822.5h0M788.5 820.5h0M788.5 819h0M788.5 829.5h0M788.5 826h0M788.5 832.5h0M788.5 831.5h0M788.5 836h0M788.5 818h0M788.5 829h0M788.5 819.5h0M790 826.5h0M790 835.5h0M789.5 820.5h0M790 820h0M790 823.5h0M789.5 829.5h0M790 823h0M790 829.5h0M790 834.5h0M789.5 821h0M789.5 825.5h0M789.5 825h0M790 830.5h0M790 831h0M790 831.5h0M789.5 824h0M790 824.5h0M790 821.5h0M789.5 818h0M790 818h0M789.5 824.5h0M790 822.5h0M789.5 838h0M789.5 822.5h0M790 833.5h0M789.5 823h0M790 825h0M789.5 818.5h0M789.5 828h0M789.5 822h0M789.5 820h0M791.5 823.5h0M791 835.5h0M791 827.5h0M791 823.5h0M791 824h0M791 831h0M791 820h0M791 825.5h0M791 832.5h0M791 830h0M791 826.5h0M791.5 820.5h0M791 837.5h0M791 828h0M791 822.5h0M791 826h0M791.5 824.5h0M791 822h0M791 823h0M791 819h0M791 827h0M791 824.5h0M791 825h0M791 821h0M791 829h0M791 821.5h0M791 834h0M791 829.5h0M794.5 822h0M795 822h0M794.5 824h0M794.5 825h0M794.5 825.5h0M795 828h0M795 821.5h0M794.5 823h0M795 826.5h0M796 823.5h0M796 837.5h0M796 834.5h0M796 824.5h0M796 823h0M796 828h0M796 827.5h0M797.5 824.5h0M797.5 828.5h0M797.5 817.5h0M797.5 831.5h0M797 825h0M797 822.5h0M797.5 827h0M797 824h0M798.5 825.5h0M798.5 823.5h0M798.5 824h0M798.5 827h0M798.5 825h0M798.5 831h0M798.5 828h0M804.5 832.5h0M804.5 816.5h0M805 821h0M804.5 826.5h0M804.5 809h0M804.5 819h0M804.5 820h0M804.5 818.5h0M804.5 822h0M805 824h0M804.5 817.5h0M804.5 821.5h0M804.5 833h0M804.5 818h0M804.5 824h0M805 811h0M805 827h0M804.5 829.5h0M804.5 819.5h0M804.5 815.5h0M804.5 825.5h0M804.5 813.5h0M804.5 835.5h0M804.5 812.5h0M804.5 825h0M804.5 809.5h0M804.5 822.5h0M804.5 827h0M804.5 824.5h0M804.5 821h0M805 822.5h0M806 828h0M806 833h0M806 826.5h0M806 839h0M806 814.5h0M805.5 829.5h0M806 823h0M806 822.5h0M806 820h0M806 823.5h0M805.5 821.5h0M806 828.5h0M806 827.5h0M806 815.5h0M806 820.5h0M806 838.5h0M806 824.5h0M806 825.5h0M806 821.5h0M806 814h0M806 822h0M806 825h0M806 818.5h0M806 812h0M806 826h0M806 821h0M806 824h0M806 830.5h0M806 840h0M806 813.5h0M807.5 823h0M807 821h0M807 823h0M807 824.5h0M807.5 827h0M807.5 832.5h0M807.5 824.5h0M807 822h0M807 823.5h0M807.5 819.5h0M807.5 818h0M807.5 824h0M807 811h0M807.5 826h0M807 822.5h0M807 820h0M807.5 842h0M807 813.5h0M807 831h0M807 821.5h0M807 820.5h0M807 832h0M807.5 829.5h0M807 828.5h0M807 816h0M807.5 816h0M807 833h0M807 813h0M807 838h0M807 818.5h0M807.5 813.5h0M807 828h0M808.5 816.5h0M808.5 821.5h0M808 817.5h0M808.5 830h0M808.5 811.5h0M808.5 823h0M808.5 840.5h0M808.5 829h0M808.5 830.5h0M808.5 822h0M808.5 827h0M808.5 823.5h0M808.5 818.5h0M808.5 826.5h0M808.5 827.5h0M808.5 842.5h0M808.5 826h0M808.5 815h0M808.5 811h0M808.5 835h0M808.5 824h0M808.5 831.5h0M808.5 822.5h0M808.5 835.5h0M808.5 817h0M808.5 809h0M808.5 818h0M808.5 813h0M808.5 825h0M808.5 828h0M808.5 819.5h0M808.5 820.5h0M808.5 838h0M818.5 823h0M818.5 827h0M818.5 822h0M818 824.5h0M818.5 821h0M818 830.5h0M818.5 831.5h0M818.5 822.5h0M818.5 823.5h0M818.5 829h0M818 822.5h0M818 834.5h0M818 830h0M818.5 825.5h0M818 825.5h0M818.5 826.5h0M818 818.5h0M818.5 830.5h0M818.5 819h0M818.5 824.5h0M818.5 815.5h0M819.5 826h0M819.5 824h0M819.5 821h0M819.5 829h0M820 833.5h0M819.5 836.5h0M819.5 827.5h0M819.5 812h0M820 826h0M819.5 818h0M819.5 819.5h0M819.5 825.5h0M819.5 824.5h0M820 827h0M820 829h0M820 837h0M820 815h0M819.5 825h0M819.5 826.5h0M819.5 831.5h0M819.5 834.5h0M820 822.5h0M819.5 832h0M821 819.5h0M820.5 814h0M821 829.5h0M821 812h0M820.5 833.5h0M821 824h0M821 823h0M821 823.5h0M821 831.5h0M821 815.5h0M821 828h0M821 829h0M820.5 824.5h0M820.5 827h0M821 822.5h0M821 826.5h0M821 818h0M821 812.5h0M820.5 826.5h0M820.5 820.5h0M821 821.5h0M825.5 826.5h0M826 830.5h0M826 822h0M825.5 831.5h0M826 823.5h0M829.5 828.5h0M829.5 827.5h0M829.5 826h0M829.5 828h0M831 835h0M831 824h0M831 823.5h0M831 826h0M830.5 827.5h0M835.5 833h0M835.5 827h0M836 827.5h0M835.5 826.5h0M835.5 841h0M836 825.5h0M835.5 831.5h0M835.5 834h0M835.5 826h0M835.5 829h0M835.5 832h0M835.5 828h0M837 831h0M837 828h0M837 827.5h0M837 829.5h0M837 833.5h0M837 827h0M837 833h0M837 826.5h0M837 830.5h0M837 828.5h0M837 831.5h0M845.5 833.5h0M845.5 828h0M845.5 826h0M845.5 830.5h0M845.5 825.5h0M845.5 827h0M845.5 832.5h0M845.5 826.5h0M845.5 828.5h0M845.5 830h0M850.5 827h0M850.5 826h0M850.5 828h0M850.5 825.5h0M850.5 825h0M850.5 823h0M850.5 828.5h0M850.5 835h0M850.5 834.5h0M850.5 822h0M852 835.5h0M851.5 823h0M852 823h0M852 826h0M852 832.5h0M852 824h0M852 829h0M852 828.5h0M852 822h0M852 822.5h0M852 831h0M851.5 826h0M852 830h0M852 835h0M853 824.5h0M853 835.5h0M853 826.5h0M853 834.5h0M853 824h0M853 827.5h0M853.5 826h0M853.5 827.5h0M853 833.5h0M853 831.5h0M853 826h0M853.5 832.5h0M854 826h0M854 834h0M854.5 835h0M854.5 834h0M854 823.5h0M854.5 833.5h0M854.5 826h0M854 825h0M854.5 826.5h0M854.5 830.5h0M854.5 829.5h0M854.5 824.5h0M854.5 827.5h0M854 832h0M854.5 831.5h0M855.5 822h0M855.5 830h0M855.5 826h0M855.5 825.5h0M855.5 831.5h0M855.5 834.5h0M855.5 827h0M855.5 832h0M855.5 827.5h0M855.5 829.5h0M855.5 826.5h0M855.5 824h0M855.5 817h0M856.5 836h0M856.5 831.5h0M857 826.5h0M856.5 828.5h0M856.5 828h0M856.5 826.5h0M856.5 825.5h0M857 827h0M856.5 829.5h0M857 825.5h0M856.5 824.5h0M857 824.5h0M856.5 829h0M858 823.5h0M858 825h0M858 826.5h0M858 824h0M858 833h0M858 831h0M858 830h0M858 827h0M858 825.5h0M858 826h0M858 821.5h0M858 819.5h0M858 834h0M859.5 821.5h0M859.5 823.5h0M859.5 837h0M859 827.5h0M859.5 827.5h0M859.5 839h0M859 839h0M859.5 832h0M859 829.5h0M859 824.5h0M859.5 824.5h0M859.5 829h0M859.5 825.5h0M859.5 829.5h0M859.5 826.5h0M859 836h0M859.5 830.5h0M860.5 826h0M860.5 827.5h0M860.5 830.5h0M860.5 829h0M860.5 825h0M860.5 826.5h0M860.5 827h0M860.5 833.5h0M860.5 819h0M860.5 831.5h0M860.5 832.5h0M864 820h0M864.5 824.5h0M864 834h0M864 832h0M864 823.5h0M864 823h0M864.5 832.5h0M865.5 834h0M865.5 833.5h0M865.5 829h0M865.5 824.5h0M865.5 823.5h0M865.5 818.5h0M867 825h0M867 829.5h0M867 831h0M866.5 822.5h0M866.5 832h0M866.5 824h0M867 827.5h0M866.5 826.5h0M867 832h0M868 823h0M868 824h0M868 827h0M868 826.5h0M868 824.5h0M868 828.5h0M868 818h0M868 820.5h0M868 840h0M868 825.5h0M869.5 830h0M869.5 816.5h0M869 823h0M869 826h0M869 824h0M869 824.5h0M869 827h0M870.5 822h0M870.5 834.5h0M870.5 823h0M870.5 824h0M870.5 833.5h0M870.5 826.5h0M870.5 835h0M870.5 825h0M871.5 834.5h0M871.5 835.5h0M871.5 825h0M871.5 816.5h0M871.5 842.5h0M871.5 824h0M872 823h0M872 837h0M871.5 829.5h0M873 824h0M873 826.5h0M873 825h0M873 815h0M873 823.5h0M873 826h0M874 825.5h0M874 829.5h0M874 825h0M874.5 824.5h0M874 843.5h0M874.5 832h0M874 831h0M874.5 824h0M874.5 829h0M874 824h0M875.5 827h0M875.5 819.5h0M875.5 824.5h0M875.5 829h0M875.5 833h0M875.5 823h0M875.5 817.5h0M876.5 829.5h0M876.5 827.5h0M877 828h0M876.5 832.5h0M876.5 834.5h0M876.5 832h0M878 815h0M878 823h0M878 824h0M878 826h0M878 832h0M878 827.5h0M878 825.5h0M879 833h0M879 826h0M879 828h0M879 828.5h0M879 829h0M879.5 823h0M879 825.5h0M879.5 826.5h0M886.5 830.5h0M886.5 825h0M886.5 841h0M886.5 826h0M886.5 835h0M887 825.5h0M886.5 820h0M886.5 826.5h0M886.5 823.5h0M886.5 827h0M886.5 827.5h0M886.5 824h0M886.5 824.5h0M886.5 831h0M888 832h0M888 826.5h0M888 819h0M888 827h0M888 836.5h0M888 828.5h0M888 826h0M888 824.5h0M888 831.5h0M888 828h0M888 827.5h0M887.5 836h0M888 832.5h0M888 825h0M897.5 827h0M898 826.5h0M898 827.5h0M898 826h0M898 823.5h0M897.5 826.5h0M897.5 825.5h0M897.5 829.5h0M898 830.5h0M897.5 827.5h0M897.5 828h0M899 825.5h0M899 826.5h0M899 822.5h0M899 825h0M899 833.5h0M899 827.5h0M899 831.5h0M899 827h0M899 829h0M899 837h0M900 824.5h0M900.5 826h0M900.5 825.5h0M900.5 839h0M900.5 824.5h0M900 827.5h0M900.5 827h0M900.5 826.5h0M900 830.5h0M900.5 824h0M900.5 825h0M900 826h0M900 824h0M900.5 828h0M900 827h0M900 834.5h0M901.5 825.5h0M901.5 827.5h0M901.5 829.5h0M901.5 826.5h0M901.5 830.5h0M901.5 828h0M901.5 825h0M901.5 824h0M901.5 833.5h0M901.5 826h0M901.5 829h0M902.5 827h0M903 827h0M902.5 829.5h0M903 824h0M902.5 826.5h0M902.5 833.5h0M903 829h0M902.5 823.5h0M902.5 825h0M902.5 829h0M902.5 826h0M903 826.5h0M904 826h0M904 831h0M904 832h0M904 827h0M904 827.5h0M904 828.5h0M904 825.5h0M904 829h0M904 828h0M904 826.5h0M904 825h0M905 825h0M905 826h0M905.5 828.5h0M905.5 831h0M905.5 824h0M905 828h0M905 827h0M905 830.5h0M905.5 827h0M905 826.5h0M905 824h0M905 828.5h0M905.5 824.5h0M922.5 825h0M922.5 826.5h0M922.5 827h0M922.5 818h0M922.5 828h0M922.5 821h0M922.5 829.5h0M922.5 821.5h0M923 824.5h0M922.5 827.5h0M922.5 833.5h0M922.5 833h0M922.5 836h0M923.5 826.5h0M923.5 836.5h0M924 826.5h0M924 834h0M924 827h0M924 819h0M924 827.5h0M923.5 827h0M924 825.5h0M924 825h0M923.5 824h0M923.5 824.5h0M923.5 833.5h0M924 828.5h0M924 835.5h0M924 824h0M923.5 822.5h0M925 824.5h0M925 823.5h0M925 832h0M925 822h0M925 825.5h0M925 828.5h0M925 831.5h0M925 824h0M925 826.5h0M925 820.5h0M925 825h0M925 826h0M925 827h0M925 823h0M926 825.5h0M926.5 824.5h0M926.5 823.5h0M926.5 825.5h0M926 824.5h0M926.5 825h0M926.5 830h0M926 818h0M926.5 831.5h0M926 828h0M926 821.5h0M926.5 827h0M926 833h0M926 827.5h0M926.5 822h0M932.5 827h0M932.5 836h0M932.5 844h0M932.5 824h0M932.5 830.5h0M932.5 823.5h0M932.5 829h0M932.5 824.5h0M932.5 826h0M932.5 832.5h0M932.5 828h0M933.5 831.5h0M933.5 828.5h0M934 827.5h0M934 823h0M934 829h0M933.5 825.5h0M934 822.5h0M933.5 835h0M933.5 831h0M933.5 827h0M933.5 830h0M934 842.5h0M933.5 826.5h0M934 826h0M933.5 828h0M934 825.5h0M937.5 832.5h0M937.5 825h0M937.5 828.5h0M937.5 823.5h0M937.5 830.5h0M937.5 832h0M937.5 828h0M937.5 826h0M937.5 829.5h0M938.5 826.5h0M938.5 825.5h0M938.5 827.5h0M938.5 830h0M938.5 828h0M939 824.5h0M939 830.5h0M938.5 836h0M940 826h0M940 832.5h0M940 831h0M940 826.5h0M940 825h0M940 825.5h0M941 828h0M941 827h0M941 835h0M941 824.5h0M941 825.5h0M941 826h0M941 835.5h0M942.5 826.5h0M942.5 842h0M942.5 828h0M942.5 829.5h0M942.5 825.5h0M942.5 827h0M942.5 824.5h0M942 825.5h0M942.5 831.5h0M942.5 835.5h0M943.5 829.5h0M944 832.5h0M944 825h0M943.5 823.5h0M943.5 824.5h0M943.5 825.5h0M943.5 826.5h0M943.5 827h0M943.5 835.5h0M943.5 829h0M945 825h0M945 826.5h0M945 834.5h0M945 828h0M944.5 831h0M945 837.5h0M945 839h0M945 827.5h0M947.5 839.5h0M947.5 827h0M947.5 823.5h0M947.5 829.5h0M947.5 833h0M947.5 828.5h0M947.5 831.5h0M947.5 828h0M948.5 830h0M948.5 829.5h0M948.5 825h0M948.5 831.5h0M948.5 830.5h0M949 825.5h0M948.5 831h0M948.5 832h0M950 830.5h0M950 828.5h0M949.5 832.5h0M950 826h0M950 825.5h0M950 846h0M950 826.5h0M949.5 825.5h0M952.5 824h0M952.5 824.5h0M952.5 827h0M952.5 825h0M953.5 824.5h0M953.5 827h0M953.5 826.5h0M953.5 825h0M750 835.5h0M750 839.5h0M750 840.5h0M750 835h0M750 834h0M750 840h0M750 842h0M777.5 836h0M777.5 836.5h0M777.5 833.5h0M777.5 831.5h0M777.5 842h0M777.5 841h0M777 841h0M777.5 839h0M685.5 839h0M685.5 836.5h0M685.5 831.5h0M685.5 833.5h0M715 834.5h0M715.5 838h0M715 838h0M807 856.5h0M807 848.5h0M807 845.5h0M807 855.5h0M807 858h0M807 843h0M819.5 849.5h0M819.5 837h0M819.5 834h0M819.5 839h0M819.5 846.5h0M654.5 532h0M654.5 539h0M750 686.5h0M857 722.5h0M774 751h0M704.5 786.5h0M850.5 792.5h0M946 793h0M768 799h0M761 808h0M763.5 808h0M819.5 805.5h0M677 813.5h0M870 812h0M704.5 819h0M690.5 820.5h0M670 820h0M918.5 970.5h0M806.5 884h0M806.5 873.5h0M917 873.5h0M777.5 852h0M750 846.5h0M885 846.5h0M890 851.5h0M878 847h0M883 851.5h0M948 844.5h0M733 838h0M743 837h0M759 835.5h0" stroke="#0b55e8"/>
<path d="M788 839h0M788 822.5h0M788.5 827h0M788 843h0M788.5 821.5h0M788.5 824h0M788 829.5h0M788.5 822h0M788.5 841.5h0M788 821h0M788 823.5h0M788 821.5h0M788 830.5h0M788.5 822.5h0M788.5 832h0M788 834h0M788 826h0M788 824.5h0M788 825.5h0M788.5 826h0M788.5 825.5h0M788 823h0M788 829h0M788 841.5h0M788 824h0M788.5 824.5h0M790.5 823h0M790.5 823.5h0M790.5 833.5h0M790.5 832h0M791 824.5h0M790.5 828.5h0M790.5 834.5h0M790.5 829.5h0M790.5 824.5h0M790.5 822.5h0M791 828h0M790.5 821h0M791 828.5h0M792 824h0M792 822h0M792 824.5h0M792 826h0M792 822.5h0M792 840.5h0M792 823.5h0M792 837h0M791.5 832.5h0M792 827h0M792 821h0M792 823h0M792 836.5h0M792 832h0M793 826.5h0M793 825.5h0M793.5 831.5h0M793 827h0M793.5 824h0M793 823.5h0M793 837h0M793 828h0M793 832.5h0M793.5 824.5h0M793.5 821.5h0M793 833h0M793.5 825.5h0M793 827.5h0M794.5 827.5h0M794.5 826.5h0M794.5 837h0M794.5 840h0M794.5 829.5h0M794.5 832.5h0M794.5 825h0M794 827h0M794.5 827h0M794 826.5h0M795.5 838h0M796 835h0M795.5 828h0M795.5 836.5h0M795.5 829.5h0M795.5 828.5h0M795.5 826.5h0M795.5 827h0M796 825h0M795.5 833h0M795.5 835.5h0M795.5 825h0M796 824h0M795.5 824.5h0M795.5 831.5h0M795.5 825.5h0M797 824h0M797 825h0M797 826h0M797 828h0M796.5 826h0M796.5 825.5h0M797 859.5h0M796.5 842.5h0M797 825.5h0M796.5 826.5h0M797 828.5h0M797 824.5h0M797 832.5h0M796.5 827.5h0M797 843h0M798 827.5h0M798 827h0M798 830.5h0M798 815.5h0M798 836.5h0M798 839h0M798 836h0M798 832.5h0M798 831h0M798 825.5h0M798 826.5h0M798 847h0M799.5 828.5h0M799 828h0M799.5 825h0M799.5 821.5h0M799.5 826.5h0M799.5 834h0M799.5 826h0M799.5 825.5h0M799.5 830.5h0M799.5 827.5h0M799 826.5h0M805.5 824.5h0M805.5 835h0M805.5 825.5h0M805.5 826h0M805.5 825h0M805.5 827.5h0M805.5 840.5h0M805.5 830.5h0M805.5 828.5h0M805.5 843h0M805.5 836h0M805.5 826.5h0M805.5 824h0M805.5 823.5h0M806.5 825h0M807 828h0M807 825.5h0M807 829h0M807 826h0M807 827h0M806.5 827h0M806.5 825.5h0M807 823.5h0M806.5 831.5h0M807 822.5h0M807 832h0M807 824.5h0M806.5 829h0M807 825h0M808 826.5h0M808 841.5h0M808 827.5h0M808 826h0M808 828.5h0M808 824.5h0M808 825h0M808 827h0M808 828h0M808 830.5h0M808 836.5h0M808 825.5h0M808 838.5h0M808 831h0M809.5 826h0M809 827h0M809 825.5h0M809 828h0M809.5 825.5h0M809.5 833.5h0M809.5 829h0M809 824h0M809.5 824h0M809 828.5h0M809.5 828h0M809 826.5h0M809.5 823.5h0M809.5 826.5h0M809.5 827.5h0M809 827.5h0M809.5 830.5h0M809 836h0M809.5 827h0M809 826h0M809 832h0M809 830.5h0M812 824.5h0M812 825h0M811.5 824h0M812 826.5h0M811.5 827h0M812 825.5h0M812 829h0M812 828.5h0M813 825h0M813 824.5h0M813 824h0M813 825.5h0M813 826.5h0M813 827h0M813 829h0M813 826h0M813 827.5h0M813 830.5h0M813 823h0M813.5 826h0M813 821.5h0M813 828.5h0M813 819h0M813 833h0M813 828h0M814.5 825.5h0M814 827.5h0M814.5 824.5h0M814 827h0M814 835h0M814.5 823.5h0M814.5 825h0M814 823h0M814.5 836.5h0M814.5 818h0M814.5 828h0M814 829h0M814 826h0M814 823.5h0M814.5 833.5h0M814.5 827.5h0M814.5 826h0M814 828h0M814.5 824h0M814 825h0M814.5 827h0M814 824.5h0M814.5 826.5h0M815.5 828h0M815.5 825.5h0M815.5 830h0M815.5 827h0M815.5 825h0M815.5 824h0M815.5 833h0M815.5 826.5h0M815.5 827.5h0M815.5 831h0M815.5 826h0M815.5 823.5h0M815.5 829h0M815.5 828.5h0M815.5 824.5h0M815.5 830.5h0M815.5 823h0M815.5 831.5h0M817 825.5h0M817 827h0M816.5 830.5h0M816.5 825h0M816.5 824h0M816.5 826.5h0M816.5 825.5h0M816.5 827.5h0M817 833.5h0M816.5 828h0M816.5 823h0M817 824.5h0M816.5 824.5h0M817 826.5h0M816.5 828.5h0M816.5 826h0M816.5 827h0M817 826h0M817 823.5h0M816.5 823.5h0M816.5 822h0M817 824h0M817 828.5h0M817 825h0M816.5 830h0M817 836.5h0M816.5 832.5h0M817 827.5h0M817 834.5h0M819.5 819h0M819 830h0M819 826h0M819 823.5h0M819 831h0M819.5 823.5h0M819 822h0M819.5 829h0M819 835h0M819 827.5h0M819.5 822h0M819 828h0M819 826.5h0M819 823h0M819.5 828.5h0M819 820.5h0M819 816.5h0M819 824h0M819.5 833h0M819.5 826h0M819.5 827h0M821.5 833h0M821.5 828h0M821.5 827h0M821.5 824h0M821.5 829.5h0M821.5 824.5h0M821.5 825.5h0M821.5 828.5h0M821.5 831.5h0M821.5 826h0M821.5 836h0M821.5 832.5h0M821.5 835h0M821.5 823h0M821.5 817h0M821.5 822.5h0M821.5 825h0M822 828h0M821.5 827.5h0M823 823.5h0M823 826h0M823 838.5h0M823 828h0M823 827.5h0M823 824h0M823 831h0M823 826.5h0M823 827h0M823 824.5h0M823 830h0M823 828.5h0M823 829.5h0M823 833h0M823 825.5h0M823 825h0M822.5 826.5h0M824.5 827.5h0M824 831h0M824.5 830.5h0M824 832h0M824 827h0M824.5 826h0M824.5 828h0M824 824.5h0M824.5 825.5h0M824 829.5h0M824.5 823.5h0M824.5 827h0M824 825.5h0M824 825h0M824.5 826.5h0M824.5 825h0M824 828h0M824.5 829h0M824 826.5h0M824 826h0M825.5 826.5h0M825.5 824h0M825.5 828h0M825.5 826h0M825.5 825.5h0M825.5 829.5h0M825.5 827.5h0M825.5 825h0M825.5 828.5h0M825.5 832.5h0M825.5 831h0M825.5 829h0M826.5 826h0M827 826.5h0M827 833.5h0M826.5 831h0M827 827h0M826.5 822.5h0M826.5 823h0M826.5 837.5h0M826.5 832.5h0M826.5 827.5h0M827 827.5h0M826.5 826.5h0M826.5 833h0M827 824h0M827 825h0M826.5 831.5h0M826.5 827h0M828 824.5h0M828 826h0M828 825.5h0M828 827.5h0M828 830.5h0M828 827h0M828 829h0M827.5 826.5h0M828 826.5h0M828 835.5h0M828 828.5h0M828 831.5h0M828 833h0M828 829.5h0M828 832h0M829 829h0M829 824h0M829 831.5h0M829.5 824h0M829 825h0M829 826.5h0M829 829.5h0M829 828.5h0M829 822.5h0M829 827h0M829 828h0M829.5 826.5h0M829 823h0M829 822h0M829 821h0M829 827.5h0M829.5 829.5h0M829 835h0M830.5 825.5h0M830.5 830.5h0M830 829h0M830 827h0M830.5 826h0M830.5 830h0M830.5 824.5h0M830.5 827h0M830.5 826.5h0M830.5 827.5h0M830.5 828h0M830 828h0M830.5 825h0M830.5 828.5h0M830 836h0M830 831h0M830 825h0M831.5 825.5h0M831.5 828.5h0M831.5 831.5h0M831.5 824h0M831.5 825h0M831.5 828h0M831.5 822h0M831.5 827.5h0M831.5 829h0M831.5 826.5h0M831.5 834.5h0M831.5 838.5h0M831.5 833h0M831.5 830h0M840.5 825h0M840 825.5h0M840 828.5h0M840 826.5h0M840 827.5h0M840.5 825.5h0M840 826h0M840 829.5h0M840 832.5h0M840 827h0M840.5 840h0M840 836h0M840.5 827h0M840.5 833h0M840.5 832.5h0M840.5 833.5h0M840.5 838h0M840 850.5h0M841.5 827h0M841.5 825.5h0M841.5 827.5h0M841.5 828h0M841.5 825h0M841.5 826h0M841.5 824h0M841.5 828.5h0M841.5 826.5h0M841.5 821.5h0M841.5 838h0M841.5 829h0M841.5 835h0M842.5 836.5h0M843 827h0M843 827.5h0M843 826.5h0M843 839.5h0M842.5 825.5h0M843 828h0M843 828.5h0M842.5 831.5h0M843 825.5h0M843 829.5h0M842.5 829.5h0M842.5 828.5h0M842.5 826.5h0M843 826h0M844 828h0M844 824.5h0M844 838.5h0M844 826.5h0M844 831h0M844 827h0M844 825.5h0M844 829.5h0M844 828.5h0M844 826h0M844 829h0M845 825.5h0M845 828h0M845 823.5h0M845.5 835h0M845.5 828h0M845 825h0M845 829.5h0M845.5 825.5h0M845.5 836h0M845 826.5h0M845.5 827.5h0M845 828.5h0M845.5 830h0M845.5 825h0M845 827.5h0M845 835h0M850.5 827.5h0M850 841h0M850.5 837.5h0M850.5 826h0M850 847h0M850 831.5h0M850 828h0M850 827h0M850 828.5h0M850.5 830h0M850 826.5h0M850 827.5h0M850.5 833.5h0M850.5 835.5h0M850.5 826.5h0M850 835.5h0M850.5 831h0M851.5 843h0M851.5 827h0M851.5 828.5h0M851.5 833h0M851.5 832h0M851.5 836.5h0M851.5 835.5h0M851.5 825.5h0M851.5 829h0M851.5 830h0M851.5 837.5h0M851.5 827.5h0M851.5 826h0M851.5 826.5h0M852.5 844.5h0M852.5 827.5h0M852.5 836.5h0M852.5 827h0M852.5 838.5h0M852.5 833h0M853 827.5h0M852.5 834.5h0M852.5 830.5h0M853 827h0M852.5 828.5h0M852.5 844h0M853 825h0M853 828h0M852.5 829h0M852.5 828h0M853 845.5h0M854 826.5h0M854 829h0M854 835.5h0M854 831h0M854 832h0M854 830.5h0M854 827h0M854 828h0M854 826h0M854 823.5h0M854 830h0M854 837h0M854 832.5h0M854 839.5h0M854 828.5h0M854 833h0M854 841h0M855 828.5h0M855 827h0M855.5 826h0M855.5 829.5h0M855 826h0M855.5 831.5h0M855 834h0M855 827.5h0M855.5 828h0M855.5 834h0M855 828h0M855.5 827.5h0M855.5 833.5h0M855.5 831h0M856.5 825h0M856.5 830.5h0M856.5 826h0M856.5 829h0M856.5 825.5h0M856.5 828.5h0M856.5 828h0M856.5 826.5h0M856 827.5h0M856.5 827.5h0M856.5 840h0M856.5 834h0M856.5 827h0M856.5 838.5h0M856.5 833.5h0M856.5 830h0M856.5 829.5h0M857.5 828.5h0M857.5 836.5h0M857.5 838.5h0M858 829h0M858 827.5h0M857.5 833h0M858 830h0M857.5 829.5h0M857.5 829h0M857.5 828h0M857.5 830h0M857.5 833.5h0M857.5 830.5h0M859 828.5h0M859 826h0M859 835h0M859 827.5h0M859 830.5h0M858.5 829h0M859 827h0M859 828h0M859 833h0M859 825.5h0M859 840h0M859 829h0M858.5 828.5h0M859 826.5h0M859 830h0M860 829h0M860 834h0M860 827h0M860 838h0M860 828.5h0M860 826h0M860 836h0M860 827.5h0M860 840.5h0M860 835.5h0M860 842h0M860 829.5h0M860 828h0M860 825.5h0M860 836.5h0M861.5 827h0M861.5 826.5h0M861.5 837h0M861.5 829h0M861.5 828h0M861.5 829.5h0M861.5 830.5h0M861.5 827.5h0M861.5 840h0M861.5 838h0M861 828.5h0M861 829h0M861.5 846.5h0M861.5 836.5h0M861.5 825.5h0M861.5 833.5h0M862.5 830h0M862.5 827h0M862.5 825.5h0M862.5 826.5h0M863 825.5h0M862.5 827.5h0M862.5 828h0M863 827h0M862.5 828.5h0M862.5 835h0M862.5 829.5h0M862.5 830.5h0M862.5 825h0M862.5 826h0M862.5 836.5h0M864 828.5h0M864 829h0M864 832h0M864 840h0M864 829.5h0M864 827.5h0M864 826.5h0M863.5 828h0M864 827h0M864 830h0M864 825h0M864 828h0M863.5 836h0M863.5 827h0M865 824.5h0M865 826h0M865 822h0M865 829.5h0M865.5 824h0M865 834.5h0M865 828h0M865 827.5h0M865.5 824.5h0M865 825h0M865 825.5h0M865 829h0M865 827h0M865.5 827h0M865 836.5h0M865 828.5h0M865 830h0M865 831h0M865.5 828.5h0M865 826.5h0M865.5 825.5h0M865 833.5h0M865 830.5h0M866.5 827.5h0M866.5 832h0M866.5 824h0M866.5 824.5h0M866.5 829h0M866 828h0M866.5 826h0M866 826.5h0M866 826h0M866.5 825.5h0M866 829.5h0M866.5 828h0M866.5 837.5h0M866 827.5h0M866.5 838h0M866.5 834.5h0M866.5 825h0M866.5 827h0M867.5 837h0M867.5 826.5h0M867.5 825.5h0M867.5 832h0M867.5 827.5h0M867.5 824.5h0M867.5 825h0M867.5 826h0M867.5 828h0M867.5 823h0M867.5 839h0M867.5 828.5h0M867.5 829h0M867.5 834.5h0M867.5 834h0M868 827h0M868 823.5h0M869 830h0M868.5 826.5h0M869 836h0M868.5 827h0M869 827h0M869 823.5h0M869 826.5h0M869 827.5h0M868.5 830h0M869 824h0M869 826h0M869 825.5h0M868.5 827.5h0M869 828.5h0M869 828h0M869 829.5h0M868.5 823h0M868.5 826h0M870 825h0M870 826.5h0M870 826h0M870 830.5h0M870 832.5h0M870 827h0M870 829h0M870 827.5h0M870 828.5h0M870 840.5h0M870 825.5h0M870 824.5h0M871.5 828.5h0M871.5 827h0M871.5 834h0M871 826h0M871 827h0M871 826.5h0M871.5 826h0M871 825h0M871 827.5h0M871.5 828h0M871.5 826.5h0M871.5 825.5h0M871 836h0M871.5 823.5h0M871 823.5h0M871 835.5h0M871.5 829h0M871 828.5h0M873 826h0M873 827h0M872.5 827.5h0M872.5 826.5h0M872.5 824h0M872.5 825.5h0M872.5 831.5h0M873 830.5h0M872.5 833.5h0M872.5 825h0M872.5 828h0M872.5 836.5h0M872.5 840h0M873 832h0M873 826.5h0M872.5 823.5h0M872.5 828.5h0M873 825h0M872.5 827h0M873 824.5h0M872.5 826h0M874 825.5h0M874 826h0M874 825h0M874 827h0M873.5 842h0M874 828h0M873.5 827.5h0M873.5 831h0M874 822h0M873.5 831.5h0M873.5 825h0M873.5 836h0M874 832h0M873.5 832.5h0M873.5 828h0M874 824.5h0M874 829h0M875 825.5h0M875 831h0M875 829.5h0M875 839h0M875 836.5h0M875 828.5h0M875 826.5h0M875 826h0M875 828h0M875 824h0M875 827.5h0M875 827h0M875 833h0M875 835.5h0M876.5 829h0M876.5 827.5h0M876 827h0M876 828h0M876.5 833h0M876 827.5h0M876.5 840.5h0M876.5 827h0M876 831.5h0M876 831h0M876.5 826.5h0M876.5 826h0M876 834.5h0M876.5 825.5h0M876.5 823.5h0M876 835.5h0M876.5 832.5h0M876 826.5h0M877.5 826.5h0M877.5 823h0M877.5 823.5h0M877.5 827h0M877.5 828h0M877.5 828.5h0M877.5 825.5h0M877.5 827.5h0M877.5 826h0M877.5 832.5h0M877.5 829h0M877.5 824.5h0M877.5 833.5h0M877.5 824h0M877.5 835h0M877.5 831.5h0M879 825.5h0M878.5 826h0M879 826h0M878.5 827h0M878.5 830h0M878.5 826.5h0M878.5 828h0M878.5 833.5h0M879 825h0M879 827h0M879 824.5h0M878.5 825h0M879 827.5h0M878.5 825.5h0M879 834.5h0M878.5 831.5h0M879 828.5h0M879 826.5h0M879 824h0M878.5 827.5h0M880 833.5h0M880 835h0M880 821.5h0M880 830.5h0M880 826h0M880 825h0M880 825.5h0M880 827.5h0M880 829h0M880 831h0M880 838h0M880 832h0M880 827h0M880 826.5h0M880 829.5h0M880 828h0M880 833h0M880 830h0M880 831.5h0M880 823h0M880 824.5h0M881 825h0M881 828h0M881 823.5h0M881.5 828h0M881 829h0M881.5 843h0M881 827h0M881 824h0M881 825.5h0M881.5 825.5h0M881.5 827h0M881 830h0M881.5 830h0M881.5 826.5h0M881.5 828.5h0M881.5 825h0M881.5 834h0M881.5 829.5h0M881.5 824h0M881 827.5h0M881 820h0M881.5 826h0M882.5 824h0M882.5 828h0M882.5 825.5h0M882.5 826.5h0M882.5 827h0M882.5 831.5h0M882.5 826h0M882.5 836h0M882.5 828.5h0M882.5 825h0M882.5 824.5h0M882.5 827.5h0M882.5 832h0M882.5 829h0M883.5 828h0M883.5 830.5h0M884 833h0M884 831h0M884 827h0M884 828.5h0M883.5 827.5h0M884 827.5h0M884 830.5h0M884 832h0M884 836h0M883.5 829h0M884 833.5h0M884 826.5h0M883.5 827h0M883.5 826.5h0M884 825.5h0M883.5 832.5h0M883.5 825.5h0M883.5 824.5h0M884 829.5h0M884 831.5h0M885 827.5h0M885 826.5h0M885 828h0M885 824.5h0M885 829.5h0M885 827h0M885 842h0M885 825h0M885 834h0M885 823.5h0M885 826h0M885 831h0M885 830h0M885 825.5h0M885 824h0M886 833h0M886 832.5h0M886 826h0M886.5 826h0M886.5 828h0M886 825.5h0M886 827h0M886.5 827h0M886 827.5h0M886.5 834.5h0M887.5 828h0M887.5 828.5h0M887.5 827.5h0M887.5 830h0M887.5 826h0M887.5 833.5h0M887.5 829h0M887.5 831.5h0M887.5 826.5h0M887.5 827h0M888.5 828h0M888.5 827.5h0M889 828h0M888.5 830h0M888.5 841h0M889 829.5h0M888.5 829h0M888.5 838.5h0M888.5 827h0M888.5 828.5h0M888.5 825.5h0M889 827.5h0M906 830h0M906 829h0M906 827h0M906 831h0M906 827.5h0M906 842.5h0M906 826h0M906 830.5h0M906 833h0M906 845h0M906 831.5h0M906 829.5h0M906 828h0M906 826.5h0M907 828h0M907 829.5h0M907.5 838.5h0M907 830.5h0M907.5 828.5h0M907 835h0M907 833h0M907 827.5h0M907 828.5h0M907 829h0M907.5 829.5h0M907.5 831h0M907.5 824h0M907 827h0M907 824.5h0M907 838h0M907.5 830h0M907 833.5h0M908.5 827.5h0M908.5 827h0M908.5 826.5h0M908.5 835h0M908.5 828h0M908.5 829.5h0M908.5 825.5h0M908.5 831h0M908.5 832.5h0M910 833.5h0M910 828.5h0M909.5 829.5h0M910 825.5h0M909.5 827h0M909.5 828h0M910 826h0M910 828h0M910 827h0M910 827.5h0M909.5 824.5h0M910 826.5h0M910 829.5h0M909.5 827.5h0M910 823h0M911 846h0M911 827.5h0M911 826.5h0M911 829h0M911 832h0M911 834h0M911 847h0M911 830.5h0M911 835h0M911 828.5h0M911 828h0M911 827h0M911 833.5h0M911 825h0M912 827h0M912 828h0M912.5 833.5h0M912 829.5h0M912.5 838.5h0M912.5 839h0M912.5 827.5h0M912 828.5h0M912.5 828h0M912.5 827h0M912.5 828.5h0M912.5 830.5h0M912 830h0M912.5 829.5h0M912.5 834.5h0M912.5 831h0M912.5 830h0M912 827.5h0M913.5 831h0M913.5 830.5h0M913.5 822.5h0M913.5 836.5h0M913.5 828.5h0M913.5 829h0M913.5 844.5h0M913.5 826.5h0M913.5 838.5h0M913.5 827.5h0M913.5 842h0M913.5 828h0M913.5 827h0M913.5 830h0M913.5 831.5h0M913.5 836h0M914.5 833h0M914.5 830.5h0M914.5 826.5h0M914.5 827.5h0M915 829h0M914.5 836h0M915 826h0M915 839h0M915 828h0M915 836h0M914.5 840h0M914.5 837h0M915 829.5h0M915 837h0M914.5 836.5h0M915 832.5h0M914.5 828h0M915 832h0M915 828.5h0M914.5 847.5h0M915 834.5h0M916 828.5h0M916 827h0M916 829.5h0M916 832.5h0M916 825.5h0M916 822.5h0M916 833h0M916 828h0M916 827.5h0M916 826.5h0M916 829h0M916 838.5h0M917 831.5h0M917.5 828.5h0M917.5 837h0M917 833.5h0M917.5 827.5h0M917 822.5h0M917.5 826h0M917 829h0M917 828h0M917 826h0M917 830h0M917 829.5h0M917.5 829.5h0M917.5 830h0M918.5 827.5h0M918.5 825.5h0M918.5 827h0M918.5 836h0M918.5 826.5h0M918.5 828.5h0M918.5 838.5h0M918.5 829h0M918.5 832.5h0M918.5 829.5h0M918.5 835h0M918.5 830h0M918.5 828h0M919.5 831.5h0M920 826h0M919.5 826h0M920 826.5h0M920 828h0M920 828.5h0M919.5 822h0M919.5 828.5h0M919.5 829.5h0M919.5 828h0M919.5 825h0M919.5 829h0M920 832.5h0M921 829.5h0M921 828.5h0M921 828h0M921 826.5h0M921 831.5h0M921 829h0M921 830.5h0M921 832h0M921 831h0M921 837.5h0M922 827.5h0M922 825h0M922 826.5h0M922 830.5h0M922 832.5h0M922 831.5h0M922 833.5h0M922.5 832h0M922.5 840.5h0M922 829h0M922 825.5h0M922 827h0M922.5 829.5h0M923.5 830h0M923.5 827h0M923.5 829h0M923.5 828h0M923.5 831h0M923.5 836.5h0M923.5 833.5h0M923.5 828.5h0M923.5 824.5h0M923.5 835.5h0M923.5 827.5h0M923.5 821h0M924.5 828.5h0M925 826h0M925 827h0M925 829.5h0M924.5 827.5h0M924.5 831.5h0M925 828.5h0M924.5 835.5h0M924.5 835h0M925 827.5h0M924.5 834h0M924.5 828h0M926 828.5h0M926 827.5h0M926 828h0M926 832h0M926 826h0M926 833h0M925.5 831.5h0M925.5 828.5h0M926 830h0M926 821h0M926 829h0M926 830.5h0M926 829.5h0M926 825.5h0M927.5 825.5h0M927.5 826h0M927 825h0M927.5 826.5h0M927 829h0M927 828.5h0M927.5 830h0M927.5 829.5h0M927 829.5h0M927 832h0M927 828h0M927 833.5h0M927 833h0M927.5 828h0M927 826h0M927 827h0M927 831.5h0M927.5 832.5h0M927 834.5h0M928.5 827.5h0M928.5 828h0M928.5 826.5h0M928 831.5h0M928.5 827h0M928.5 831.5h0M928 827h0M928.5 829h0M928.5 829.5h0M928.5 831h0M928 827.5h0M928 826.5h0M928.5 830h0M928.5 826h0M929.5 832h0M929.5 826.5h0M930 828.5h0M929.5 827h0M929.5 825.5h0M929.5 828h0M929.5 830h0M929.5 830.5h0M930 829.5h0M929.5 824.5h0M929.5 828.5h0M929.5 827.5h0M929.5 837.5h0M930 827h0M930 825.5h0M929.5 829h0M930.5 827h0M931 826.5h0M931 828h0M930.5 836h0M931 827.5h0M931 828.5h0M931 829.5h0M931 826h0M931 841.5h0M931 825h0M930.5 827.5h0M931 827h0M931 830h0M930.5 828.5h0M932 827.5h0M932 836.5h0M932 837.5h0M932 829.5h0M932 827h0M932 829h0M932 831h0M932 825.5h0M932.5 823.5h0M932 828.5h0M932 828h0M933.5 828h0M933.5 826h0M933.5 833h0M933.5 827.5h0M933.5 831h0M933.5 826.5h0M933 826h0M933.5 831.5h0M933.5 829.5h0M933.5 827h0M933 828h0M933 833h0M933 828.5h0M933 829.5h0M933.5 830.5h0M933.5 825.5h0M933.5 829h0M933 831.5h0M933.5 828.5h0M933.5 834h0M935 835h0M934.5 828h0M934.5 827h0M934.5 829.5h0M934.5 827.5h0M935 834.5h0M934.5 825.5h0M935 829h0M934.5 835h0M935 828.5h0M934.5 829h0M934.5 831h0M934.5 828.5h0M934.5 824.5h0M934.5 826h0M935.5 829h0M936 828.5h0M936 833.5h0M936 826.5h0M936 826h0M936 824.5h0M936 829h0M936 829.5h0M936 836.5h0M936 830.5h0M936 827h0M936 832.5h0M935.5 826.5h0M935.5 826h0M936 821.5h0M936 828h0M936 834h0M937 825.5h0M937 826h0M937 835.5h0M937 827.5h0M937 829.5h0M937 821h0M937 827h0M937 828h0M937 823h0M937 828.5h0M938 826.5h0M938.5 828.5h0M938 828.5h0M938.5 829h0M938 828h0M938.5 831.5h0M938 824h0M938.5 826h0M938.5 830.5h0M938.5 826.5h0M938.5 829.5h0M938.5 828h0M938 827h0M938.5 831h0M938.5 832h0M939.5 839.5h0M940 827.5h0M939.5 826h0M939.5 828.5h0M939.5 826.5h0M939.5 830h0M939.5 835h0M939.5 823.5h0M939.5 829h0M939.5 827.5h0M940 826h0M939.5 828h0M939.5 824h0M939.5 825.5h0M939.5 829.5h0M939.5 827h0M939.5 832h0M939.5 830.5h0M940.5 836.5h0M941 834h0M941 826.5h0M940.5 831.5h0M940.5 827h0M940.5 827.5h0M941 834.5h0M941 828h0M941 827.5h0M941 826h0M941 825.5h0M941 830.5h0M941 831h0M941 829h0M941 832.5h0M941 831.5h0M941 827h0M941 832h0M941 830h0M940.5 839h0M940.5 826h0M942 829h0M942 826.5h0M942.5 826.5h0M942 829.5h0M942.5 830h0M942 828.5h0M942 827h0M942 826h0M942 834.5h0M942.5 830.5h0M942.5 827h0M942 828h0M942.5 826h0M942 827.5h0M942 832h0M943.5 827.5h0M943.5 828.5h0M943.5 832.5h0M943.5 829h0M943 828h0M943 829h0M943.5 829.5h0M943 835.5h0M943.5 830h0M944.5 827.5h0M944.5 835h0M944.5 830.5h0M944.5 828h0M944.5 836h0M944.5 828.5h0M944.5 829.5h0M944.5 829h0M944.5 830h0M944.5 827h0M944.5 826.5h0M944.5 822.5h0M946 829.5h0M946 827h0M946 826h0M945.5 829.5h0M945.5 827.5h0M946 826.5h0M945.5 825h0M946 833h0M946 827.5h0M945.5 830h0M946 829h0M945.5 835h0M945.5 826.5h0M945.5 833h0M947 834h0M947 832h0M947 827h0M947 828.5h0M947 830.5h0M947 827.5h0M947 832.5h0M947 828h0M947 840.5h0M947 829h0M947 826.5h0M947 830h0M947 834.5h0M947 826h0M947 836h0M948 827.5h0M948 834.5h0M948.5 830.5h0M948.5 827h0M948 830h0M948 826h0M948 829.5h0M948 831h0M948.5 828h0M948 829h0M948 828h0M948.5 824h0M948 821h0M948 833.5h0M948.5 829h0M948.5 829.5h0M949.5 823.5h0M949.5 822.5h0M949.5 832.5h0M949.5 828.5h0M949.5 830h0M949.5 829.5h0M949.5 827.5h0M949.5 830.5h0M949.5 826.5h0M949.5 828h0M949.5 831.5h0M949.5 825.5h0M949.5 829h0M949.5 827h0M949.5 826h0M950.5 825h0M951 831h0M950.5 826h0M951 833.5h0M950.5 831.5h0M950.5 826.5h0M950.5 830.5h0M950.5 829h0M950.5 828.5h0M950.5 827.5h0M950.5 828h0M951 832h0M951 829h0M951 825.5h0M952 828h0M952 825.5h0M952 827.5h0M952 831h0M952 830.5h0M952 828.5h0M952 826.5h0M952 824h0M952 831.5h0M952 829h0M952 833.5h0M953.5 827.5h0M953 826h0M953.5 829h0M953 824.5h0M953 827.5h0M953 829h0M953.5 828.5h0M953 832h0M953.5 828h0M953.5 830h0M953.5 825.5h0M953 828h0M953.5 827h0M953.5 833.5h0M953 831.5h0M954.5 830.5h0M954.5 835h0M954.5 822.5h0M954.5 826.5h0M954.5 826h0M954.5 829h0M954.5 828.5h0M954.5 832h0M954.5 827.5h0M954.5 833.5h0M954.5 831.5h0M955.5 827.5h0M955.5 824.5h0M956 826.5h0M955.5 829.5h0M955.5 828.5h0M955.5 821h0M956 829h0M955.5 830.5h0M956 820h0M955.5 828h0M955.5 827h0M955.5 825.5h0M957 841h0M957 827h0M957 822.5h0M957 830h0M957 828h0M957 832.5h0M957 826.5h0M957 827.5h0M957 829.5h0M957 829h0M957 828.5h0M957 826h0M957 825.5h0M958 828.5h0M958.5 827h0M958 827h0M958.5 830h0M958 824.5h0M958 827.5h0M958 828h0M958 830h0M958 829h0M958 826.5h0M958.5 826.5h0M958.5 826h0M794.5 839h0M794 843.5h0M794.5 858.5h0M794.5 852.5h0M794.5 855h0M794 856h0M794.5 861.5h0M794.5 839.5h0M794.5 857.5h0M794.5 857h0M796.5 843h0M796.5 852h0M797 848h0M797 840h0M797 842.5h0M796.5 849h0M797 841h0M841.5 854h0M841.5 845h0M841.5 865h0M841.5 869h0M841.5 841.5h0M841.5 853.5h0M841.5 867h0M841.5 871h0M852.5 869.5h0M852.5 866h0M852.5 841h0M853 849.5h0M853 860h0M852.5 855.5h0M852.5 872h0M852.5 852h0M852.5 869h0M862.5 851h0M863 860.5h0M862.5 871h0M862.5 855h0M862.5 874.5h0M862.5 870.5h0M862.5 853.5h0M862.5 847h0M862.5 856h0M871 847h0M871.5 854.5h0M871.5 841h0M871.5 853h0M871 843.5h0M871 853h0M875 855.5h0M875 873h0M875 860.5h0M875 868.5h0M875 853h0M875 867.5h0M875 843h0M875 844.5h0M875 844h0M916 852h0M916 868.5h0M916 869h0M916 869.5h0M916 836.5h0M916 850h0M916 858h0M916 862h0M916 840h0M916 848.5h0M916 839h0M918.5 839.5h0M918.5 850.5h0M918.5 862.5h0M918.5 847h0M918.5 840h0M918.5 842.5h0M923.5 853h0M923.5 851.5h0M923.5 850h0M923.5 851h0M944.5 866.5h0M944.5 860h0M944.5 863h0M944.5 859h0M944.5 863.5h0M944.5 866h0M829 852h0M829 837h0M829 839h0M829 838h0M829 846.5h0M818 846h0M818 835.5h0M818 849h0M818 848h0M818 845.5h0M928 624h0M907 759.5h0M819 805.5h0M843 810h0M843.5 815.5h0M828.5 811.5h0M790 810h0M793.5 814.5h0M795.5 816h0M857.5 813.5h0M955 820.5h0M834 813h0M873.5 901h0M794 875.5h0M926.5 879h0M842.5 862h0M842.5 866h0M843 870h0M843 874h0" stroke="#e9635f"/>
</g>
<g font-family="'Liberation Sans', sans-serif" font-size="16.8" fill="#0a0a0a" opacity="0.995"><text x="629.25" y="993.00" text-anchor="middle">7050</text><text x="691.29" y="993.00" text-anchor="middle">7100</text><text x="753.33" y="993.00" text-anchor="middle">7150</text><text x="815.38" y="993.00" text-anchor="middle">7200</text><text x="877.42" y="993.00" text-anchor="middle">7250</text><text x="939.46" y="993.00" text-anchor="middle">7300</text><text x="1001.50" y="993.00" text-anchor="middle">7350</text><text x="616.95" y="948.20" text-anchor="end">-20000</text><text x="616.95" y="890.83" text-anchor="end">-10000</text><text x="616.95" y="833.46" text-anchor="end">0</text><text x="616.95" y="776.09" text-anchor="end">10000</text><text x="616.95" y="718.71" text-anchor="end">20000</text><text x="616.95" y="661.34" text-anchor="end">30000</text><text x="616.95" y="603.97" text-anchor="end">40000</text><text x="616.95" y="546.60" text-anchor="end">50000</text></g>
<g font-family="'Liberation Sans', sans-serif" font-size="16.8" fill="#0a0a0a" opacity="0.995">
<text x="308.9" y="30" text-anchor="middle">BLG04M1011.0744</text>
<text x="812.6" y="30" text-anchor="middle" xml:space="preserve">2561  18.38  0.07  789</text>
<text x="308.9" y="1017.6" text-anchor="middle">time (HJD-2450000)</text>
<text x="812.9" y="1017.6" text-anchor="middle">time (HJD-2450000)</text>
<text transform="translate(39.4 264.3) rotate(-90)" text-anchor="middle">d flux</text>
<text transform="translate(39.4 751.3) rotate(-90)" text-anchor="middle">d flux</text>
</g>
</svg></body></html>
